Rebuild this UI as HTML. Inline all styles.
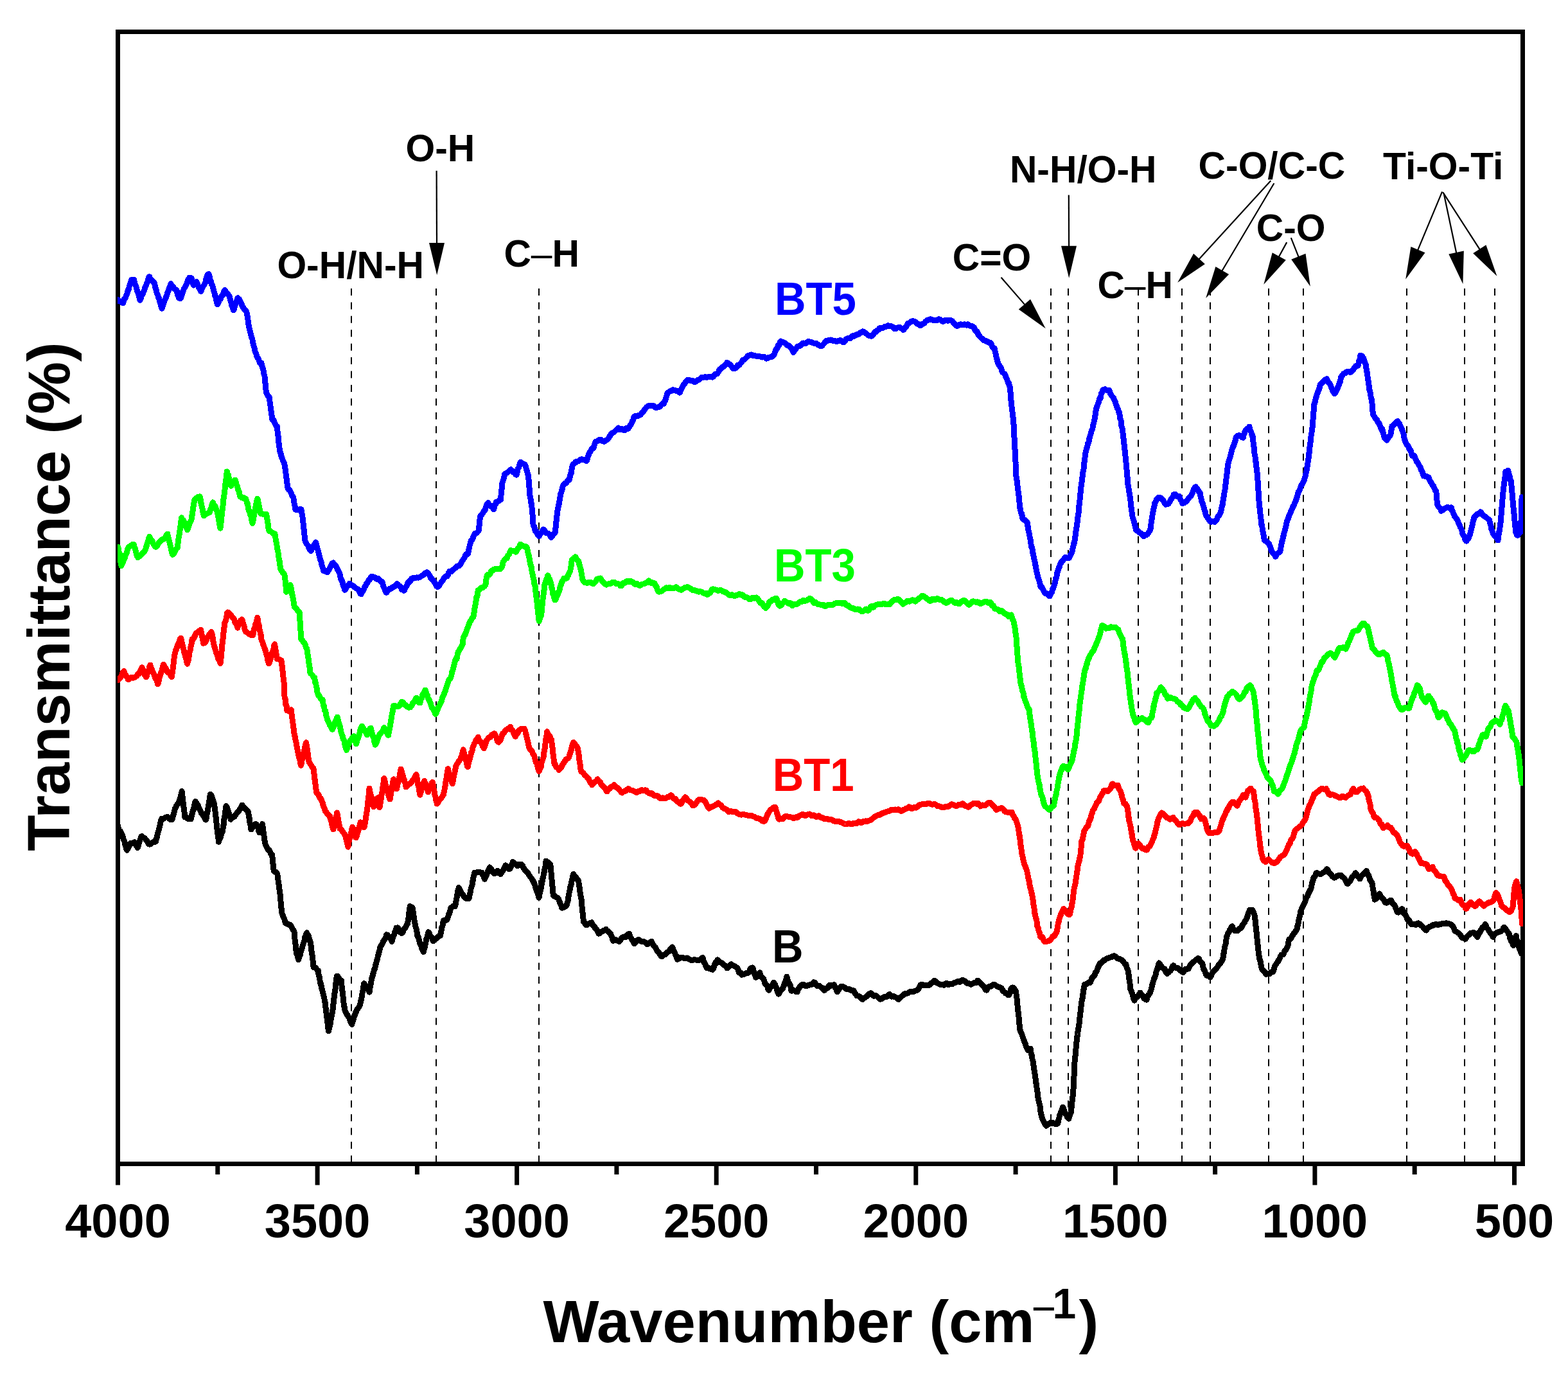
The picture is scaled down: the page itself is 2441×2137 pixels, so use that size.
<!DOCTYPE html>
<html><head><meta charset="utf-8"><style>
html,body{margin:0;padding:0;background:#fff;}
svg{display:block;}
text{font-family:"Liberation Sans",Arial,Helvetica,sans-serif;font-weight:bold;}
.tl{font-size:74px;text-anchor:middle;}
.an{font-size:58.8px;}
.lb{font-size:71.5px;}
.ax{font-size:92.2px;}
.ay{font-size:92px;}
</style></head><body>
<svg width="2441" height="2137" viewBox="0 0 2441 2137">
<rect width="2441" height="2137" fill="#fff"/>
<line x1="547" y1="449" x2="547" y2="1808" stroke="#000" stroke-width="2" stroke-dasharray="11 10.42"/>
<line x1="679" y1="449" x2="679" y2="1808" stroke="#000" stroke-width="2" stroke-dasharray="11 10.42"/>
<line x1="839" y1="449" x2="839" y2="1808" stroke="#000" stroke-width="2" stroke-dasharray="11 10.42"/>
<line x1="1636" y1="449" x2="1636" y2="1808" stroke="#000" stroke-width="2" stroke-dasharray="11 10.42"/>
<line x1="1663" y1="449" x2="1663" y2="1808" stroke="#000" stroke-width="2" stroke-dasharray="11 10.42"/>
<line x1="1772" y1="449" x2="1772" y2="1808" stroke="#000" stroke-width="2" stroke-dasharray="11 10.42"/>
<line x1="1840" y1="449" x2="1840" y2="1808" stroke="#000" stroke-width="2" stroke-dasharray="11 10.42"/>
<line x1="1884" y1="449" x2="1884" y2="1808" stroke="#000" stroke-width="2" stroke-dasharray="11 10.42"/>
<line x1="1975" y1="449" x2="1975" y2="1808" stroke="#000" stroke-width="2" stroke-dasharray="11 10.42"/>
<line x1="2029" y1="449" x2="2029" y2="1808" stroke="#000" stroke-width="2" stroke-dasharray="11 10.42"/>
<line x1="2190" y1="449" x2="2190" y2="1808" stroke="#000" stroke-width="2" stroke-dasharray="11 10.42"/>
<line x1="2280" y1="449" x2="2280" y2="1808" stroke="#000" stroke-width="2" stroke-dasharray="11 10.42"/>
<line x1="2327" y1="449" x2="2327" y2="1808" stroke="#000" stroke-width="2" stroke-dasharray="11 10.42"/>
<rect x="183.5" y="49.5" width="2187" height="1762" fill="none" stroke="#000" stroke-width="7"/>
<defs><clipPath id="pc"><rect x="183" y="53" width="2188" height="1755"/></clipPath></defs><g clip-path="url(#pc)">
<polyline points="183.0,1283.3 183.8,1286.6 184.6,1289.5 185.4,1291.8 186.2,1293.3 187.0,1293.4 187.8,1294.0 188.6,1295.9 189.3,1297.8 190.1,1299.4 190.9,1301.6 191.7,1304.1 192.2,1306.1 192.6,1307.1 193.1,1307.8 193.5,1309.0 194.0,1310.7 194.4,1313.2 194.9,1315.5 195.3,1316.5 195.8,1317.2 196.2,1319.2 196.7,1321.2 197.1,1322.1 197.6,1323.2 198.3,1322.0 199.1,1321.2 199.8,1319.9 200.5,1317.9 201.2,1316.0 201.9,1315.2 202.7,1313.8 203.4,1312.3 205.4,1312.5 207.3,1311.8 209.3,1310.7 210.1,1312.2 210.9,1313.5 211.7,1315.6 212.4,1316.6 213.2,1317.1 214.0,1319.6 214.6,1319.0 215.2,1316.9 215.8,1314.4 216.3,1312.7 216.9,1311.2 217.5,1309.1 218.1,1307.3 218.7,1305.8 219.2,1303.3 219.8,1302.0 220.4,1302.1 221.0,1301.5 222.2,1303.2 223.4,1303.9 224.5,1303.9 225.7,1305.0 226.9,1306.9 228.1,1307.8 229.2,1309.5 230.4,1312.0 231.6,1313.8 233.3,1314.1 235.1,1313.5 236.8,1311.7 238.6,1310.5 240.3,1309.6 242.1,1310.1 242.6,1309.7 243.0,1307.3 243.5,1305.0 244.0,1304.6 244.4,1303.4 244.9,1299.9 245.4,1297.5 245.9,1295.8 246.3,1294.1 246.8,1293.1 247.2,1291.4 247.6,1290.4 248.0,1288.7 248.4,1286.8 248.8,1286.0 249.2,1283.8 249.5,1281.3 249.9,1279.7 250.3,1278.7 250.7,1277.3 251.1,1275.5 251.5,1274.5 253.1,1274.6 254.6,1274.2 256.2,1273.2 257.8,1272.1 259.3,1271.8 260.9,1271.5 262.3,1272.5 263.7,1274.4 265.1,1275.6 266.5,1275.0 267.9,1275.5 268.3,1274.3 268.8,1272.8 269.2,1271.0 269.6,1269.1 270.0,1268.6 270.5,1267.4 270.9,1264.7 271.3,1263.0 271.7,1261.8 272.2,1260.1 272.6,1258.3 273.6,1256.6 274.5,1254.5 275.5,1252.6 276.5,1251.2 277.4,1250.4 278.4,1249.2 278.9,1247.3 279.3,1245.4 279.8,1244.1 280.3,1242.8 280.8,1241.3 281.2,1239.3 281.7,1237.2 282.2,1236.1 282.6,1234.4 283.1,1231.6 283.3,1232.5 283.5,1234.2 283.7,1236.9 283.9,1238.5 284.1,1239.7 284.3,1242.5 284.5,1244.7 284.7,1245.5 284.9,1246.9 285.1,1248.9 285.3,1251.1 285.6,1254.0 285.8,1255.8 286.0,1256.3 286.2,1257.5 286.4,1259.3 286.6,1261.0 286.8,1262.6 287.0,1263.9 287.2,1265.8 287.4,1268.5 287.6,1270.8 287.8,1271.7 289.4,1271.2 290.9,1272.4 292.5,1274.3 294.1,1274.3 295.6,1274.0 297.2,1274.8 297.6,1273.3 298.0,1271.2 298.4,1268.7 298.8,1267.1 299.1,1266.8 299.5,1265.1 299.9,1262.6 300.3,1261.7 300.7,1261.3 301.1,1260.7 301.5,1259.1 301.9,1257.0 302.3,1255.0 302.6,1253.5 303.0,1251.9 303.4,1250.2 303.8,1248.9 304.2,1247.5 305.0,1248.4 305.8,1249.8 306.5,1251.5 307.3,1252.1 308.1,1252.8 308.9,1255.2 309.6,1257.5 310.4,1259.1 311.2,1260.4 312.1,1262.0 312.9,1264.4 313.8,1266.1 314.6,1267.2 315.5,1268.1 316.3,1269.4 317.2,1270.8 318.0,1271.6 318.9,1273.7 319.7,1275.5 320.6,1276.1 320.9,1274.5 321.1,1273.7 321.4,1272.8 321.7,1270.8 321.9,1268.7 322.2,1266.8 322.5,1264.6 322.8,1263.5 323.0,1262.9 323.3,1262.2 323.6,1261.5 323.8,1259.5 324.1,1256.5 324.4,1255.1 324.6,1254.3 324.9,1252.3 325.2,1250.3 325.4,1248.5 325.7,1246.6 326.0,1245.5 326.3,1244.2 326.5,1241.4 326.8,1239.5 327.1,1237.9 327.3,1236.8 327.6,1236.2 328.2,1236.7 328.8,1237.3 329.4,1239.5 330.0,1240.8 330.6,1241.9 331.1,1244.1 331.7,1246.3 332.3,1248.0 332.9,1249.6 333.5,1250.9 333.7,1252.2 333.9,1254.0 334.1,1256.4 334.3,1258.1 334.5,1259.3 334.7,1260.7 334.9,1261.9 335.1,1263.9 335.2,1267.5 335.4,1269.8 335.6,1269.7 335.8,1270.0 336.0,1271.2 336.2,1272.7 336.4,1276.0 336.6,1278.8 336.8,1279.5 337.0,1280.9 337.2,1282.6 337.4,1283.5 337.6,1286.4 337.8,1289.5 338.0,1289.8 338.2,1289.5 338.4,1291.3 338.6,1294.3 338.8,1296.2 338.9,1297.0 339.1,1299.4 339.3,1302.3 339.5,1302.5 339.7,1302.4 339.9,1304.6 340.1,1306.6 340.3,1308.2 340.5,1310.4 341.1,1308.5 341.7,1306.1 342.3,1305.3 342.9,1304.8 343.4,1303.4 344.0,1301.0 344.6,1298.4 345.2,1296.2 345.8,1295.2 346.4,1294.3 346.6,1292.5 346.9,1290.6 347.1,1288.7 347.3,1287.3 347.6,1286.2 347.8,1284.6 348.0,1283.8 348.3,1283.0 348.5,1279.9 348.7,1276.3 349.0,1275.0 349.2,1274.3 349.4,1272.6 349.6,1271.1 349.9,1269.8 350.1,1268.5 350.3,1266.8 350.6,1264.5 350.8,1262.9 351.0,1261.3 351.3,1259.1 351.5,1257.4 351.7,1256.0 352.0,1254.8 352.2,1254.6 352.7,1256.9 353.3,1257.3 353.8,1257.6 354.4,1259.5 354.9,1261.6 355.5,1263.5 356.0,1265.0 356.6,1266.9 357.1,1269.1 357.7,1269.6 358.2,1270.1 358.8,1272.6 359.3,1275.3 360.7,1273.7 362.0,1271.5 363.4,1271.3 364.8,1271.4 366.1,1269.2 367.5,1267.1 368.4,1265.8 369.4,1264.4 370.3,1263.1 371.3,1262.8 372.2,1261.6 373.1,1259.4 374.1,1258.6 375.0,1257.7 376.0,1254.9 376.9,1253.0 378.1,1254.8 379.2,1256.0 380.4,1257.1 381.5,1258.1 382.7,1259.5 383.9,1261.1 385.0,1262.1 386.2,1262.8 386.5,1264.5 386.8,1266.8 387.1,1268.4 387.4,1269.7 387.7,1271.9 388.0,1273.4 388.3,1273.4 388.5,1275.4 388.8,1279.7 389.1,1281.2 389.4,1281.3 389.7,1283.0 390.0,1284.4 390.3,1286.0 390.6,1288.9 390.9,1290.9 392.1,1289.1 393.2,1287.5 394.4,1285.6 395.6,1284.1 396.8,1283.1 397.9,1282.5 399.1,1283.0 399.6,1284.7 400.1,1285.2 400.7,1286.9 401.2,1287.4 401.7,1288.0 402.2,1291.3 402.8,1294.0 403.3,1294.6 403.8,1296.0 404.4,1295.0 405.0,1292.8 405.6,1290.8 406.1,1289.2 406.7,1287.5 407.3,1285.9 407.9,1284.4 408.5,1282.5 408.7,1284.2 409.0,1286.1 409.2,1287.2 409.5,1289.2 409.7,1292.1 410.0,1294.3 410.2,1295.4 410.5,1296.4 410.7,1298.5 411.0,1301.0 411.2,1302.4 411.5,1303.1 411.7,1305.7 412.0,1308.6 412.2,1309.7 412.5,1310.5 412.7,1312.0 413.0,1313.8 413.2,1314.7 414.1,1315.8 414.9,1318.1 415.8,1319.7 416.7,1321.2 417.6,1323.3 418.4,1323.4 419.3,1323.4 420.2,1325.5 421.1,1327.8 421.9,1329.1 422.8,1329.8 423.7,1330.8 423.9,1332.2 424.0,1334.5 424.2,1337.0 424.4,1337.7 424.6,1338.3 424.7,1340.9 424.9,1343.6 425.1,1344.7 425.2,1345.4 425.4,1347.1 425.6,1349.6 425.8,1351.0 425.9,1351.9 426.1,1355.1 427.3,1357.0 428.4,1356.9 429.6,1357.4 430.7,1358.5 431.9,1360.7 432.1,1363.0 432.3,1364.8 432.6,1366.8 432.8,1368.0 433.0,1370.1 433.2,1371.9 433.4,1372.8 433.6,1374.6 433.9,1376.0 434.1,1376.8 434.3,1378.0 434.5,1379.9 434.7,1382.4 435.0,1384.3 435.2,1385.6 435.4,1387.3 435.6,1388.4 435.7,1389.0 435.9,1390.0 436.1,1392.3 436.2,1395.0 436.4,1396.5 436.5,1398.2 436.7,1400.2 436.9,1401.1 437.0,1403.1 437.2,1405.9 437.4,1407.2 437.5,1408.4 437.7,1410.6 437.9,1412.1 438.0,1413.3 438.2,1414.8 438.3,1415.4 438.5,1417.1 438.7,1419.3 438.8,1420.6 439.0,1421.7 439.6,1423.0 440.3,1424.9 440.9,1426.7 441.6,1428.0 442.2,1429.2 442.9,1431.2 443.5,1433.9 444.2,1436.1 444.8,1437.1 446.6,1437.0 448.4,1438.4 450.1,1439.8 451.9,1439.7 452.9,1440.5 453.8,1442.6 454.8,1444.9 455.8,1446.6 456.7,1448.2 457.7,1448.9 457.9,1449.5 458.1,1451.3 458.2,1452.3 458.4,1453.5 458.6,1455.5 458.8,1457.8 458.9,1461.1 459.1,1463.0 459.3,1463.3 459.4,1464.2 459.6,1465.2 459.8,1467.2 460.0,1469.3 460.1,1470.7 460.3,1472.6 460.5,1474.4 460.7,1476.6 460.8,1478.1 461.0,1479.6 461.2,1482.0 461.7,1484.0 462.2,1485.6 462.7,1486.5 463.2,1487.4 463.7,1489.8 464.2,1492.3 464.7,1493.8 465.2,1491.6 465.6,1489.1 466.1,1487.0 466.6,1487.2 467.1,1487.1 467.5,1484.7 468.0,1482.1 468.5,1480.5 469.0,1479.5 469.4,1478.2 469.9,1476.2 470.4,1474.6 470.9,1473.1 471.3,1471.6 471.8,1469.9 472.3,1468.4 472.8,1467.1 473.2,1466.0 473.7,1464.9 474.2,1462.1 474.7,1458.9 475.2,1457.6 475.7,1457.2 476.2,1455.6 476.6,1453.7 477.1,1452.6 477.6,1451.8 478.2,1453.8 478.8,1455.0 479.4,1455.6 480.0,1455.7 480.6,1457.2 481.1,1459.9 481.7,1461.7 482.3,1464.0 482.9,1466.3 483.5,1467.3 483.7,1469.6 483.9,1471.0 484.1,1471.5 484.3,1473.4 484.5,1475.2 484.7,1476.9 484.9,1479.0 485.1,1481.7 485.3,1483.5 485.5,1484.5 485.7,1485.3 486.0,1486.3 486.2,1488.6 486.4,1491.1 486.6,1492.1 486.8,1492.8 487.0,1494.9 487.2,1497.4 487.4,1498.4 487.6,1499.5 487.8,1502.0 488.0,1504.4 488.2,1505.5 489.4,1505.5 490.5,1505.9 491.7,1506.7 492.9,1508.4 494.0,1510.1 495.2,1510.4 495.5,1512.2 495.9,1515.6 496.2,1518.0 496.6,1519.1 496.9,1520.0 497.3,1520.8 497.6,1523.1 498.0,1526.0 498.3,1528.4 498.7,1530.1 499.0,1529.9 499.4,1530.7 499.7,1533.4 500.1,1533.8 500.4,1534.5 500.8,1537.8 501.1,1539.8 501.5,1540.3 501.9,1542.1 502.3,1544.3 502.7,1545.6 503.1,1547.0 503.5,1548.5 503.8,1549.4 504.2,1550.9 504.6,1552.9 505.0,1555.0 505.4,1557.5 505.8,1559.5 506.0,1560.1 506.2,1560.6 506.4,1562.3 506.6,1563.8 506.8,1565.7 507.0,1568.6 507.2,1570.7 507.4,1571.5 507.6,1572.8 507.8,1574.5 508.0,1576.1 508.2,1577.8 508.4,1578.8 508.6,1580.5 508.8,1582.7 509.0,1584.4 509.2,1586.7 509.4,1588.3 509.6,1588.9 509.8,1590.1 510.0,1592.6 510.2,1595.4 510.4,1597.0 510.6,1598.0 510.8,1599.7 511.0,1601.5 511.2,1603.4 511.4,1604.9 511.6,1605.0 511.9,1602.3 512.2,1601.3 512.5,1600.7 512.8,1599.2 513.2,1597.1 513.5,1596.1 513.8,1596.3 514.1,1594.4 514.4,1591.0 514.7,1588.8 515.0,1587.2 515.3,1586.2 515.6,1584.5 515.9,1582.4 516.3,1581.2 516.6,1579.6 516.9,1578.3 517.2,1577.2 517.5,1575.8 517.7,1574.0 517.9,1572.0 518.1,1570.7 518.3,1569.2 518.5,1566.9 518.7,1565.1 518.9,1563.5 519.1,1561.6 519.3,1560.0 519.5,1559.0 519.7,1557.5 519.9,1554.7 520.1,1552.8 520.3,1552.4 520.5,1551.3 520.7,1548.7 520.9,1546.2 521.1,1544.9 521.3,1543.2 521.5,1541.9 521.7,1541.7 521.9,1540.4 522.1,1538.7 522.3,1536.8 522.5,1534.1 522.7,1531.1 522.9,1529.6 523.1,1530.1 523.3,1529.3 523.5,1527.5 523.7,1526.0 523.9,1523.0 524.1,1520.4 524.3,1520.2 524.5,1519.1 525.5,1519.4 526.5,1520.9 527.5,1522.7 528.5,1523.7 529.5,1525.8 530.5,1526.8 531.5,1526.0 531.7,1527.4 531.9,1530.5 532.0,1533.6 532.2,1535.9 532.4,1537.1 532.6,1537.9 532.8,1539.4 532.9,1541.0 533.1,1543.6 533.3,1546.0 533.5,1547.5 533.7,1548.1 533.9,1548.7 534.0,1551.0 534.2,1553.6 534.4,1555.2 534.6,1555.9 534.8,1557.7 534.9,1560.3 535.1,1561.6 535.3,1562.2 535.5,1563.5 535.7,1565.6 535.8,1566.3 536.0,1566.6 536.2,1569.0 536.9,1572.3 537.7,1574.6 538.4,1575.7 539.2,1576.9 539.9,1578.5 540.6,1579.5 541.4,1580.5 542.1,1582.1 542.8,1583.3 543.5,1584.3 544.3,1586.4 545.0,1588.6 545.7,1590.2 546.5,1592.3 547.2,1593.7 547.9,1594.4 548.4,1592.0 549.0,1589.7 549.5,1588.5 550.1,1586.9 550.6,1584.7 551.2,1582.5 551.7,1581.0 552.3,1580.3 552.8,1578.9 553.4,1576.8 553.9,1575.5 554.5,1574.8 555.0,1572.9 556.0,1571.1 556.9,1570.4 557.9,1568.7 558.9,1566.9 559.8,1565.8 560.8,1563.2 561.1,1560.5 561.4,1558.9 561.7,1557.9 562.0,1557.9 562.3,1556.8 562.6,1554.6 562.9,1552.9 563.2,1550.9 563.5,1549.3 563.8,1548.2 564.0,1546.0 564.3,1544.1 564.6,1543.3 564.9,1542.0 565.2,1539.9 565.5,1537.4 565.8,1535.4 566.1,1533.4 566.4,1531.5 566.7,1530.7 567.5,1532.8 568.3,1533.3 569.2,1534.2 570.0,1535.6 570.8,1536.7 571.6,1538.2 572.4,1539.3 573.3,1540.1 574.1,1541.7 574.9,1544.1 575.2,1543.3 575.4,1541.8 575.7,1540.6 576.0,1538.0 576.2,1534.9 576.5,1534.6 576.8,1534.5 577.1,1531.7 577.3,1529.0 577.6,1528.4 577.9,1527.8 578.1,1526.2 578.4,1523.9 578.9,1522.4 579.3,1521.4 579.8,1519.9 580.3,1517.8 580.7,1516.1 581.2,1514.7 581.7,1513.1 582.1,1511.3 582.6,1509.0 583.1,1508.1 583.5,1507.6 584.0,1506.1 584.5,1503.6 584.9,1501.2 585.4,1500.2 585.8,1498.8 586.2,1496.6 586.6,1495.2 587.0,1494.2 587.4,1493.2 587.8,1491.4 588.2,1488.5 588.5,1487.3 588.9,1487.0 589.3,1484.8 589.7,1482.4 590.1,1481.7 590.5,1481.0 590.9,1479.0 591.3,1476.4 592.0,1473.8 592.8,1472.0 593.5,1471.3 594.3,1470.5 595.0,1469.1 595.8,1467.3 596.5,1465.4 597.3,1464.1 598.0,1463.3 598.8,1462.1 599.5,1460.6 600.3,1459.2 601.0,1457.5 601.8,1454.8 603.0,1455.0 604.1,1456.8 605.3,1458.7 606.5,1459.3 607.7,1459.8 608.8,1462.6 610.0,1465.4 610.5,1462.3 611.1,1460.7 611.6,1460.2 612.2,1457.8 612.7,1455.7 613.3,1455.4 613.8,1454.3 614.4,1451.3 614.9,1449.6 615.5,1449.9 616.0,1449.4 616.6,1446.9 617.1,1444.2 618.3,1444.3 619.4,1443.9 620.6,1445.8 621.8,1449.2 623.0,1451.0 624.1,1451.3 625.3,1452.4 626.2,1452.0 627.2,1450.5 628.1,1447.9 629.0,1445.7 630.0,1444.6 630.9,1444.1 631.8,1442.5 632.7,1440.4 633.7,1439.0 634.6,1437.9 634.8,1435.7 635.0,1433.9 635.2,1433.7 635.4,1432.4 635.7,1430.1 635.9,1428.8 636.1,1427.8 636.3,1426.1 636.5,1423.9 636.7,1422.1 636.9,1419.9 637.1,1418.5 637.4,1418.0 637.6,1416.6 637.8,1414.7 638.0,1412.5 638.2,1410.6 640.2,1412.1 642.2,1412.8 642.4,1413.7 642.7,1415.6 642.9,1417.6 643.2,1419.3 643.4,1420.9 643.7,1421.9 643.9,1423.4 644.1,1425.7 644.4,1427.8 644.6,1429.1 644.9,1430.5 645.1,1432.7 645.4,1434.6 645.6,1435.7 645.9,1436.7 646.2,1438.1 646.6,1440.1 646.9,1442.1 647.2,1443.1 647.5,1443.9 647.9,1444.9 648.2,1446.6 648.5,1448.2 648.8,1449.3 649.1,1451.0 649.5,1453.3 649.8,1456.1 650.1,1457.6 650.7,1457.2 651.2,1458.0 651.8,1460.4 652.4,1462.6 652.9,1465.4 653.5,1467.5 654.0,1468.5 654.6,1469.7 655.2,1470.6 655.7,1472.2 656.3,1474.8 656.9,1476.7 657.4,1477.9 658.0,1478.4 658.5,1479.7 659.1,1481.8 659.5,1480.0 659.9,1478.5 660.3,1477.5 660.7,1476.0 661.1,1474.4 661.5,1473.5 661.9,1471.4 662.3,1468.7 662.7,1467.4 663.0,1466.1 663.4,1464.0 663.8,1461.8 664.2,1460.5 664.6,1459.7 665.0,1458.5 665.4,1456.9 665.8,1455.2 666.2,1454.2 666.6,1453.1 667.0,1450.7 667.9,1451.8 668.7,1454.0 669.6,1456.4 670.5,1457.7 671.3,1458.5 672.2,1459.4 673.1,1461.3 673.9,1463.6 674.8,1464.9 676.2,1462.8 677.7,1461.6 679.1,1460.7 680.6,1459.2 682.0,1458.3 683.5,1457.0 684.9,1456.7 685.3,1456.5 685.7,1454.5 686.0,1452.7 686.4,1451.7 686.8,1449.5 687.2,1447.0 687.6,1444.9 687.9,1443.5 688.3,1442.6 688.7,1441.7 689.1,1440.2 689.5,1438.0 689.8,1435.6 690.2,1433.9 690.6,1432.4 692.5,1432.0 694.3,1432.2 696.2,1431.2 696.7,1428.7 697.2,1427.6 697.7,1426.6 698.2,1424.2 698.7,1422.9 699.3,1422.1 699.8,1420.9 700.3,1419.5 700.8,1417.5 701.3,1415.3 701.8,1413.2 703.5,1412.0 705.1,1410.7 706.8,1410.1 708.5,1410.4 708.8,1409.3 709.1,1407.9 709.5,1405.9 709.8,1403.6 710.1,1401.7 710.4,1399.9 710.7,1398.5 711.0,1397.4 711.4,1396.1 711.7,1393.8 712.0,1391.6 712.3,1390.4 712.6,1388.6 712.9,1386.2 713.2,1385.1 713.6,1384.7 713.9,1383.3 714.2,1381.5 714.9,1383.2 715.7,1384.3 716.4,1385.5 717.2,1387.7 717.9,1389.2 718.7,1390.3 719.4,1391.8 720.2,1392.2 720.9,1393.2 722.4,1395.6 723.9,1397.3 725.4,1398.1 726.9,1398.7 728.4,1398.6 729.9,1398.7 730.3,1396.9 730.6,1395.1 731.0,1393.1 731.4,1391.9 731.8,1391.0 732.1,1388.5 732.5,1386.4 732.9,1384.7 733.3,1382.5 733.6,1381.5 734.0,1380.6 734.4,1379.4 734.8,1378.3 735.1,1376.9 735.5,1374.1 735.9,1371.5 736.3,1370.2 736.6,1368.2 737.0,1365.9 737.4,1364.0 737.8,1362.5 738.1,1361.8 738.5,1360.1 738.9,1358.3 740.5,1358.5 742.1,1357.9 743.7,1357.4 745.3,1357.1 746.9,1357.3 748.5,1358.0 750.1,1358.2 750.9,1360.2 751.6,1362.0 752.4,1363.2 753.1,1364.6 753.9,1366.5 754.6,1368.4 755.3,1366.6 755.9,1364.3 756.6,1363.2 757.2,1362.8 757.9,1360.6 758.5,1358.6 759.2,1357.4 759.9,1355.6 760.5,1354.3 761.2,1353.2 761.8,1351.8 762.5,1349.9 763.5,1351.1 764.4,1352.4 765.4,1354.0 766.3,1356.3 767.3,1357.7 768.2,1358.4 769.2,1359.7 770.6,1359.3 772.0,1358.3 773.4,1356.2 774.8,1355.1 775.9,1357.4 777.0,1358.9 778.2,1359.6 779.3,1360.6 780.2,1359.3 781.1,1357.7 781.9,1356.3 782.8,1355.2 783.7,1353.5 784.6,1351.6 785.4,1350.2 786.3,1348.7 787.2,1346.8 788.1,1348.0 789.1,1349.8 790.0,1351.0 790.9,1351.5 791.9,1352.1 792.8,1352.9 793.4,1352.2 794.0,1352.0 794.7,1350.8 795.3,1349.6 795.9,1348.7 796.5,1346.5 797.2,1344.9 797.8,1343.7 798.4,1341.5 799.7,1342.3 801.0,1344.0 802.3,1344.7 803.7,1345.9 805.0,1347.6 806.3,1347.5 807.8,1345.3 809.3,1345.8 810.8,1345.4 811.8,1345.4 812.7,1346.0 813.7,1347.6 814.6,1350.0 815.6,1351.6 816.5,1353.2 817.5,1355.1 818.5,1356.1 819.6,1356.6 820.6,1356.9 821.6,1358.1 822.7,1360.2 823.7,1362.0 824.7,1363.7 825.8,1365.4 826.8,1366.3 827.8,1367.6 828.9,1369.6 829.9,1370.4 830.4,1371.8 831.0,1374.1 831.5,1374.8 832.0,1375.1 832.5,1377.0 833.1,1379.1 833.6,1380.9 834.1,1382.2 834.7,1383.9 835.2,1386.1 835.7,1386.6 836.3,1387.3 836.8,1390.1 837.3,1391.6 837.8,1392.8 838.4,1394.9 838.9,1397.0 839.3,1396.1 839.6,1394.3 840.0,1391.6 840.4,1389.8 840.8,1388.4 841.1,1386.9 841.5,1386.1 841.9,1384.4 842.3,1382.5 842.6,1381.0 843.0,1378.1 843.4,1375.0 843.7,1373.7 844.0,1373.2 844.3,1371.1 844.6,1368.0 844.9,1366.7 845.2,1366.2 845.5,1365.5 845.8,1365.1 846.1,1362.4 846.4,1359.3 846.8,1358.9 847.1,1357.8 847.4,1355.5 847.7,1354.1 848.0,1352.5 848.3,1350.9 848.6,1350.2 848.9,1349.2 849.2,1345.9 849.5,1342.6 849.8,1341.2 850.1,1340.1 851.5,1341.4 852.8,1342.0 854.2,1343.1 855.5,1344.8 856.9,1345.6 857.0,1347.0 857.2,1348.2 857.3,1349.2 857.5,1350.6 857.6,1352.8 857.8,1355.4 857.9,1357.1 858.0,1358.2 858.2,1359.3 858.3,1360.9 858.5,1362.2 858.6,1363.9 858.7,1366.8 858.9,1368.2 859.0,1368.8 859.2,1370.7 859.3,1372.6 859.5,1373.0 859.6,1373.6 859.7,1376.2 859.9,1379.0 860.0,1379.8 860.2,1380.4 860.3,1381.7 860.4,1383.6 860.6,1385.4 860.7,1387.5 860.9,1389.6 861.0,1390.5 861.2,1391.7 861.3,1394.0 863.0,1394.9 864.7,1395.6 866.4,1396.7 868.1,1397.3 868.8,1398.4 869.4,1399.0 870.1,1400.6 870.8,1402.7 871.5,1404.2 872.1,1406.1 872.8,1407.7 873.5,1409.0 874.1,1410.9 874.8,1413.2 876.4,1412.7 878.0,1412.1 879.5,1411.2 881.1,1410.0 882.7,1408.1 883.0,1405.6 883.3,1404.5 883.6,1403.8 883.9,1403.1 884.3,1401.3 884.6,1398.4 884.9,1395.8 885.2,1394.4 885.5,1393.5 885.8,1391.4 886.1,1389.2 886.4,1387.9 886.7,1386.8 887.1,1385.3 887.4,1383.6 887.7,1381.5 888.0,1379.1 888.3,1378.1 888.7,1378.4 889.1,1377.4 889.5,1374.8 889.9,1372.2 890.3,1370.4 890.8,1368.5 891.2,1366.0 891.6,1364.0 892.0,1363.0 892.4,1361.8 892.8,1360.4 893.8,1362.5 894.8,1363.6 895.8,1364.3 896.8,1365.8 897.7,1367.6 898.7,1368.4 899.7,1369.2 900.7,1371.0 900.9,1373.2 901.2,1375.7 901.4,1377.4 901.6,1378.6 901.9,1379.7 902.1,1381.0 902.4,1383.1 902.6,1384.4 902.8,1386.5 903.1,1389.2 903.3,1391.7 903.5,1393.4 903.8,1393.7 904.0,1394.0 904.3,1395.6 904.5,1397.8 904.7,1398.6 905.0,1399.4 905.2,1401.8 905.4,1404.8 905.5,1406.8 905.7,1408.1 905.9,1409.8 906.1,1411.6 906.2,1413.2 906.4,1414.9 906.6,1416.7 906.8,1418.2 906.9,1419.8 907.1,1421.1 907.3,1422.3 907.5,1423.9 907.6,1425.6 907.8,1427.4 908.0,1429.6 908.2,1431.8 908.3,1433.9 908.5,1434.9 910.0,1436.3 911.5,1438.8 913.0,1439.9 914.6,1438.2 916.2,1437.9 917.7,1437.6 919.3,1436.3 920.9,1435.8 921.8,1438.4 922.8,1440.2 923.7,1441.0 924.6,1441.6 925.6,1442.7 926.5,1444.6 927.4,1445.8 928.4,1445.9 929.3,1447.5 930.2,1449.8 931.2,1451.4 932.1,1453.2 933.5,1452.6 934.9,1451.6 936.3,1450.5 937.8,1449.6 939.2,1448.6 940.6,1448.0 942.0,1447.3 943.4,1446.5 944.7,1448.5 946.1,1449.5 947.4,1449.7 948.8,1451.5 950.1,1453.3 950.9,1454.1 951.6,1456.0 952.4,1457.5 953.1,1459.4 953.9,1462.6 954.6,1464.3 956.2,1463.4 957.8,1462.8 959.3,1462.9 960.9,1463.8 962.5,1465.1 963.8,1465.4 965.1,1464.5 966.4,1462.4 967.6,1460.3 968.9,1458.9 970.2,1458.2 971.5,1458.0 973.1,1458.8 974.6,1458.3 976.2,1455.9 977.7,1454.2 979.3,1453.1 980.1,1454.8 980.9,1457.3 981.7,1459.1 982.5,1460.2 983.2,1461.7 984.0,1463.1 984.8,1463.6 985.6,1464.9 986.4,1466.9 987.2,1468.8 988.5,1468.0 989.9,1466.1 991.2,1464.0 992.6,1463.4 993.9,1462.6 995.4,1463.4 996.9,1464.4 998.4,1465.4 999.9,1466.0 1001.4,1465.7 1002.9,1465.8 1004.4,1466.7 1005.9,1468.4 1007.4,1469.7 1009.1,1468.6 1010.8,1468.0 1012.5,1466.6 1014.2,1465.3 1015.1,1467.2 1015.9,1469.2 1016.8,1470.6 1017.7,1471.7 1018.5,1473.0 1019.4,1473.8 1020.3,1474.5 1021.1,1475.9 1022.0,1477.7 1023.0,1479.6 1024.0,1481.2 1025.0,1482.2 1026.0,1483.3 1027.0,1484.8 1028.0,1486.0 1029.0,1487.8 1030.0,1488.8 1031.0,1488.5 1032.2,1486.8 1033.4,1486.0 1034.6,1485.8 1035.8,1485.8 1037.0,1484.6 1038.2,1482.9 1039.5,1481.8 1040.7,1481.1 1041.9,1480.0 1043.1,1478.2 1044.3,1476.7 1045.5,1475.4 1046.7,1474.0 1047.4,1476.0 1048.0,1478.3 1048.7,1480.0 1049.3,1481.3 1050.0,1482.3 1050.7,1483.7 1051.3,1485.9 1052.0,1486.7 1052.6,1487.5 1053.3,1489.8 1053.9,1491.9 1054.6,1493.3 1056.2,1492.4 1057.8,1491.3 1059.3,1490.1 1060.9,1490.2 1062.5,1490.5 1064.3,1491.2 1066.0,1491.6 1067.8,1491.3 1069.5,1491.0 1071.3,1491.7 1073.0,1493.2 1074.8,1494.0 1076.6,1494.4 1078.4,1494.3 1080.2,1493.8 1082.0,1493.9 1083.8,1494.1 1085.5,1494.4 1087.2,1494.8 1088.8,1494.2 1090.5,1493.1 1092.2,1491.7 1093.9,1490.3 1094.6,1492.1 1095.3,1495.6 1096.0,1497.9 1096.7,1498.4 1097.5,1499.8 1098.2,1501.7 1098.9,1503.7 1099.6,1505.4 1100.3,1506.4 1102.1,1506.2 1103.9,1507.2 1105.6,1508.1 1107.4,1508.1 1109.2,1509.3 1110.0,1508.7 1110.7,1507.3 1111.5,1504.9 1112.2,1502.3 1113.0,1500.2 1113.8,1498.3 1114.5,1498.5 1115.3,1498.9 1116.0,1496.5 1116.8,1493.9 1118.3,1495.4 1119.8,1496.8 1121.2,1497.4 1122.7,1498.2 1124.2,1499.4 1125.7,1501.0 1127.0,1502.1 1128.3,1502.5 1129.5,1503.3 1130.8,1505.0 1132.1,1506.9 1133.4,1505.6 1134.6,1504.4 1135.9,1503.3 1137.1,1502.0 1138.4,1500.9 1139.9,1502.1 1141.4,1502.9 1142.8,1503.5 1144.3,1504.3 1145.8,1505.3 1147.3,1506.2 1148.2,1507.1 1149.2,1509.7 1150.2,1513.3 1151.1,1514.3 1152.0,1513.5 1153.0,1514.0 1154.0,1515.7 1154.9,1517.2 1156.4,1516.4 1157.9,1516.2 1159.3,1516.1 1160.8,1515.3 1162.3,1514.6 1163.8,1514.5 1165.1,1514.1 1166.4,1512.0 1167.7,1508.8 1168.9,1506.8 1170.2,1506.7 1171.5,1506.1 1172.0,1507.0 1172.5,1508.0 1173.0,1510.0 1173.5,1512.2 1174.0,1513.9 1174.5,1515.4 1175.0,1516.7 1175.5,1517.9 1176.0,1519.5 1176.5,1521.3 1177.8,1520.4 1179.1,1520.2 1180.3,1518.5 1181.6,1515.4 1182.9,1513.9 1183.7,1516.8 1184.5,1519.2 1185.3,1520.4 1186.1,1521.4 1186.9,1522.2 1187.8,1522.6 1188.6,1523.7 1189.4,1525.4 1190.2,1527.8 1191.0,1530.9 1191.8,1531.8 1192.5,1532.0 1193.3,1533.6 1194.0,1534.5 1194.7,1535.6 1195.4,1538.2 1196.2,1540.0 1196.9,1541.2 1197.7,1539.7 1198.6,1537.2 1199.4,1535.2 1200.3,1534.7 1201.1,1534.9 1202.0,1535.2 1202.8,1533.5 1203.7,1531.1 1204.5,1529.2 1205.1,1530.4 1205.8,1531.4 1206.4,1532.3 1207.0,1533.8 1207.7,1535.4 1208.3,1536.5 1208.9,1538.2 1209.6,1540.9 1210.2,1543.2 1210.8,1544.8 1211.5,1546.0 1212.1,1547.2 1213.1,1545.6 1214.2,1543.2 1215.2,1541.5 1216.3,1540.9 1217.4,1539.8 1218.4,1538.7 1219.0,1537.2 1219.6,1535.8 1220.1,1534.5 1220.7,1533.1 1221.3,1531.2 1221.9,1529.2 1222.5,1528.1 1223.1,1526.7 1223.6,1525.1 1224.2,1522.6 1224.8,1520.0 1225.4,1522.1 1226.0,1524.3 1226.6,1527.0 1227.1,1529.8 1227.7,1530.7 1228.3,1530.5 1228.9,1531.0 1229.5,1532.2 1230.1,1532.9 1230.6,1534.1 1231.2,1537.5 1231.8,1541.4 1232.4,1542.3 1234.2,1541.1 1236.0,1541.4 1237.7,1542.2 1239.5,1543.5 1241.3,1543.8 1242.2,1541.0 1243.1,1539.2 1244.0,1538.1 1245.0,1536.2 1245.9,1534.8 1246.8,1534.1 1247.7,1532.9 1249.4,1532.6 1251.1,1532.4 1252.8,1533.7 1254.4,1534.8 1256.1,1534.5 1257.8,1533.9 1259.3,1533.1 1260.8,1532.8 1262.2,1532.7 1263.7,1532.3 1265.2,1530.6 1266.7,1528.8 1268.1,1529.3 1269.5,1530.7 1270.8,1533.0 1272.2,1534.7 1273.6,1534.8 1275.0,1534.5 1276.3,1534.8 1277.7,1536.1 1279.1,1537.4 1280.5,1538.6 1281.8,1540.3 1283.2,1541.7 1284.5,1539.8 1285.8,1538.3 1287.1,1538.4 1288.3,1537.9 1289.6,1535.5 1290.9,1533.4 1292.8,1534.0 1294.7,1534.1 1296.6,1533.1 1298.5,1532.9 1299.2,1534.7 1299.9,1536.7 1300.6,1538.1 1301.4,1538.9 1302.1,1540.7 1302.8,1542.7 1303.5,1543.8 1304.3,1542.1 1305.2,1541.2 1306.0,1540.4 1306.9,1538.6 1307.8,1536.7 1308.6,1535.7 1310.3,1536.0 1312.0,1535.5 1313.7,1536.0 1315.4,1537.7 1317.1,1539.2 1318.8,1540.0 1320.5,1539.5 1322.2,1539.5 1323.8,1540.9 1325.5,1541.8 1327.2,1541.7 1328.9,1541.7 1329.9,1543.8 1330.9,1546.1 1332.0,1547.3 1333.0,1548.4 1334.0,1549.9 1335.5,1550.1 1337.0,1550.5 1338.5,1551.3 1339.9,1552.6 1341.4,1554.6 1342.9,1555.6 1344.5,1554.1 1346.1,1552.8 1347.7,1552.0 1349.2,1550.8 1350.8,1549.0 1352.4,1547.3 1354.0,1546.3 1355.6,1545.8 1357.1,1547.0 1358.6,1548.7 1360.1,1550.2 1361.6,1550.0 1363.1,1549.6 1364.6,1550.2 1366.1,1551.7 1367.6,1553.0 1369.1,1554.1 1370.6,1555.3 1372.1,1554.8 1373.5,1552.9 1374.9,1552.7 1376.3,1552.5 1377.7,1551.4 1379.2,1551.0 1380.6,1551.2 1382.0,1550.0 1383.4,1548.1 1384.8,1547.4 1386.4,1549.7 1387.9,1551.2 1389.5,1550.7 1391.0,1550.6 1392.6,1551.6 1394.1,1552.1 1395.7,1553.1 1397.2,1554.4 1398.8,1555.3 1400.1,1553.6 1401.3,1552.4 1402.6,1551.7 1403.9,1550.5 1405.2,1549.5 1406.4,1548.8 1407.7,1547.4 1409.3,1546.5 1410.9,1546.1 1412.6,1546.0 1414.2,1545.2 1415.8,1544.0 1417.4,1543.3 1419.0,1543.4 1420.6,1543.7 1422.3,1543.2 1423.9,1542.4 1425.5,1542.0 1426.8,1541.5 1428.0,1540.8 1429.3,1539.9 1430.5,1538.2 1431.8,1534.9 1433.1,1532.7 1434.3,1532.4 1435.6,1532.5 1437.3,1533.7 1439.0,1533.7 1440.7,1533.1 1442.4,1533.5 1444.1,1533.7 1445.8,1533.8 1447.3,1532.7 1448.8,1531.2 1450.2,1529.7 1451.7,1529.0 1453.2,1528.3 1454.7,1526.3 1456.1,1527.1 1457.5,1528.8 1459.0,1530.0 1460.4,1530.8 1461.8,1531.3 1463.2,1532.1 1464.7,1532.8 1466.1,1532.9 1467.8,1532.9 1469.5,1533.3 1471.2,1532.2 1472.9,1530.4 1474.6,1530.8 1476.3,1532.6 1478.0,1531.8 1479.7,1531.1 1481.4,1531.8 1483.0,1531.3 1484.6,1530.2 1486.2,1529.6 1487.8,1529.3 1489.4,1528.2 1491.1,1527.4 1492.7,1527.9 1494.3,1528.5 1495.9,1527.4 1497.5,1525.6 1499.1,1525.5 1500.7,1526.7 1502.3,1527.3 1503.9,1528.7 1505.5,1530.3 1507.1,1530.8 1508.7,1530.6 1510.3,1531.5 1511.9,1532.3 1513.3,1531.3 1514.8,1530.9 1516.2,1529.9 1517.7,1529.5 1519.1,1529.9 1520.6,1528.1 1522.0,1526.2 1523.3,1527.6 1524.5,1528.6 1525.8,1530.0 1527.1,1531.5 1528.4,1532.5 1529.6,1534.0 1530.9,1535.2 1532.2,1536.8 1533.5,1539.3 1534.7,1540.9 1536.0,1541.1 1537.5,1538.3 1538.9,1535.9 1540.4,1535.1 1541.8,1535.6 1543.3,1535.0 1544.7,1533.6 1546.2,1532.4 1547.6,1532.4 1549.0,1532.8 1550.5,1534.0 1551.9,1534.9 1553.3,1535.5 1554.8,1536.2 1556.2,1536.8 1557.6,1537.3 1558.9,1538.0 1560.1,1539.7 1561.4,1542.4 1562.7,1543.5 1563.9,1544.2 1565.2,1545.9 1566.5,1546.4 1567.8,1546.9 1569.0,1548.0 1570.3,1549.0 1570.9,1547.2 1571.4,1546.1 1572.0,1546.0 1572.6,1544.6 1573.1,1541.6 1573.7,1539.6 1574.3,1539.1 1574.8,1539.0 1575.4,1537.2 1576.7,1537.0 1577.9,1537.9 1579.2,1539.3 1580.4,1541.1 1581.7,1543.0 1581.9,1544.9 1582.0,1547.2 1582.2,1549.1 1582.4,1549.8 1582.6,1550.5 1582.7,1551.8 1582.9,1553.3 1583.1,1555.1 1583.3,1557.2 1583.4,1559.6 1583.6,1560.8 1583.8,1561.0 1583.9,1563.1 1584.1,1566.1 1584.3,1567.8 1584.5,1569.3 1584.6,1571.4 1584.8,1573.4 1585.0,1574.8 1585.2,1575.7 1585.3,1577.1 1585.5,1578.6 1585.7,1579.3 1585.8,1580.8 1586.0,1583.0 1586.2,1584.0 1586.3,1585.4 1586.5,1587.9 1586.7,1590.3 1586.8,1592.9 1587.0,1594.4 1587.2,1595.1 1587.3,1596.8 1587.5,1599.2 1587.7,1600.2 1587.8,1601.3 1588.0,1603.4 1588.6,1604.7 1589.2,1605.9 1589.8,1607.8 1590.4,1609.2 1591.0,1610.3 1591.6,1612.3 1592.1,1614.0 1592.7,1615.7 1593.3,1617.6 1593.9,1618.7 1594.5,1620.2 1595.1,1622.1 1595.7,1623.3 1596.4,1625.4 1597.1,1627.8 1597.8,1629.6 1598.6,1631.3 1599.3,1632.9 1600.0,1634.3 1602.0,1632.8 1604.1,1632.0 1604.4,1634.2 1604.8,1636.5 1605.1,1638.8 1605.5,1640.2 1605.8,1641.6 1606.2,1642.7 1606.5,1644.0 1606.9,1646.9 1607.2,1649.2 1607.6,1650.4 1607.8,1651.1 1608.1,1651.4 1608.3,1654.0 1608.6,1657.0 1608.8,1657.7 1609.1,1658.6 1609.3,1660.9 1609.6,1662.9 1609.8,1664.5 1610.1,1665.7 1610.3,1666.1 1610.6,1668.0 1610.8,1670.2 1611.1,1671.7 1611.3,1674.6 1611.6,1677.2 1611.8,1678.1 1612.1,1679.0 1612.3,1681.4 1612.6,1684.0 1612.8,1685.3 1613.1,1686.2 1613.3,1687.7 1613.6,1689.3 1613.8,1691.7 1614.1,1693.5 1614.3,1695.1 1614.6,1697.1 1614.8,1698.8 1615.1,1699.6 1615.3,1700.4 1615.6,1703.3 1615.8,1707.0 1616.1,1709.3 1616.3,1710.2 1616.6,1710.8 1616.8,1712.1 1617.1,1714.0 1617.3,1715.2 1617.6,1715.9 1617.8,1716.7 1618.1,1717.6 1618.4,1719.3 1618.8,1720.5 1619.1,1722.4 1619.4,1725.6 1619.8,1728.7 1620.1,1731.1 1620.4,1733.3 1620.8,1735.2 1621.1,1735.4 1621.5,1735.9 1621.8,1738.1 1622.1,1740.2 1622.5,1740.4 1622.8,1741.1 1623.8,1743.3 1624.8,1745.6 1625.8,1747.9 1626.7,1749.3 1627.7,1750.8 1628.7,1752.3 1630.2,1750.5 1631.7,1749.6 1633.2,1749.6 1634.7,1747.8 1636.2,1747.5 1637.7,1748.3 1639.2,1747.6 1641.0,1748.6 1642.7,1749.4 1644.5,1749.3 1646.2,1749.2 1646.7,1748.0 1647.1,1747.4 1647.5,1745.2 1648.0,1742.7 1648.5,1741.1 1648.9,1739.6 1649.3,1737.6 1649.8,1735.5 1650.5,1733.8 1651.1,1732.3 1651.8,1731.0 1652.4,1729.4 1653.1,1727.2 1653.7,1725.3 1654.4,1723.4 1655.2,1724.6 1656.0,1726.9 1656.8,1729.4 1657.5,1731.0 1658.3,1733.0 1659.1,1734.6 1660.0,1734.8 1661.0,1736.7 1661.9,1739.5 1662.9,1740.4 1663.8,1741.2 1664.4,1739.5 1665.0,1737.8 1665.5,1735.6 1666.1,1733.8 1666.7,1732.3 1667.3,1731.4 1667.5,1730.3 1667.6,1728.3 1667.8,1726.2 1668.0,1724.8 1668.1,1723.7 1668.3,1722.1 1668.4,1720.0 1668.6,1718.5 1668.8,1717.5 1668.9,1715.8 1669.1,1713.7 1669.3,1711.4 1669.4,1710.1 1669.6,1709.1 1669.8,1707.7 1669.9,1707.3 1670.1,1706.0 1670.2,1703.6 1670.4,1702.1 1670.6,1700.6 1670.7,1698.4 1670.9,1697.2 1671.0,1695.8 1671.1,1692.7 1671.1,1691.0 1671.2,1690.4 1671.3,1688.1 1671.4,1685.8 1671.5,1684.8 1671.5,1683.9 1671.6,1682.3 1671.7,1680.7 1671.8,1678.8 1671.9,1677.7 1671.9,1677.1 1672.0,1675.6 1672.1,1673.7 1672.2,1671.4 1672.2,1669.5 1672.3,1667.8 1672.4,1666.2 1672.5,1664.7 1672.6,1662.2 1672.6,1659.0 1672.7,1657.5 1672.8,1657.2 1672.9,1655.2 1673.0,1652.7 1673.0,1651.5 1673.1,1650.8 1673.2,1650.0 1673.4,1648.8 1673.5,1646.6 1673.7,1644.6 1673.8,1643.8 1674.0,1643.8 1674.2,1641.6 1674.3,1638.9 1674.5,1637.2 1674.6,1634.8 1674.8,1633.3 1675.0,1632.4 1675.1,1630.2 1675.3,1627.9 1675.4,1627.2 1675.6,1626.4 1675.7,1624.0 1675.9,1621.8 1676.1,1621.3 1676.2,1620.7 1676.4,1619.0 1676.5,1616.0 1676.7,1613.7 1677.0,1613.1 1677.2,1612.1 1677.5,1609.5 1677.7,1607.1 1678.0,1606.0 1678.2,1604.8 1678.5,1603.3 1678.7,1601.5 1679.0,1599.3 1679.2,1597.8 1679.5,1597.4 1679.7,1596.2 1680.0,1593.5 1680.2,1591.4 1680.4,1589.5 1680.6,1586.7 1680.8,1585.4 1680.9,1584.7 1681.1,1582.9 1681.3,1581.6 1681.5,1580.0 1681.7,1577.6 1681.9,1576.2 1682.0,1575.6 1682.2,1573.8 1682.4,1571.4 1682.6,1569.1 1682.8,1567.4 1683.0,1566.5 1683.1,1565.8 1683.3,1564.4 1683.5,1562.6 1683.7,1560.9 1684.0,1558.5 1684.3,1556.2 1684.5,1555.4 1684.8,1554.9 1685.1,1553.9 1685.4,1551.5 1685.6,1548.5 1685.9,1547.3 1686.2,1546.4 1686.5,1543.9 1686.7,1541.1 1687.0,1539.6 1687.3,1539.0 1687.6,1538.3 1687.8,1536.3 1688.1,1533.8 1688.4,1532.2 1690.2,1532.0 1692.0,1531.3 1693.7,1529.8 1695.5,1529.4 1696.5,1529.7 1697.4,1528.9 1698.4,1526.4 1699.4,1523.7 1700.3,1521.9 1701.3,1520.4 1702.3,1519.8 1703.3,1519.3 1704.2,1517.4 1705.2,1514.1 1706.2,1512.4 1707.2,1512.0 1707.9,1509.7 1708.5,1507.9 1709.2,1506.8 1709.9,1504.3 1710.6,1503.2 1711.2,1502.8 1711.9,1500.3 1713.2,1498.9 1714.6,1499.1 1715.9,1497.6 1717.2,1495.1 1718.5,1494.4 1719.9,1494.5 1721.2,1493.3 1722.9,1491.9 1724.6,1491.4 1726.3,1491.0 1727.9,1490.1 1729.6,1489.9 1731.3,1489.4 1733.0,1488.0 1734.5,1487.7 1736.1,1488.4 1737.7,1490.1 1739.2,1491.4 1740.8,1491.9 1742.3,1492.4 1743.9,1493.1 1745.4,1493.7 1747.0,1495.2 1748.6,1496.8 1750.1,1498.7 1751.7,1500.4 1752.3,1500.7 1752.9,1500.9 1753.5,1502.9 1754.1,1505.5 1754.6,1507.1 1755.2,1508.1 1755.8,1509.7 1756.4,1512.0 1756.6,1514.1 1756.8,1515.2 1757.0,1516.7 1757.2,1518.1 1757.4,1518.7 1757.6,1520.1 1757.8,1522.0 1758.0,1524.4 1758.3,1526.8 1758.5,1528.3 1758.7,1529.0 1758.9,1530.2 1759.1,1532.2 1759.3,1533.8 1759.5,1535.5 1759.7,1538.0 1759.9,1540.0 1760.4,1540.6 1761.0,1541.4 1761.5,1543.6 1762.0,1545.5 1762.6,1546.4 1763.1,1547.6 1763.7,1550.4 1764.2,1552.8 1764.7,1554.1 1765.3,1555.4 1765.8,1557.2 1766.8,1555.8 1767.9,1553.0 1768.9,1551.2 1769.9,1551.7 1771.0,1551.5 1772.0,1550.2 1773.0,1548.5 1774.1,1546.3 1775.1,1545.0 1776.1,1547.0 1777.1,1548.1 1778.2,1548.9 1779.2,1550.6 1780.2,1552.5 1781.2,1554.2 1782.3,1554.9 1783.3,1555.5 1784.1,1555.9 1784.9,1556.2 1785.8,1553.8 1786.6,1550.5 1787.4,1548.8 1788.2,1548.5 1789.0,1547.7 1789.9,1546.0 1790.7,1544.1 1791.5,1542.0 1792.0,1540.3 1792.4,1539.3 1792.9,1537.3 1793.3,1534.4 1793.8,1532.5 1794.2,1531.4 1794.7,1530.1 1795.1,1528.1 1795.6,1526.7 1796.0,1525.3 1796.5,1523.3 1796.9,1522.9 1797.4,1522.2 1797.9,1520.4 1798.5,1519.2 1799.0,1517.5 1799.6,1514.6 1800.1,1512.3 1800.6,1511.0 1801.2,1509.8 1801.7,1507.7 1802.2,1505.5 1802.8,1503.9 1803.3,1502.2 1803.9,1500.3 1804.4,1498.9 1805.6,1500.7 1806.8,1502.3 1808.0,1504.4 1809.1,1505.9 1810.3,1506.6 1811.5,1507.6 1812.3,1508.0 1813.2,1507.9 1814.0,1509.9 1814.8,1512.3 1815.6,1513.8 1816.5,1515.0 1817.3,1515.4 1818.2,1513.9 1819.2,1513.6 1820.1,1512.4 1821.1,1511.6 1822.0,1511.2 1822.9,1509.8 1823.9,1507.8 1824.8,1505.4 1825.8,1503.5 1826.7,1502.7 1828.3,1505.0 1830.0,1506.2 1831.6,1506.3 1833.3,1506.7 1834.9,1507.9 1836.3,1509.8 1837.7,1510.9 1839.1,1511.8 1840.5,1512.4 1841.9,1513.6 1843.1,1512.0 1844.2,1509.5 1845.4,1508.4 1846.6,1508.7 1847.8,1508.7 1848.9,1508.3 1850.1,1507.9 1851.1,1506.3 1852.1,1503.7 1853.0,1502.2 1854.0,1501.3 1855.0,1499.8 1856.0,1498.4 1857.6,1497.5 1859.1,1496.4 1860.7,1494.8 1862.3,1493.3 1863.8,1492.6 1865.4,1491.5 1866.4,1492.3 1867.3,1494.3 1868.3,1496.1 1869.3,1497.3 1870.2,1498.1 1871.2,1498.6 1871.8,1500.2 1872.4,1502.4 1873.0,1505.3 1873.6,1508.3 1874.2,1509.7 1874.7,1509.6 1875.3,1510.0 1875.9,1512.1 1876.5,1514.1 1877.1,1516.1 1878.5,1518.3 1879.9,1519.0 1881.3,1518.0 1882.7,1518.8 1884.1,1520.9 1885.1,1519.4 1886.0,1517.5 1887.0,1515.3 1888.0,1512.9 1889.1,1511.6 1890.2,1511.2 1891.2,1510.3 1892.3,1508.5 1893.4,1507.5 1894.5,1506.4 1895.5,1504.7 1896.6,1502.6 1897.6,1501.7 1898.7,1501.0 1899.9,1498.8 1901.1,1497.1 1902.2,1495.8 1903.4,1493.5 1903.7,1491.9 1903.9,1491.1 1904.2,1489.0 1904.4,1486.2 1904.7,1484.6 1904.9,1484.0 1905.2,1483.4 1905.4,1482.2 1905.7,1479.9 1906.1,1477.4 1906.4,1476.0 1906.8,1473.9 1907.1,1471.4 1907.4,1470.7 1907.8,1470.6 1908.1,1469.3 1908.4,1466.8 1908.8,1463.8 1909.1,1461.2 1909.4,1459.0 1909.8,1457.6 1910.1,1456.9 1910.8,1455.3 1911.4,1452.8 1912.1,1451.8 1912.8,1451.8 1913.5,1450.2 1914.1,1448.0 1914.8,1446.7 1915.9,1445.3 1917.1,1443.2 1918.2,1441.8 1919.3,1444.4 1920.4,1446.9 1921.5,1448.2 1923.1,1448.7 1924.6,1448.8 1926.2,1448.9 1927.8,1447.1 1929.3,1445.6 1930.9,1444.9 1932.0,1444.3 1933.1,1442.5 1934.2,1440.0 1935.4,1438.3 1936.5,1437.0 1937.6,1435.4 1938.2,1433.7 1938.7,1432.7 1939.3,1432.2 1939.9,1431.3 1940.5,1430.1 1941.0,1428.9 1941.6,1427.3 1942.3,1425.0 1942.9,1422.5 1943.6,1420.7 1944.3,1419.4 1944.9,1418.0 1945.6,1416.1 1947.6,1416.3 1949.6,1416.5 1950.3,1417.4 1951.0,1418.7 1951.6,1420.5 1952.3,1422.2 1953.0,1424.3 1953.2,1426.0 1953.4,1427.0 1953.6,1427.7 1953.8,1429.6 1954.0,1431.6 1954.2,1433.2 1954.4,1436.6 1954.6,1438.7 1954.8,1439.3 1955.0,1441.5 1955.2,1443.0 1955.3,1444.0 1955.5,1445.6 1955.7,1448.0 1955.8,1449.8 1956.0,1450.0 1956.2,1451.5 1956.3,1453.9 1956.5,1455.3 1956.7,1456.6 1956.8,1458.8 1957.0,1461.1 1957.2,1462.9 1957.3,1464.4 1957.5,1465.6 1957.7,1467.5 1957.8,1469.2 1958.0,1470.6 1958.2,1472.0 1958.3,1473.0 1958.5,1474.7 1958.7,1476.3 1958.8,1477.9 1959.0,1480.1 1959.3,1482.4 1959.5,1484.7 1959.8,1486.1 1960.1,1487.7 1960.3,1489.9 1960.6,1491.7 1960.9,1492.7 1961.2,1493.3 1961.4,1494.7 1961.7,1495.7 1962.2,1496.4 1962.7,1499.0 1963.2,1502.7 1963.7,1505.1 1964.2,1506.9 1964.7,1508.4 1965.2,1508.8 1965.7,1509.6 1967.0,1510.6 1968.4,1512.1 1969.8,1514.7 1971.1,1516.4 1972.9,1515.9 1974.6,1516.1 1976.4,1515.8 1978.2,1513.7 1980.0,1512.5 1981.8,1512.6 1982.5,1511.0 1983.1,1508.7 1983.8,1506.6 1984.5,1504.1 1985.1,1502.3 1985.8,1501.6 1986.7,1500.6 1987.6,1498.8 1988.5,1498.0 1989.4,1496.7 1990.3,1494.8 1991.2,1493.7 1992.5,1490.7 1993.9,1487.5 1995.2,1486.0 1996.6,1485.8 1997.9,1485.6 1998.7,1483.5 1999.4,1481.0 2000.2,1480.0 2000.9,1479.5 2001.7,1478.5 2002.4,1477.1 2003.2,1475.6 2003.8,1474.2 2004.3,1473.1 2004.9,1471.8 2005.5,1469.0 2006.1,1464.9 2006.6,1462.5 2007.2,1462.0 2008.2,1461.8 2009.1,1461.5 2010.1,1460.0 2011.0,1458.0 2012.0,1456.4 2012.9,1454.9 2013.9,1453.3 2014.8,1451.8 2015.7,1451.3 2016.6,1449.9 2017.5,1448.2 2018.4,1447.3 2019.3,1445.0 2019.7,1442.1 2020.1,1440.9 2020.5,1439.9 2020.8,1438.2 2021.2,1436.3 2021.6,1434.3 2022.0,1431.9 2022.3,1429.8 2022.7,1428.8 2023.0,1427.6 2023.3,1426.0 2023.7,1424.8 2024.0,1423.1 2024.3,1420.5 2024.6,1418.5 2025.0,1418.7 2025.3,1417.9 2026.0,1415.2 2026.8,1413.2 2027.5,1411.6 2028.3,1410.1 2029.0,1409.3 2029.8,1407.7 2030.5,1405.7 2031.3,1404.4 2031.9,1402.7 2032.5,1401.1 2033.1,1398.9 2033.7,1396.8 2034.3,1396.0 2034.9,1395.4 2035.5,1394.8 2036.1,1393.4 2036.7,1391.0 2037.4,1389.6 2038.0,1388.9 2038.7,1386.8 2039.4,1385.2 2040.1,1384.9 2040.7,1383.4 2041.4,1380.8 2041.8,1378.4 2042.2,1376.2 2042.6,1374.5 2043.1,1372.3 2043.5,1371.0 2043.9,1371.1 2044.3,1369.4 2044.7,1366.7 2045.6,1365.6 2046.5,1365.0 2047.4,1363.2 2048.3,1360.6 2049.2,1358.7 2050.1,1358.3 2051.8,1359.6 2053.4,1360.0 2055.1,1360.3 2056.8,1360.2 2058.8,1358.8 2060.8,1357.5 2062.0,1356.5 2063.2,1356.5 2064.3,1355.1 2065.5,1352.7 2066.7,1353.9 2067.8,1355.5 2069.0,1357.7 2070.2,1359.6 2071.5,1360.2 2072.9,1362.1 2074.2,1364.1 2075.6,1364.9 2076.9,1366.2 2078.5,1365.5 2080.1,1364.6 2081.7,1363.4 2083.3,1362.7 2084.9,1362.1 2086.2,1362.1 2087.6,1362.1 2088.9,1363.5 2090.3,1365.3 2091.6,1366.1 2092.7,1367.0 2093.8,1368.6 2094.9,1370.7 2096.1,1373.2 2097.2,1375.1 2098.3,1375.6 2099.3,1373.1 2100.2,1372.2 2101.2,1371.8 2102.1,1370.8 2103.1,1368.9 2104.0,1366.7 2105.0,1365.1 2106.3,1364.2 2107.7,1362.9 2109.0,1360.7 2110.3,1358.8 2111.6,1360.2 2113.0,1362.6 2114.3,1364.5 2115.7,1365.7 2117.0,1368.0 2118.0,1366.3 2119.1,1363.6 2120.1,1362.3 2121.1,1361.6 2122.3,1360.4 2123.5,1359.2 2124.7,1358.9 2125.9,1357.4 2127.1,1355.3 2127.8,1357.3 2128.4,1358.8 2129.1,1360.2 2129.8,1361.6 2130.5,1362.4 2131.1,1363.6 2131.8,1365.5 2132.5,1368.1 2133.1,1370.2 2133.8,1371.0 2134.5,1372.2 2135.2,1372.8 2135.8,1373.8 2136.5,1376.6 2136.8,1379.0 2137.0,1381.1 2137.3,1383.2 2137.5,1384.7 2137.8,1385.5 2138.0,1386.6 2138.3,1389.7 2138.5,1392.3 2138.8,1392.6 2139.0,1393.1 2139.3,1395.2 2139.5,1397.0 2139.8,1397.7 2140.0,1398.6 2140.3,1400.2 2141.3,1399.4 2142.4,1398.7 2143.4,1398.0 2144.5,1397.1 2145.5,1394.8 2146.6,1392.5 2147.6,1391.0 2148.8,1393.2 2149.9,1395.8 2151.1,1397.3 2152.2,1398.3 2153.4,1399.4 2154.4,1400.6 2155.4,1402.8 2156.4,1404.9 2157.4,1405.1 2158.4,1405.3 2159.7,1404.1 2161.0,1403.7 2162.4,1403.9 2163.7,1403.2 2165.0,1401.2 2166.2,1402.2 2167.3,1404.6 2168.5,1406.4 2169.6,1407.6 2170.8,1408.9 2171.5,1409.6 2172.2,1411.2 2172.9,1413.7 2173.7,1415.8 2174.4,1417.2 2175.1,1419.5 2176.9,1420.1 2178.8,1418.4 2180.6,1416.1 2182.4,1414.7 2183.2,1415.5 2184.1,1417.0 2184.9,1419.6 2185.7,1421.9 2186.5,1422.9 2187.4,1423.6 2188.2,1424.3 2189.2,1425.8 2190.1,1428.7 2191.1,1431.4 2192.1,1431.7 2193.0,1431.6 2194.0,1433.1 2195.2,1435.1 2196.3,1437.6 2197.5,1438.8 2198.6,1438.2 2199.8,1438.6 2201.2,1438.2 2202.7,1438.8 2204.1,1439.3 2205.6,1438.7 2207.0,1437.0 2208.5,1436.9 2209.9,1438.1 2211.4,1439.8 2212.8,1440.7 2214.3,1441.9 2215.5,1443.1 2216.6,1444.5 2217.8,1446.0 2218.9,1447.1 2220.1,1447.9 2221.4,1446.2 2222.7,1444.7 2223.9,1443.4 2225.2,1442.6 2226.5,1442.1 2227.8,1441.5 2229.0,1440.5 2230.3,1439.9 2232.0,1440.3 2233.8,1439.1 2235.5,1438.3 2237.3,1439.2 2239.0,1439.3 2240.7,1438.7 2242.5,1438.8 2244.2,1438.1 2246.0,1437.1 2247.7,1437.6 2249.4,1437.8 2251.0,1436.8 2252.7,1437.1 2254.3,1437.5 2256.0,1437.8 2257.6,1438.5 2259.3,1439.2 2260.3,1440.3 2261.2,1441.2 2262.2,1442.5 2263.2,1444.2 2264.1,1446.8 2265.1,1449.2 2266.3,1449.9 2267.5,1450.1 2268.7,1451.1 2269.9,1452.1 2271.1,1452.5 2272.3,1453.7 2273.8,1455.9 2275.2,1458.4 2276.7,1459.7 2278.1,1459.8 2279.6,1460.6 2281.0,1461.8 2282.2,1459.8 2283.5,1458.2 2284.7,1456.9 2286.0,1455.4 2287.2,1454.9 2288.5,1453.8 2289.7,1452.3 2291.6,1451.9 2293.6,1451.4 2295.5,1452.2 2296.4,1454.2 2297.3,1454.6 2298.1,1455.6 2299.0,1457.0 2299.9,1458.4 2300.6,1456.7 2301.3,1455.9 2302.1,1453.9 2302.8,1451.6 2303.5,1451.7 2304.2,1450.4 2305.0,1448.2 2305.7,1447.4 2306.8,1445.8 2307.9,1443.4 2308.9,1443.0 2310.0,1443.2 2311.1,1441.3 2312.2,1438.6 2313.0,1439.8 2313.9,1442.5 2314.7,1444.5 2315.5,1445.0 2316.3,1445.8 2317.2,1447.2 2318.0,1448.8 2319.1,1450.7 2320.2,1451.9 2321.2,1453.2 2322.3,1455.0 2323.4,1457.1 2324.5,1458.4 2325.7,1456.0 2326.9,1454.2 2328.0,1453.1 2329.2,1452.4 2330.4,1451.5 2331.8,1451.1 2333.3,1450.6 2334.8,1449.9 2336.2,1450.0 2337.3,1449.2 2338.3,1448.2 2339.4,1447.0 2340.5,1444.0 2342.0,1443.3 2343.4,1445.2 2344.9,1447.6 2346.3,1449.4 2347.8,1451.5 2348.3,1453.1 2348.8,1453.6 2349.2,1453.6 2349.7,1454.0 2350.2,1456.6 2350.7,1459.7 2351.1,1461.8 2351.6,1462.5 2352.1,1463.4 2352.8,1465.1 2353.6,1466.1 2354.3,1467.4 2355.1,1469.7 2355.8,1471.4 2356.3,1468.9 2356.9,1466.9 2357.4,1465.3 2357.9,1463.1 2358.5,1462.2 2359.0,1461.5 2359.6,1458.8 2360.1,1456.3 2360.6,1458.7 2361.0,1461.3 2361.5,1463.5 2362.0,1464.5 2362.4,1465.3 2362.9,1466.6 2363.3,1467.8 2363.8,1470.1 2364.3,1473.0 2364.7,1474.7 2365.2,1476.4 2365.8,1478.1 2366.5,1479.1 2367.1,1480.8 2367.7,1482.2 2368.4,1482.9 2369.0,1484.8" fill="none" stroke="#000000" stroke-width="9" stroke-linejoin="round" stroke-linecap="round" shape-rendering="crispEdges"/>
<polyline points="183.9,1058.8 184.9,1056.9 185.9,1056.1 186.9,1054.9 187.9,1054.0 188.8,1052.7 189.8,1050.2 190.8,1047.9 191.8,1045.9 192.8,1044.6 193.7,1047.1 194.7,1049.1 195.6,1050.7 196.5,1052.4 197.4,1052.8 198.4,1054.3 199.3,1057.2 200.9,1057.2 202.4,1055.8 204.0,1054.3 205.6,1054.5 207.1,1055.2 208.7,1054.6 210.3,1053.8 211.8,1052.8 213.4,1051.4 214.2,1049.5 214.9,1048.5 215.7,1048.7 216.5,1048.8 217.2,1047.1 218.0,1044.8 218.8,1043.4 219.6,1042.0 220.3,1040.1 221.1,1038.9 221.7,1040.5 222.3,1041.9 222.8,1043.8 223.4,1045.4 224.0,1047.0 224.6,1048.7 225.2,1050.1 225.8,1051.0 226.3,1051.0 226.9,1051.7 227.5,1053.7 228.0,1052.7 228.6,1051.3 229.1,1048.7 229.6,1046.3 230.2,1045.6 230.7,1045.0 231.2,1043.9 231.8,1042.5 232.3,1040.4 232.8,1037.9 233.4,1035.8 233.9,1035.1 234.5,1038.0 235.1,1039.7 235.7,1040.5 236.3,1041.8 237.0,1043.5 237.6,1045.1 238.2,1046.6 238.8,1047.5 239.4,1048.4 240.0,1049.6 240.6,1051.8 241.2,1054.4 241.8,1055.6 242.4,1055.7 243.1,1056.3 243.7,1058.0 244.3,1060.1 244.9,1062.0 245.5,1064.7 246.0,1064.5 246.4,1063.2 246.9,1061.2 247.4,1059.1 247.8,1056.8 248.3,1053.5 248.8,1051.5 249.2,1051.4 249.7,1050.8 250.2,1048.9 250.7,1047.2 251.1,1045.8 251.6,1044.7 252.1,1043.6 252.5,1041.3 253.0,1039.1 253.5,1037.4 253.9,1035.8 254.4,1034.1 255.3,1035.5 256.2,1037.5 257.2,1039.1 258.1,1040.2 259.0,1041.5 259.9,1044.1 260.9,1046.4 261.8,1046.8 262.7,1046.5 263.6,1046.9 264.5,1048.3 265.5,1050.6 266.4,1052.4 267.3,1053.5 267.5,1052.3 267.7,1051.6 267.9,1049.5 268.1,1047.3 268.4,1046.2 268.6,1044.9 268.8,1043.3 269.0,1042.0 269.2,1040.4 269.4,1038.1 269.6,1035.9 269.9,1034.9 270.1,1033.0 270.3,1031.0 270.5,1029.7 270.7,1028.7 270.9,1027.1 271.1,1024.1 271.3,1022.3 271.5,1022.1 271.8,1020.9 272.0,1018.5 272.2,1017.4 272.4,1016.7 273.0,1014.3 273.6,1012.1 274.2,1011.1 274.8,1009.8 275.4,1007.7 276.0,1005.8 276.6,1003.9 277.2,1002.3 277.8,1002.7 278.4,1001.9 279.0,998.9 279.6,996.6 280.2,995.0 280.8,994.0 281.4,993.1 281.8,994.5 282.2,995.0 282.6,996.3 283.0,999.6 283.4,1002.0 283.8,1002.7 284.2,1004.4 284.6,1006.7 285.0,1007.3 285.4,1008.8 285.8,1011.0 286.2,1012.3 286.5,1014.0 286.9,1015.6 287.3,1017.5 287.7,1018.4 288.1,1018.6 288.5,1020.7 288.9,1022.9 289.3,1024.3 289.7,1025.6 290.1,1027.2 290.5,1029.5 290.9,1030.7 291.3,1031.5 291.7,1033.3 292.0,1032.0 292.3,1030.5 292.7,1029.8 293.0,1028.7 293.3,1027.3 293.6,1026.0 293.9,1023.6 294.3,1021.3 294.6,1019.4 294.9,1016.7 295.2,1014.8 295.5,1014.0 295.9,1013.3 296.2,1012.0 296.5,1009.8 296.8,1007.1 297.2,1005.1 297.5,1005.0 297.8,1004.6 298.1,1001.9 298.4,999.6 298.8,997.4 299.1,994.9 299.4,994.9 300.3,995.7 301.2,994.3 302.1,992.1 303.1,990.5 304.0,988.3 304.9,986.2 305.8,985.1 307.1,985.0 308.4,984.2 309.6,982.4 310.9,981.4 312.2,980.3 312.6,980.3 312.9,981.6 313.3,984.3 313.7,985.9 314.0,987.4 314.4,989.6 314.8,991.8 315.1,993.4 315.5,994.5 315.8,996.6 316.2,999.6 316.6,1001.5 316.9,1001.0 317.3,1000.6 318.1,1000.3 319.0,1000.4 319.8,998.9 320.6,997.3 321.4,995.9 322.3,993.5 323.1,991.8 323.9,991.0 324.8,989.0 325.6,987.7 326.4,987.4 327.2,986.4 328.1,985.4 328.9,983.5 329.2,984.4 329.5,985.8 329.9,986.4 330.2,987.4 330.5,989.1 330.8,990.7 331.1,992.3 331.4,994.7 331.8,997.1 332.1,998.5 332.4,1000.1 332.7,1002.2 333.0,1003.6 333.4,1005.5 333.7,1007.0 334.0,1007.3 334.5,1008.5 335.1,1010.8 335.6,1012.5 336.1,1013.7 336.6,1016.3 337.2,1017.7 337.7,1017.7 338.2,1019.3 338.8,1021.8 339.3,1023.8 339.8,1025.7 340.4,1026.9 340.9,1027.2 341.4,1027.7 341.9,1029.2 342.5,1030.8 343.0,1032.5 343.2,1031.9 343.3,1031.1 343.5,1029.2 343.7,1026.7 343.8,1025.6 344.0,1025.2 344.2,1023.4 344.3,1020.4 344.5,1017.5 344.7,1015.8 344.9,1015.4 345.0,1014.1 345.2,1012.3 345.4,1010.4 345.5,1009.0 345.7,1007.6 345.9,1004.9 346.0,1002.7 346.2,1001.9 346.4,1001.3 346.5,1000.2 346.7,998.2 346.9,996.3 347.0,994.6 347.2,992.7 347.4,991.2 347.5,989.9 347.7,987.5 347.9,985.3 348.1,984.4 348.2,983.0 348.4,981.4 348.6,980.1 348.7,978.7 348.9,977.4 349.1,975.8 349.2,973.5 349.4,970.7 349.8,968.8 350.2,968.2 350.7,967.8 351.1,967.0 351.5,965.5 351.9,963.6 352.4,961.9 352.8,959.9 353.2,956.5 353.6,954.1 354.1,953.8 354.5,952.9 355.8,953.6 357.1,954.7 358.4,956.1 359.6,957.3 360.9,959.4 362.2,961.2 363.5,962.1 364.1,963.4 364.8,964.9 365.4,967.2 366.1,969.0 366.7,970.1 367.3,971.1 368.0,971.2 368.6,972.4 369.3,975.2 369.9,977.1 370.5,974.9 371.2,974.0 371.8,972.6 372.5,969.6 373.1,967.9 373.8,966.9 374.4,965.8 375.1,965.5 375.8,965.1 376.4,964.0 376.9,964.6 377.3,965.3 377.8,967.5 378.2,969.2 378.7,970.3 379.1,971.8 379.6,973.4 380.1,974.7 380.5,976.6 381.0,979.4 381.4,980.9 381.9,981.0 382.3,982.0 382.8,983.7 384.3,984.0 385.7,985.2 387.2,986.6 388.6,986.9 390.1,988.1 391.5,988.8 393.0,988.4 393.4,987.6 393.9,988.4 394.3,986.7 394.7,983.5 395.1,981.2 395.6,978.8 396.0,977.5 396.4,977.7 396.9,976.3 397.3,973.4 397.7,971.7 398.1,971.0 398.6,969.6 399.0,968.3 399.4,966.7 399.8,965.3 400.3,963.8 400.7,961.1 401.0,962.5 401.3,965.0 401.6,966.3 401.9,968.1 402.2,970.3 402.6,970.7 402.9,971.4 403.2,973.9 403.5,976.9 403.8,979.0 404.1,980.6 404.4,980.9 404.7,981.4 405.0,983.2 405.3,985.1 405.7,987.0 406.0,987.9 406.3,989.5 406.6,992.4 406.9,994.7 407.2,996.5 407.8,997.5 408.4,998.5 408.9,1000.4 409.5,1002.9 410.1,1004.8 410.7,1005.5 411.3,1007.1 411.9,1008.8 412.4,1010.3 413.0,1012.3 413.6,1013.6 414.0,1015.1 414.4,1017.1 414.8,1018.6 415.2,1019.6 415.6,1020.8 416.0,1022.9 416.3,1025.5 416.7,1026.9 417.1,1027.7 417.5,1029.4 417.9,1031.4 418.3,1032.4 418.7,1033.0 419.1,1032.0 419.6,1031.2 420.1,1028.9 420.5,1027.5 420.9,1026.5 421.4,1024.9 421.8,1024.1 422.3,1022.7 422.8,1020.4 423.2,1017.9 423.6,1015.5 424.1,1015.1 424.6,1015.8 425.0,1015.0 425.4,1012.8 425.9,1010.1 426.3,1007.5 426.8,1004.7 427.2,1003.0 427.7,1002.8 428.0,1005.1 428.2,1006.9 428.5,1008.4 428.8,1010.0 429.1,1011.6 429.3,1013.2 429.6,1015.3 429.9,1016.6 430.1,1018.0 430.4,1019.5 430.7,1019.9 431.0,1021.8 431.2,1024.5 431.5,1025.6 433.1,1025.7 434.8,1026.2 436.4,1027.0 438.0,1028.1 438.2,1030.7 438.4,1033.4 438.6,1035.2 438.8,1035.4 439.0,1035.6 439.2,1038.2 439.4,1040.3 439.6,1041.0 439.8,1042.8 440.0,1044.6 440.2,1046.4 440.4,1048.7 440.6,1050.2 440.8,1051.9 441.0,1054.1 441.2,1055.1 441.4,1055.8 441.6,1057.1 441.8,1058.8 441.9,1060.3 442.0,1061.6 442.0,1064.1 442.1,1066.9 442.2,1068.2 442.3,1069.5 442.4,1071.3 442.5,1072.2 442.5,1073.2 442.6,1074.8 442.7,1076.7 442.8,1078.7 442.9,1080.3 442.9,1081.8 443.0,1083.7 443.1,1086.1 443.4,1087.1 443.7,1086.7 444.0,1087.2 444.3,1090.0 444.6,1094.4 444.9,1097.0 445.1,1097.0 445.4,1096.8 445.7,1098.0 446.0,1098.9 446.3,1099.9 446.6,1102.9 446.9,1105.9 448.5,1106.1 450.1,1106.2 451.8,1105.7 453.4,1104.8 453.6,1107.1 453.8,1109.8 454.0,1111.7 454.2,1113.2 454.4,1114.5 454.6,1115.6 454.8,1117.0 455.0,1119.1 455.2,1120.9 455.4,1122.4 455.6,1123.8 455.8,1124.6 456.0,1125.8 456.2,1127.6 456.4,1129.7 456.6,1131.8 456.8,1133.0 457.0,1133.3 457.2,1135.3 457.5,1138.3 457.8,1140.3 458.1,1142.2 458.4,1143.8 458.7,1145.0 459.0,1145.6 459.3,1146.7 459.6,1148.5 459.9,1150.7 460.2,1153.4 460.5,1154.1 460.8,1153.9 461.1,1156.2 461.4,1159.1 461.7,1160.2 462.0,1161.0 462.3,1162.3 462.6,1163.9 462.9,1166.0 463.3,1168.4 463.6,1170.5 464.0,1171.1 464.3,1172.1 464.7,1174.6 465.0,1177.0 465.4,1178.3 465.8,1179.7 466.1,1181.2 466.5,1181.7 466.8,1182.5 467.2,1184.8 467.5,1187.2 467.9,1188.6 468.2,1190.0 468.6,1191.5 468.9,1189.7 469.3,1188.1 469.6,1186.4 470.0,1184.1 470.3,1182.1 470.7,1181.3 471.0,1181.2 471.4,1179.9 471.7,1177.5 472.1,1175.0 472.4,1172.7 472.8,1171.7 473.1,1171.2 473.5,1169.9 473.8,1167.7 474.2,1165.0 474.5,1163.2 474.9,1162.0 475.2,1160.7 475.6,1158.9 475.9,1157.6 476.3,1156.9 476.6,1155.7 476.8,1157.2 477.1,1158.4 477.3,1159.5 477.5,1161.6 477.8,1164.1 478.0,1165.0 478.2,1165.3 478.4,1167.0 478.7,1168.9 478.9,1170.1 479.1,1172.0 479.4,1174.3 479.6,1176.0 479.8,1177.9 480.1,1179.8 480.3,1181.1 480.5,1182.4 480.7,1184.1 481.0,1185.7 481.2,1186.6 482.2,1187.3 483.1,1189.0 484.1,1190.6 485.1,1192.0 486.1,1193.9 487.0,1195.2 488.0,1195.9 488.2,1197.3 488.4,1199.2 488.6,1200.8 488.8,1202.4 489.0,1204.3 489.2,1206.8 489.4,1208.9 489.6,1210.0 489.8,1211.7 490.0,1213.1 490.2,1213.0 490.4,1213.8 490.6,1216.6 490.8,1219.7 491.0,1220.9 491.2,1221.5 491.4,1223.1 491.6,1226.0 491.8,1227.9 492.0,1228.3 492.2,1229.6 492.4,1231.6 492.6,1233.3 493.6,1234.7 494.6,1235.2 495.6,1236.2 496.5,1238.5 497.5,1240.8 498.5,1242.4 499.5,1242.8 500.0,1243.6 500.5,1245.6 501.1,1247.7 501.6,1248.0 502.1,1248.9 502.6,1252.1 503.2,1254.2 503.7,1254.5 504.2,1255.9 504.7,1257.8 505.3,1259.0 505.8,1260.6 506.3,1262.4 507.5,1263.5 508.6,1265.0 509.8,1267.0 510.9,1268.1 512.1,1268.7 513.2,1269.7 513.6,1271.4 514.1,1273.7 514.5,1274.8 515.0,1275.0 515.4,1275.9 515.8,1277.9 516.3,1281.4 516.7,1283.5 517.1,1283.5 517.6,1285.5 518.0,1288.6 518.5,1290.0 518.9,1290.9 519.3,1289.1 519.6,1287.1 520.0,1284.9 520.3,1283.8 520.7,1282.3 521.0,1280.7 521.4,1279.6 521.8,1278.1 522.1,1276.6 522.5,1275.1 522.8,1272.9 523.2,1270.9 523.5,1270.2 523.9,1269.3 524.2,1267.4 524.6,1264.9 524.9,1265.7 525.2,1267.8 525.5,1270.1 525.8,1271.6 526.0,1273.0 526.3,1274.1 526.6,1276.1 526.9,1278.5 527.2,1279.4 527.5,1280.6 527.8,1282.2 528.1,1283.4 528.3,1284.9 528.6,1286.4 528.9,1288.3 529.2,1290.0 530.3,1290.5 531.5,1291.4 532.6,1293.2 533.8,1294.7 534.9,1296.2 536.1,1298.2 537.2,1299.2 537.6,1300.4 538.0,1302.6 538.5,1304.5 538.9,1306.1 539.3,1307.9 539.7,1309.1 540.1,1310.6 540.5,1312.5 541.0,1314.0 541.4,1316.1 541.8,1318.1 542.2,1316.5 542.5,1314.1 542.9,1311.6 543.2,1310.0 543.6,1308.3 543.9,1306.7 544.3,1305.7 544.7,1305.0 545.0,1304.4 545.4,1302.8 545.7,1300.6 546.1,1298.2 546.5,1296.1 546.8,1295.4 547.2,1294.2 547.5,1291.8 547.9,1290.3 548.2,1289.1 548.6,1287.3 549.2,1288.4 549.8,1290.0 550.3,1291.6 550.9,1293.8 551.5,1296.8 552.1,1299.2 552.7,1300.7 553.2,1302.4 553.8,1303.6 554.4,1303.7 554.9,1302.1 555.4,1300.9 555.9,1299.1 556.3,1297.4 556.8,1295.7 557.3,1294.5 557.8,1293.2 558.3,1290.9 558.8,1288.6 559.3,1287.0 559.7,1285.6 560.2,1284.7 560.7,1282.6 561.2,1279.9 562.3,1281.0 563.5,1282.1 564.6,1283.4 565.8,1285.2 566.9,1287.9 567.2,1287.2 567.4,1285.0 567.7,1282.8 568.0,1281.9 568.3,1281.4 568.5,1279.6 568.8,1277.1 569.1,1275.8 569.3,1274.7 569.6,1272.8 569.9,1270.7 570.1,1268.8 570.4,1267.3 570.7,1265.7 571.0,1263.4 571.2,1261.5 571.5,1259.5 571.7,1257.5 571.9,1256.6 572.0,1256.1 572.2,1255.0 572.4,1253.3 572.5,1250.2 572.7,1247.8 572.9,1247.3 573.1,1246.0 573.2,1244.2 573.4,1242.4 573.6,1240.8 573.8,1240.0 574.0,1238.8 574.1,1236.6 574.3,1234.9 574.5,1232.8 574.6,1230.4 574.8,1228.8 575.0,1227.2 575.4,1229.8 575.8,1232.3 576.2,1233.7 576.6,1236.1 577.0,1238.6 577.4,1239.2 577.8,1238.6 578.2,1240.1 578.6,1242.9 579.0,1244.3 579.4,1245.3 579.8,1246.7 580.2,1248.2 580.6,1250.1 581.0,1252.4 581.4,1254.3 581.8,1255.7 582.4,1253.9 583.1,1252.8 583.7,1251.7 584.3,1250.4 585.0,1249.2 585.6,1247.1 586.2,1244.8 586.9,1243.1 587.5,1241.9 587.9,1244.4 588.2,1246.5 588.5,1247.7 588.9,1249.3 589.2,1250.9 589.6,1251.7 590.0,1253.3 590.3,1255.8 590.6,1256.4 591.0,1256.7 591.2,1255.7 591.5,1254.1 591.7,1252.0 592.0,1250.8 592.2,1249.6 592.5,1248.0 592.7,1245.7 592.9,1244.0 593.2,1244.1 593.4,1242.9 593.7,1239.7 593.9,1236.9 594.2,1236.0 594.4,1236.2 594.6,1235.4 594.9,1233.4 595.1,1230.9 595.4,1228.9 595.6,1227.3 595.9,1225.2 596.1,1223.1 596.3,1222.2 596.6,1221.4 596.8,1219.6 597.1,1217.5 597.3,1215.4 597.6,1213.8 597.8,1211.5 598.3,1212.1 598.7,1214.2 599.2,1216.6 599.6,1218.1 600.1,1220.4 600.6,1223.5 601.0,1224.4 601.5,1224.8 601.9,1226.5 602.4,1229.0 602.9,1231.0 603.3,1231.4 603.8,1232.8 604.2,1235.6 604.7,1237.8 605.2,1239.3 605.6,1240.4 606.1,1241.7 606.5,1242.8 607.0,1243.9 607.3,1243.2 607.6,1241.8 607.9,1239.5 608.1,1238.3 608.4,1237.6 608.7,1235.7 609.0,1233.0 609.3,1230.2 609.6,1228.6 609.9,1228.8 610.1,1227.4 610.4,1224.6 610.7,1222.8 611.0,1222.0 611.3,1221.3 611.6,1219.1 611.8,1216.4 612.1,1214.7 612.4,1213.4 612.7,1212.9 613.2,1215.4 613.6,1216.9 614.1,1218.5 614.5,1220.4 615.0,1221.3 615.5,1222.9 615.9,1224.5 616.4,1224.1 616.8,1225.0 617.3,1227.8 617.7,1227.4 618.0,1226.0 618.4,1224.1 618.7,1222.7 619.1,1220.5 619.4,1218.4 619.8,1217.8 620.2,1216.6 620.5,1214.7 620.9,1212.6 621.2,1210.8 621.6,1210.1 622.0,1208.9 622.3,1206.1 622.7,1203.6 623.0,1202.6 623.4,1201.7 623.7,1199.5 624.1,1197.0 624.6,1198.3 625.1,1199.9 625.6,1202.1 626.1,1204.3 626.6,1205.5 627.1,1206.6 627.6,1208.8 628.1,1211.1 628.6,1211.9 629.1,1213.3 629.6,1215.7 630.1,1217.1 630.6,1218.1 631.1,1220.1 631.6,1222.7 632.1,1225.0 633.4,1224.2 634.7,1222.5 636.0,1220.5 637.4,1219.9 638.7,1219.6 640.0,1218.6 641.3,1216.6 642.1,1214.5 643.0,1213.8 643.9,1212.7 644.7,1211.8 645.5,1210.6 646.4,1208.7 647.2,1207.1 648.1,1205.5 648.4,1206.6 648.7,1208.6 649.0,1210.9 649.3,1212.2 649.5,1213.5 649.8,1215.6 650.1,1218.0 650.4,1220.1 650.7,1220.9 651.0,1221.2 651.3,1222.3 651.6,1223.6 651.9,1225.4 652.2,1227.3 652.5,1228.9 652.7,1230.7 653.0,1233.0 653.3,1234.4 653.6,1235.1 653.9,1237.1 654.4,1235.3 654.9,1233.8 655.4,1232.6 655.8,1229.6 656.3,1227.6 656.8,1226.9 657.3,1225.4 657.8,1224.3 658.3,1223.5 658.8,1221.2 659.2,1219.0 659.7,1218.4 660.2,1217.4 660.7,1215.5 661.2,1216.9 661.7,1218.2 662.3,1218.9 662.8,1220.0 663.3,1222.3 663.8,1224.9 664.3,1226.4 664.8,1228.3 665.4,1230.2 665.9,1231.3 666.4,1232.7 667.1,1231.1 667.8,1229.9 668.5,1227.9 669.2,1225.3 669.8,1224.1 670.5,1223.9 671.2,1222.3 671.9,1219.6 672.6,1218.2 673.3,1217.5 673.6,1219.4 674.0,1220.8 674.3,1222.3 674.6,1224.8 674.9,1226.9 675.3,1228.2 675.6,1229.9 675.9,1231.4 676.3,1232.8 676.6,1234.8 676.9,1236.9 677.2,1238.5 677.6,1239.0 677.9,1240.0 678.2,1242.8 678.6,1245.1 678.9,1245.7 679.2,1245.8 679.5,1247.1 679.9,1249.3 680.2,1251.1 681.2,1250.1 682.3,1248.7 683.3,1246.3 684.3,1244.4 685.4,1243.8 686.4,1243.0 687.4,1241.5 688.4,1240.1 689.5,1238.4 690.5,1236.9 690.8,1235.4 691.0,1233.5 691.3,1232.4 691.6,1231.5 691.9,1230.0 692.1,1228.2 692.4,1226.3 692.7,1224.7 692.9,1223.7 693.2,1222.5 693.5,1220.1 693.8,1217.5 694.0,1216.1 694.3,1215.8 694.6,1215.2 694.9,1213.0 695.1,1210.7 695.4,1208.7 695.7,1206.3 695.9,1204.9 696.2,1204.9 696.5,1203.6 696.8,1200.6 697.0,1197.9 697.3,1196.7 697.8,1199.3 698.3,1200.3 698.8,1201.4 699.3,1203.9 699.8,1205.3 700.3,1206.7 700.8,1208.9 701.2,1210.4 701.7,1212.0 702.2,1213.3 702.7,1215.3 703.2,1217.5 703.7,1218.6 704.2,1219.8 704.5,1218.3 704.9,1216.7 705.2,1215.3 705.5,1213.7 705.9,1211.7 706.2,1210.0 706.5,1208.3 706.9,1206.0 707.2,1204.5 707.6,1204.0 707.9,1202.8 708.2,1200.7 708.6,1199.2 708.9,1197.6 709.2,1195.6 709.6,1193.9 709.9,1192.2 710.9,1190.1 711.9,1188.6 712.9,1187.7 713.8,1185.8 714.8,1183.9 715.8,1182.9 716.8,1181.6 717.2,1180.5 717.7,1179.1 718.1,1177.3 718.6,1176.8 719.0,1176.3 719.5,1174.4 719.9,1171.8 720.4,1169.9 720.8,1168.4 721.3,1166.9 721.7,1168.9 722.1,1170.9 722.5,1172.0 722.9,1173.6 723.3,1175.5 723.7,1176.2 724.1,1177.5 724.5,1179.5 725.0,1181.2 725.4,1182.6 725.8,1184.4 726.2,1186.5 726.6,1188.4 727.0,1190.7 727.4,1192.4 727.8,1193.2 728.2,1193.6 728.6,1190.9 729.0,1189.3 729.4,1188.0 729.8,1186.6 730.2,1185.1 730.6,1183.9 731.0,1182.3 731.5,1180.3 731.9,1178.5 732.3,1177.5 732.7,1176.1 733.1,1173.8 733.5,1171.6 733.9,1170.6 734.4,1170.7 734.9,1169.0 735.4,1166.2 735.9,1164.1 736.4,1162.0 736.9,1161.3 737.4,1160.2 738.2,1157.9 739.1,1156.3 740.0,1154.8 740.8,1152.5 741.6,1151.2 742.5,1150.7 743.4,1149.2 744.2,1147.2 745.0,1149.5 745.7,1151.7 746.5,1153.3 747.3,1154.9 748.0,1155.4 748.8,1154.9 749.6,1155.6 750.3,1158.3 751.1,1160.9 751.9,1162.3 752.6,1163.4 753.4,1164.8 753.9,1163.2 754.4,1161.9 754.9,1160.5 755.4,1158.4 755.9,1157.2 756.4,1155.6 756.9,1153.0 757.4,1152.7 757.9,1152.4 759.2,1150.1 760.5,1148.2 761.7,1147.9 763.0,1147.8 764.3,1145.9 765.6,1143.6 766.8,1143.6 768.1,1143.4 769.4,1141.6 770.1,1142.4 770.8,1143.9 771.4,1145.2 772.1,1146.2 772.8,1148.1 773.5,1151.0 774.2,1153.3 774.8,1153.6 775.5,1153.5 776.2,1155.3 776.9,1154.8 777.6,1153.9 778.3,1153.1 779.0,1151.9 779.7,1149.9 780.3,1148.3 781.0,1146.5 781.7,1143.7 782.4,1141.9 783.1,1141.4 784.4,1141.0 785.6,1138.9 786.9,1136.7 788.2,1135.8 789.4,1135.3 790.7,1134.3 792.0,1133.4 793.2,1132.5 794.5,1131.3 795.2,1133.5 796.0,1135.7 796.7,1136.4 797.4,1136.1 798.1,1136.9 798.9,1139.4 799.6,1141.5 800.3,1142.5 801.0,1144.2 801.8,1145.6 802.5,1146.4 803.3,1144.8 804.2,1143.0 805.0,1142.2 805.8,1141.9 806.6,1139.5 807.5,1137.2 808.3,1136.3 809.9,1135.4 811.5,1134.4 813.1,1134.7 814.7,1135.0 816.3,1134.1 816.7,1135.4 817.1,1136.3 817.5,1136.9 817.9,1138.5 818.3,1140.4 818.7,1142.0 819.1,1143.3 819.5,1145.2 819.9,1147.5 820.3,1148.3 820.7,1149.9 821.1,1152.3 821.5,1153.6 821.9,1155.2 822.3,1156.5 822.7,1158.2 823.1,1160.9 823.5,1162.5 823.9,1163.5 824.3,1165.0 825.2,1166.5 826.1,1167.4 827.0,1168.2 827.9,1169.0 828.7,1170.8 829.6,1173.2 830.5,1174.4 831.4,1176.1 832.3,1178.3 832.8,1180.6 833.3,1182.8 833.8,1185.0 834.2,1186.3 834.7,1186.2 835.2,1186.9 835.7,1188.4 836.2,1189.8 836.7,1192.0 837.2,1194.1 837.6,1195.9 838.1,1196.8 838.6,1198.1 839.1,1200.6 839.6,1199.3 840.1,1198.0 840.6,1196.7 841.1,1194.8 841.6,1194.4 842.1,1194.4 842.5,1191.5 843.0,1187.8 843.5,1186.1 844.0,1184.9 844.5,1182.9 845.0,1181.3 845.5,1180.0 846.0,1179.0 846.2,1177.5 846.5,1175.0 846.7,1172.7 847.0,1170.8 847.2,1169.9 847.4,1169.6 847.7,1168.5 847.9,1166.5 848.1,1165.1 848.4,1164.1 848.6,1161.2 848.9,1158.3 849.1,1156.4 849.3,1154.9 849.6,1153.9 849.8,1151.8 850.0,1149.6 850.3,1148.4 850.5,1146.5 850.8,1145.3 851.0,1144.5 851.2,1142.6 851.5,1140.3 851.7,1138.8 852.5,1140.7 853.2,1142.3 854.0,1143.8 854.8,1144.6 855.5,1145.2 856.3,1147.0 857.1,1149.3 857.8,1150.4 858.6,1151.4 858.8,1153.8 859.0,1156.3 859.2,1157.7 859.4,1158.5 859.6,1160.3 859.8,1162.2 860.0,1163.6 860.2,1165.6 860.4,1167.8 860.6,1169.0 860.8,1169.4 860.9,1171.5 861.1,1174.7 861.3,1177.2 861.5,1177.4 861.7,1176.7 861.9,1179.1 862.1,1182.3 862.3,1183.7 862.5,1184.5 862.7,1185.6 862.9,1187.8 863.1,1189.1 864.1,1189.2 865.1,1191.7 866.1,1194.3 867.0,1194.6 868.0,1194.8 869.0,1196.2 870.0,1198.5 870.9,1197.5 871.8,1196.0 872.8,1195.7 873.7,1195.0 874.6,1192.3 875.5,1190.4 876.4,1189.2 877.4,1187.6 878.3,1186.5 879.2,1185.0 880.3,1183.1 881.5,1181.7 882.6,1181.1 883.7,1180.9 884.9,1179.8 886.0,1177.7 886.5,1175.2 887.0,1173.8 887.5,1172.7 888.0,1170.8 888.5,1169.5 889.0,1168.7 889.5,1166.7 889.9,1164.0 890.4,1161.6 890.9,1159.7 891.4,1158.4 891.9,1157.9 892.4,1156.9 892.9,1155.3 893.9,1156.6 894.8,1157.6 895.8,1159.3 896.7,1160.6 897.7,1161.3 898.6,1163.2 899.6,1165.4 899.8,1167.0 900.0,1168.2 900.3,1169.5 900.5,1171.7 900.7,1173.4 900.9,1173.6 901.1,1175.2 901.3,1178.5 901.6,1180.8 901.8,1182.2 902.0,1183.2 902.2,1183.9 902.4,1184.9 902.6,1186.2 902.9,1188.0 903.1,1190.4 903.3,1191.9 903.5,1193.0 903.7,1195.0 903.9,1196.7 904.2,1198.2 904.4,1199.6 904.6,1200.7 906.1,1201.7 907.5,1202.7 909.0,1204.5 910.4,1206.6 911.9,1207.7 912.8,1208.2 913.7,1209.1 914.6,1210.6 915.5,1211.0 916.4,1211.9 917.2,1214.5 918.1,1216.7 919.0,1218.2 919.9,1219.1 920.8,1219.9 921.7,1221.7 922.9,1220.5 924.2,1218.9 925.4,1217.6 926.6,1216.6 927.8,1216.1 929.1,1214.7 930.3,1212.8 931.4,1214.6 932.4,1216.3 933.5,1216.6 934.5,1217.5 935.6,1220.0 936.6,1221.6 937.7,1222.5 938.8,1223.8 939.8,1225.4 940.9,1226.3 941.9,1226.5 943.0,1228.5 944.0,1231.2 945.1,1231.9 946.5,1229.8 947.9,1228.7 949.2,1227.5 950.6,1225.5 952.0,1224.4 953.4,1224.4 954.7,1223.4 956.1,1221.6 957.3,1223.0 958.6,1225.0 959.8,1226.2 961.0,1226.2 962.2,1226.6 963.5,1228.5 964.7,1230.1 965.9,1231.4 967.2,1233.1 968.4,1233.9 969.8,1232.6 971.2,1231.9 972.6,1231.5 974.0,1230.8 975.4,1229.6 976.8,1228.5 978.2,1227.4 979.7,1228.3 981.3,1229.8 982.8,1230.0 984.4,1230.2 985.9,1231.1 987.4,1231.6 989.0,1232.2 990.5,1233.5 992.0,1232.8 993.5,1231.6 994.9,1231.4 996.4,1231.4 997.9,1229.9 999.5,1229.7 1001.2,1230.6 1002.8,1230.6 1004.4,1229.6 1006.1,1230.2 1007.7,1232.4 1009.3,1234.0 1011.0,1234.7 1012.6,1235.2 1014.2,1234.8 1015.8,1235.7 1017.3,1237.8 1018.9,1238.4 1020.5,1238.4 1022.1,1238.6 1023.7,1238.7 1025.2,1239.8 1026.8,1241.8 1028.4,1242.9 1030.0,1242.2 1031.5,1241.8 1033.1,1242.5 1034.7,1243.0 1036.3,1242.3 1038.0,1241.3 1039.6,1240.4 1041.2,1240.3 1042.9,1239.2 1044.5,1237.6 1045.7,1238.8 1047.0,1240.8 1048.2,1242.7 1049.4,1243.2 1050.7,1243.0 1051.9,1244.0 1053.1,1246.1 1054.4,1247.4 1055.6,1248.3 1056.8,1248.7 1058.1,1249.0 1059.3,1251.3 1060.3,1251.1 1061.4,1248.8 1062.4,1246.4 1063.5,1245.1 1064.5,1244.1 1065.6,1242.4 1066.6,1240.8 1067.8,1242.1 1069.1,1243.4 1070.3,1245.1 1071.5,1246.3 1072.8,1247.1 1074.0,1248.2 1075.2,1249.1 1076.4,1250.3 1077.7,1252.3 1078.9,1253.9 1080.1,1253.0 1081.4,1252.6 1082.6,1251.7 1083.8,1249.9 1085.0,1247.9 1086.2,1246.1 1087.5,1245.1 1088.7,1244.0 1090.5,1244.1 1092.4,1244.8 1094.2,1245.3 1096.1,1245.6 1097.0,1246.6 1097.9,1247.8 1098.9,1250.1 1099.8,1252.0 1100.7,1253.6 1101.7,1255.3 1102.6,1256.6 1103.5,1258.1 1105.0,1257.3 1106.4,1256.6 1107.9,1255.8 1109.4,1255.0 1110.8,1254.5 1112.3,1254.0 1113.8,1253.1 1115.3,1251.9 1116.7,1250.7 1118.2,1249.9 1119.5,1251.3 1120.8,1252.4 1122.2,1253.1 1123.5,1254.9 1124.8,1256.6 1126.1,1257.7 1127.5,1258.5 1128.8,1258.7 1130.1,1259.3 1131.4,1260.7 1132.8,1262.1 1134.1,1263.4 1135.4,1263.3 1137.1,1262.3 1138.8,1263.0 1140.6,1263.4 1142.3,1263.4 1144.0,1263.6 1145.7,1263.9 1147.4,1265.5 1149.2,1266.9 1150.9,1267.6 1152.6,1268.0 1154.2,1268.1 1155.9,1267.8 1157.5,1267.4 1159.1,1267.8 1160.8,1268.4 1162.4,1268.8 1164.0,1269.2 1165.7,1269.1 1167.3,1269.4 1168.9,1269.8 1170.6,1269.9 1172.2,1270.5 1173.6,1271.0 1175.1,1271.5 1176.5,1273.0 1177.9,1273.4 1179.4,1273.3 1180.8,1274.0 1182.2,1274.7 1183.7,1274.9 1185.1,1275.8 1186.5,1277.6 1188.0,1278.0 1189.4,1278.5 1190.2,1277.9 1190.9,1277.1 1191.7,1276.0 1192.4,1274.0 1193.2,1271.7 1194.0,1270.0 1194.7,1267.8 1195.5,1266.4 1196.3,1265.9 1197.0,1264.3 1197.8,1262.9 1198.5,1262.1 1199.3,1260.6 1200.8,1259.5 1202.2,1258.3 1203.7,1257.1 1205.1,1256.4 1206.6,1256.3 1207.1,1257.6 1207.6,1258.7 1208.0,1260.7 1208.5,1262.4 1209.0,1263.4 1209.5,1265.1 1209.9,1267.5 1210.4,1268.4 1210.9,1269.2 1211.4,1271.9 1211.8,1273.7 1212.3,1273.9 1212.8,1275.1 1214.4,1275.0 1215.9,1274.6 1217.5,1274.9 1219.1,1274.6 1220.7,1272.5 1222.2,1271.0 1223.8,1270.4 1225.6,1270.9 1227.3,1271.3 1229.1,1271.5 1230.8,1271.8 1232.6,1272.3 1234.3,1273.1 1236.1,1273.5 1237.6,1272.3 1239.2,1271.9 1240.7,1272.4 1242.2,1271.7 1243.8,1269.9 1245.3,1269.4 1246.9,1268.9 1248.4,1267.6 1250.1,1267.5 1251.9,1268.9 1253.6,1269.8 1255.4,1268.9 1257.1,1267.9 1258.9,1267.1 1260.6,1267.0 1262.4,1268.6 1264.1,1269.9 1265.9,1269.1 1267.6,1268.9 1269.4,1270.8 1271.1,1271.6 1272.9,1270.6 1274.5,1269.8 1276.2,1270.9 1277.8,1272.5 1279.5,1272.3 1281.1,1273.1 1282.8,1274.6 1284.4,1274.9 1286.1,1274.8 1287.7,1274.6 1289.3,1275.1 1291.0,1275.5 1292.6,1275.5 1294.2,1275.5 1295.9,1276.3 1297.5,1277.5 1299.1,1278.3 1300.8,1278.7 1302.4,1278.7 1304.0,1278.5 1305.7,1278.5 1307.3,1279.2 1308.9,1279.7 1310.6,1280.1 1312.2,1281.0 1313.9,1282.0 1315.5,1282.5 1317.2,1282.5 1318.8,1282.3 1320.4,1281.9 1322.1,1281.5 1323.7,1282.2 1325.4,1282.8 1327.0,1282.3 1328.6,1281.3 1330.3,1281.2 1331.9,1281.7 1333.5,1281.7 1335.2,1280.1 1336.8,1278.8 1338.4,1279.5 1340.1,1280.8 1341.7,1280.2 1343.3,1278.8 1345.0,1278.6 1346.6,1278.1 1348.1,1277.9 1349.7,1278.6 1351.2,1278.2 1352.8,1277.2 1354.3,1276.8 1355.8,1276.0 1357.4,1274.7 1358.9,1273.6 1360.3,1272.3 1361.6,1271.5 1363.0,1270.7 1364.4,1269.6 1365.7,1268.9 1367.1,1268.9 1368.5,1268.9 1369.8,1268.1 1371.2,1266.9 1373.0,1266.3 1374.7,1265.4 1376.5,1264.7 1378.2,1264.5 1380.0,1263.7 1381.7,1262.9 1383.4,1262.8 1385.0,1262.0 1386.7,1260.8 1388.4,1260.7 1390.1,1260.7 1391.8,1260.3 1393.4,1260.0 1395.1,1260.3 1396.8,1260.2 1398.5,1259.7 1400.2,1260.7 1401.8,1262.1 1403.5,1262.3 1405.1,1261.3 1406.7,1260.4 1408.3,1259.7 1409.8,1258.8 1411.4,1258.2 1413.0,1257.4 1414.6,1255.9 1416.2,1256.1 1417.8,1258.1 1419.4,1258.9 1421.0,1257.8 1422.6,1256.7 1424.2,1256.5 1425.8,1257.2 1427.3,1256.6 1428.8,1255.1 1430.2,1253.6 1431.7,1252.7 1433.2,1252.5 1434.7,1251.9 1436.4,1251.4 1438.0,1251.6 1439.7,1252.0 1441.4,1251.6 1443.1,1250.8 1444.8,1250.4 1446.4,1250.6 1448.1,1250.9 1449.8,1251.8 1451.4,1252.4 1453.1,1251.8 1454.8,1251.5 1456.5,1252.3 1458.2,1253.7 1459.8,1254.8 1461.5,1254.8 1463.3,1255.1 1465.1,1256.1 1466.8,1256.5 1468.6,1256.3 1470.4,1256.5 1472.0,1255.3 1473.6,1255.4 1475.2,1255.8 1476.8,1255.3 1478.4,1253.9 1480.0,1252.7 1481.6,1251.8 1483.4,1252.2 1485.2,1253.2 1486.9,1254.2 1488.7,1254.4 1490.5,1253.7 1492.1,1252.4 1493.6,1252.6 1495.2,1252.8 1496.7,1251.9 1498.3,1250.8 1499.9,1251.8 1501.5,1253.3 1503.0,1254.7 1504.6,1254.7 1506.2,1255.7 1507.7,1256.2 1509.2,1254.7 1510.7,1253.1 1512.1,1252.7 1513.6,1251.6 1515.1,1250.6 1516.7,1250.6 1518.3,1250.2 1519.9,1251.1 1521.5,1251.4 1523.1,1250.6 1524.7,1252.2 1526.3,1254.9 1527.8,1254.1 1529.3,1253.0 1530.7,1253.2 1532.2,1253.7 1533.7,1253.7 1535.2,1252.6 1536.6,1250.9 1538.1,1250.0 1539.6,1249.3 1541.0,1249.3 1542.4,1249.7 1543.8,1251.8 1545.2,1253.4 1546.6,1254.2 1548.0,1255.6 1549.4,1258.1 1550.8,1260.4 1552.6,1259.6 1554.4,1259.0 1556.1,1258.5 1557.9,1257.8 1559.7,1257.7 1561.0,1258.3 1562.4,1260.2 1563.7,1262.6 1565.1,1263.3 1566.4,1263.9 1568.2,1264.1 1570.0,1264.3 1571.8,1264.5 1573.6,1264.4 1575.4,1264.5 1576.2,1267.0 1577.1,1269.3 1577.9,1270.0 1578.7,1271.3 1579.5,1273.5 1580.3,1274.3 1581.2,1275.2 1582.0,1277.6 1582.6,1279.5 1583.1,1280.6 1583.7,1282.4 1584.2,1284.2 1584.8,1286.3 1585.1,1288.4 1585.3,1289.7 1585.6,1291.4 1585.9,1293.3 1586.1,1294.4 1586.4,1296.1 1586.7,1298.4 1586.9,1299.6 1587.2,1300.6 1587.4,1302.2 1587.6,1304.2 1587.9,1305.8 1588.1,1307.3 1588.3,1309.1 1588.5,1311.3 1588.8,1313.8 1589.0,1315.2 1589.2,1316.0 1589.4,1317.8 1589.6,1319.1 1589.9,1320.5 1590.1,1322.8 1590.3,1324.2 1590.6,1326.4 1591.0,1329.1 1591.3,1330.5 1591.7,1331.8 1592.0,1333.7 1592.4,1335.1 1592.7,1337.0 1593.1,1339.3 1593.4,1340.8 1594.0,1342.2 1594.5,1344.2 1595.1,1346.1 1595.6,1347.3 1596.2,1348.6 1596.7,1350.3 1597.2,1351.5 1597.8,1352.8 1598.4,1354.4 1598.9,1356.3 1599.2,1358.5 1599.6,1359.6 1599.9,1361.2 1600.2,1363.6 1600.6,1365.3 1600.9,1366.8 1601.2,1368.9 1601.6,1370.5 1601.9,1371.1 1602.3,1372.0 1602.6,1373.9 1602.9,1376.6 1603.3,1379.5 1603.6,1380.8 1604.0,1381.4 1604.3,1382.9 1604.7,1383.8 1605.0,1385.4 1605.4,1388.0 1605.7,1389.3 1606.1,1389.8 1606.4,1391.3 1606.8,1393.7 1607.1,1395.6 1607.5,1396.6 1607.7,1398.1 1608.0,1400.2 1608.2,1401.9 1608.5,1403.9 1608.7,1406.2 1608.9,1407.9 1609.2,1409.0 1609.4,1409.5 1609.6,1410.1 1609.9,1412.1 1610.1,1415.1 1610.4,1417.7 1610.6,1419.9 1610.9,1421.7 1611.3,1423.0 1611.6,1424.8 1611.9,1426.4 1612.3,1427.8 1612.6,1429.1 1612.9,1430.1 1613.3,1430.9 1613.6,1431.6 1614.0,1433.9 1614.3,1438.0 1614.6,1440.8 1615.0,1441.6 1615.3,1442.6 1615.8,1443.8 1616.2,1444.5 1616.7,1446.5 1617.2,1449.3 1617.7,1450.7 1618.1,1451.2 1618.6,1452.1 1619.1,1454.7 1619.5,1457.5 1620.0,1458.5 1621.3,1457.5 1622.5,1458.0 1623.8,1461.2 1625.0,1464.0 1626.3,1465.8 1628.0,1465.7 1629.8,1465.2 1631.5,1464.7 1633.3,1464.6 1634.7,1463.2 1636.0,1462.1 1637.4,1460.0 1638.8,1457.5 1639.8,1456.6 1640.9,1457.3 1641.9,1456.7 1642.9,1454.1 1644.0,1452.2 1645.0,1450.9 1645.3,1449.0 1645.6,1447.6 1645.8,1446.4 1646.1,1445.4 1646.4,1444.4 1646.7,1442.4 1647.0,1439.2 1647.3,1436.6 1647.5,1436.6 1647.8,1436.8 1648.1,1434.7 1648.7,1431.4 1649.2,1429.4 1649.8,1428.1 1650.3,1426.3 1650.9,1425.2 1651.4,1424.0 1652.0,1422.1 1653.0,1420.2 1654.0,1418.3 1654.9,1416.3 1655.9,1414.3 1657.2,1415.7 1658.5,1417.3 1659.8,1418.7 1660.8,1421.1 1661.8,1422.5 1662.8,1422.4 1663.8,1423.6 1664.5,1423.8 1665.1,1423.6 1665.8,1421.2 1666.4,1418.6 1667.0,1416.0 1667.7,1412.6 1667.9,1411.5 1668.2,1411.7 1668.4,1410.4 1668.6,1408.1 1668.8,1406.7 1669.1,1405.7 1669.3,1404.7 1669.5,1403.4 1669.8,1401.9 1670.0,1400.4 1670.2,1398.0 1670.5,1396.0 1670.7,1395.0 1670.9,1393.3 1671.1,1391.0 1671.4,1389.3 1671.6,1387.7 1671.9,1384.6 1672.3,1382.5 1672.6,1381.8 1673.0,1379.9 1673.3,1377.4 1673.7,1376.2 1674.0,1375.6 1674.4,1373.9 1674.7,1371.7 1674.9,1369.9 1675.1,1367.6 1675.4,1365.5 1675.6,1364.3 1675.8,1363.2 1676.0,1362.0 1676.2,1360.9 1676.5,1359.1 1676.7,1357.4 1676.9,1356.3 1677.1,1355.0 1677.4,1353.0 1677.6,1350.8 1677.8,1348.3 1678.2,1346.4 1678.6,1345.0 1679.0,1343.2 1679.4,1341.3 1679.8,1340.3 1680.1,1339.9 1680.5,1338.0 1680.9,1335.4 1681.3,1334.5 1681.7,1333.6 1681.9,1331.5 1682.0,1329.9 1682.2,1328.6 1682.4,1326.6 1682.6,1324.8 1682.7,1323.4 1682.9,1320.9 1683.1,1318.8 1683.2,1318.0 1683.4,1317.3 1683.6,1315.1 1683.8,1311.9 1683.9,1309.4 1684.1,1308.4 1684.5,1307.9 1684.9,1306.9 1685.3,1306.0 1685.7,1304.6 1686.1,1302.3 1686.4,1300.7 1686.8,1298.7 1687.2,1296.2 1687.6,1294.4 1688.0,1292.9 1688.4,1292.2 1688.8,1291.7 1690.0,1290.4 1691.1,1288.3 1692.2,1286.4 1693.4,1285.6 1693.9,1284.9 1694.5,1282.9 1695.0,1280.5 1695.5,1278.3 1696.1,1277.1 1696.6,1276.8 1697.1,1275.7 1697.6,1274.3 1698.2,1273.0 1698.7,1270.3 1699.2,1267.7 1699.7,1266.8 1700.3,1265.9 1700.8,1264.0 1701.3,1261.6 1702.2,1260.3 1703.1,1259.4 1704.0,1257.5 1704.8,1255.2 1705.7,1253.5 1706.6,1252.0 1707.5,1249.5 1708.3,1248.2 1709.1,1247.9 1709.8,1247.2 1710.6,1246.4 1711.4,1244.5 1712.2,1241.9 1713.0,1240.1 1713.8,1238.9 1714.5,1238.2 1715.3,1236.9 1716.1,1234.9 1716.9,1234.0 1717.6,1233.1 1718.4,1230.5 1720.0,1230.1 1721.6,1230.4 1723.1,1230.7 1724.7,1231.6 1725.8,1230.4 1726.9,1229.0 1728.0,1228.2 1729.2,1226.6 1730.3,1223.3 1731.4,1220.1 1732.5,1220.0 1734.5,1222.1 1736.4,1222.4 1738.3,1222.8 1740.3,1222.4 1741.0,1224.1 1741.6,1227.6 1742.3,1229.0 1743.0,1229.5 1743.7,1230.5 1744.3,1231.4 1745.0,1233.5 1745.5,1235.6 1746.0,1236.8 1746.6,1239.5 1747.1,1242.1 1747.6,1243.0 1748.1,1244.1 1748.7,1246.2 1749.2,1248.8 1749.7,1250.4 1750.9,1250.4 1752.1,1250.9 1753.2,1253.0 1754.4,1254.8 1754.7,1255.7 1754.9,1256.9 1755.2,1258.2 1755.4,1259.8 1755.7,1261.8 1756.0,1263.4 1756.2,1265.6 1756.5,1269.2 1756.7,1271.2 1757.0,1271.5 1757.2,1272.8 1757.5,1275.2 1757.8,1277.4 1758.2,1279.5 1758.5,1280.3 1758.8,1280.8 1759.1,1282.6 1759.5,1283.8 1759.8,1285.0 1760.1,1286.8 1760.4,1288.6 1760.8,1291.1 1761.1,1293.1 1761.4,1294.7 1761.7,1296.8 1761.9,1297.5 1762.2,1298.1 1762.5,1300.3 1762.7,1303.0 1763.0,1304.6 1763.3,1305.3 1763.5,1306.7 1763.8,1308.6 1764.5,1309.8 1765.1,1311.9 1765.8,1314.9 1766.4,1316.9 1767.0,1318.4 1767.7,1320.1 1768.8,1318.9 1770.0,1317.1 1771.2,1314.7 1772.3,1312.8 1773.4,1314.0 1774.5,1315.3 1775.6,1316.9 1776.7,1318.8 1777.8,1320.4 1779.4,1321.0 1780.9,1321.0 1782.5,1320.9 1784.1,1323.0 1785.3,1323.0 1786.6,1320.5 1787.8,1318.2 1789.1,1317.5 1790.3,1316.6 1791.1,1314.5 1791.9,1312.8 1792.7,1311.5 1793.4,1310.2 1794.2,1308.0 1795.0,1306.0 1795.5,1305.3 1795.9,1304.4 1796.4,1302.5 1796.9,1300.2 1797.3,1298.9 1797.8,1298.0 1798.3,1295.9 1798.8,1293.2 1799.2,1292.1 1799.7,1290.8 1800.0,1288.6 1800.4,1286.8 1800.7,1285.3 1801.1,1284.0 1801.4,1281.7 1801.8,1279.4 1802.1,1278.4 1802.5,1277.6 1802.8,1276.0 1803.7,1273.5 1804.6,1271.6 1805.5,1270.2 1806.5,1268.4 1807.4,1266.6 1808.3,1265.1 1809.7,1265.8 1811.1,1267.2 1812.5,1268.9 1813.9,1270.2 1815.3,1271.7 1816.9,1272.7 1818.4,1273.0 1820.0,1274.2 1821.6,1275.4 1823.2,1274.1 1824.7,1273.0 1826.3,1272.4 1827.5,1274.0 1828.6,1275.3 1829.8,1276.5 1830.9,1277.9 1832.1,1279.6 1833.3,1281.2 1834.4,1282.3 1835.6,1283.7 1837.5,1283.2 1839.5,1282.0 1841.5,1281.8 1843.4,1282.2 1845.5,1282.1 1847.6,1281.7 1849.7,1281.8 1850.6,1280.8 1851.5,1279.5 1852.4,1278.9 1853.2,1277.8 1854.1,1275.0 1855.0,1272.9 1855.9,1271.6 1856.7,1270.3 1857.5,1270.0 1858.2,1268.0 1859.0,1265.2 1859.8,1264.9 1860.6,1264.2 1861.8,1264.5 1862.9,1264.3 1864.1,1264.7 1865.3,1266.8 1866.5,1268.7 1867.7,1269.6 1868.8,1272.1 1870.0,1274.6 1873.1,1273.3 1873.7,1274.3 1874.3,1274.6 1874.9,1274.9 1875.6,1276.4 1876.2,1278.5 1876.8,1280.8 1877.4,1282.6 1878.0,1285.4 1878.6,1288.9 1879.2,1291.2 1879.8,1292.4 1880.4,1293.1 1881.0,1295.1 1882.6,1296.6 1884.2,1296.5 1885.8,1296.2 1887.3,1296.5 1888.9,1296.2 1890.5,1295.8 1892.3,1295.6 1894.1,1295.9 1895.9,1295.2 1897.7,1293.7 1898.1,1292.4 1898.6,1291.3 1899.0,1289.1 1899.5,1288.0 1899.9,1286.8 1900.3,1285.0 1900.8,1284.1 1901.2,1283.0 1901.7,1281.6 1902.1,1279.3 1902.8,1277.1 1903.5,1275.5 1904.2,1274.1 1905.0,1272.4 1905.7,1270.7 1906.4,1269.1 1907.1,1267.5 1907.9,1266.0 1908.6,1264.1 1909.3,1262.8 1910.1,1261.8 1910.8,1259.7 1911.6,1258.4 1912.5,1257.6 1913.3,1255.8 1914.1,1254.0 1914.9,1252.6 1915.8,1251.6 1916.6,1249.9 1918.8,1248.2 1920.9,1248.3 1922.2,1250.4 1923.5,1251.0 1924.7,1252.2 1926.0,1254.2 1926.8,1252.9 1927.7,1250.6 1928.5,1247.8 1929.4,1246.6 1930.2,1246.0 1931.1,1244.3 1932.5,1242.4 1934.0,1239.9 1935.4,1237.3 1937.2,1238.7 1939.1,1241.1 1939.8,1239.4 1940.5,1236.4 1941.3,1234.4 1942.0,1232.8 1942.7,1230.6 1943.8,1229.8 1944.8,1229.4 1945.9,1228.3 1947.0,1227.0 1948.1,1228.5 1949.2,1230.2 1950.3,1231.4 1951.4,1231.7 1951.6,1233.4 1951.9,1235.7 1952.1,1237.4 1952.4,1239.5 1952.6,1241.7 1952.8,1243.9 1953.1,1245.7 1953.3,1245.6 1953.6,1245.7 1953.8,1247.4 1954.1,1249.9 1954.3,1252.7 1954.5,1255.0 1954.7,1256.7 1955.0,1258.4 1955.2,1260.0 1955.4,1261.2 1955.6,1262.6 1955.9,1263.6 1956.1,1264.4 1956.3,1266.6 1956.5,1270.0 1956.8,1271.5 1957.0,1272.3 1957.2,1274.1 1957.4,1275.8 1957.5,1277.8 1957.7,1280.1 1957.8,1281.8 1958.0,1282.7 1958.2,1284.2 1958.3,1286.2 1958.5,1287.0 1958.7,1287.7 1958.8,1290.2 1959.0,1292.9 1959.1,1295.0 1959.3,1297.4 1959.5,1299.3 1959.6,1299.7 1959.8,1300.3 1959.9,1301.2 1960.1,1302.1 1960.3,1305.0 1960.5,1307.1 1960.8,1307.5 1961.0,1308.7 1961.2,1311.3 1961.4,1314.6 1961.7,1316.7 1961.9,1318.0 1962.1,1319.0 1962.3,1319.1 1962.6,1319.8 1962.8,1322.1 1963.0,1324.8 1963.4,1326.7 1963.8,1328.6 1964.2,1330.5 1964.7,1331.7 1965.1,1333.1 1965.5,1335.0 1965.9,1337.0 1967.0,1338.8 1968.1,1340.0 1969.2,1340.8 1970.3,1341.5 1971.7,1339.7 1973.2,1338.4 1974.6,1337.5 1976.1,1338.7 1977.5,1340.1 1979.0,1341.5 1980.7,1342.7 1982.3,1343.3 1984.0,1343.5 1985.3,1342.3 1986.5,1342.3 1987.8,1341.6 1989.1,1339.7 1990.2,1338.1 1991.3,1336.8 1992.4,1335.0 1993.5,1333.8 1994.9,1332.8 1996.4,1331.8 1997.8,1331.2 1998.9,1330.2 2000.0,1329.1 2001.1,1326.9 2002.2,1324.4 2002.9,1323.0 2003.6,1321.6 2004.3,1319.3 2005.1,1317.5 2005.8,1316.3 2006.5,1314.5 2007.2,1313.4 2008.0,1313.1 2008.7,1311.2 2009.4,1308.3 2010.1,1306.5 2010.9,1306.3 2011.6,1305.8 2012.3,1304.7 2013.1,1303.3 2013.8,1300.7 2014.5,1297.6 2015.3,1295.3 2016.0,1293.2 2017.2,1291.3 2018.5,1290.3 2019.8,1289.5 2021.0,1288.5 2022.5,1287.3 2023.9,1285.9 2025.4,1285.1 2026.7,1283.6 2028.0,1281.3 2029.2,1279.2 2030.5,1277.8 2031.0,1276.7 2031.5,1275.7 2032.0,1274.9 2032.6,1273.6 2033.1,1272.0 2033.6,1270.0 2034.1,1268.0 2034.6,1266.1 2035.1,1263.8 2035.5,1261.7 2036.0,1260.6 2036.5,1259.4 2037.0,1257.9 2037.4,1256.7 2037.9,1254.8 2038.4,1253.3 2039.1,1252.8 2039.9,1251.5 2040.6,1250.0 2041.3,1248.3 2042.0,1246.0 2042.8,1243.9 2043.5,1242.4 2044.2,1241.4 2044.9,1239.5 2045.7,1236.6 2046.4,1235.8 2047.1,1235.7 2048.6,1234.3 2050.0,1233.1 2051.5,1232.4 2052.9,1230.8 2054.4,1229.3 2055.9,1228.7 2057.3,1227.2 2059.1,1227.5 2060.9,1228.6 2062.7,1228.3 2064.5,1227.6 2065.4,1229.3 2066.3,1231.4 2067.1,1232.9 2068.0,1234.2 2068.9,1236.8 2070.7,1237.4 2072.6,1236.8 2074.4,1236.7 2076.2,1237.2 2077.9,1238.3 2079.7,1238.9 2081.4,1239.5 2083.2,1240.5 2084.9,1241.7 2086.3,1241.7 2087.8,1240.5 2089.2,1239.4 2090.7,1239.1 2092.1,1240.3 2093.6,1240.9 2095.0,1241.4 2096.4,1239.9 2097.9,1238.7 2099.4,1237.6 2100.8,1237.1 2101.6,1237.0 2102.5,1236.4 2103.3,1234.6 2104.1,1232.4 2104.9,1230.7 2105.8,1228.8 2106.6,1227.5 2108.1,1230.4 2109.5,1232.5 2110.9,1232.6 2112.4,1232.6 2113.9,1231.6 2115.3,1230.3 2116.8,1228.4 2118.2,1227.7 2119.7,1227.6 2121.1,1227.3 2122.6,1226.9 2123.8,1229.2 2124.9,1230.5 2126.1,1231.0 2127.2,1232.4 2128.4,1234.3 2128.8,1236.2 2129.2,1237.2 2129.6,1237.3 2130.0,1238.5 2130.4,1241.3 2130.8,1243.9 2131.2,1245.5 2131.6,1247.1 2132.0,1248.8 2132.3,1249.5 2132.6,1250.1 2132.8,1251.0 2133.1,1252.6 2133.4,1255.2 2133.6,1257.5 2133.9,1259.1 2134.2,1260.8 2135.0,1262.4 2135.9,1263.6 2136.7,1264.2 2137.5,1265.7 2138.3,1268.7 2139.2,1271.6 2140.0,1272.7 2141.8,1272.2 2143.6,1273.1 2145.4,1274.9 2146.1,1276.4 2146.8,1276.9 2147.6,1278.2 2148.3,1280.7 2149.0,1282.4 2150.1,1282.5 2151.2,1283.5 2152.3,1286.5 2153.4,1289.0 2155.0,1287.5 2156.7,1286.7 2158.3,1285.8 2159.9,1284.8 2161.2,1286.3 2162.4,1287.5 2163.7,1287.7 2165.0,1288.2 2166.1,1289.8 2167.2,1291.5 2168.2,1293.6 2169.3,1295.5 2170.8,1296.1 2172.2,1297.0 2173.7,1298.7 2175.1,1300.3 2175.7,1301.7 2176.4,1302.9 2177.0,1303.9 2177.6,1305.6 2178.2,1307.8 2178.9,1308.9 2179.5,1310.7 2180.9,1312.9 2182.4,1314.4 2183.8,1316.5 2185.6,1317.3 2187.4,1316.7 2189.3,1316.0 2191.1,1316.7 2191.8,1319.5 2192.5,1320.4 2193.2,1320.1 2194.0,1322.1 2194.7,1325.1 2195.4,1327.0 2197.2,1327.9 2199.1,1329.1 2200.9,1327.7 2202.7,1325.5 2203.5,1326.3 2204.4,1327.4 2205.2,1328.8 2206.0,1330.6 2206.8,1332.9 2207.7,1334.7 2208.5,1335.5 2209.4,1337.2 2210.2,1339.3 2211.1,1340.7 2211.9,1342.6 2212.8,1343.8 2214.6,1343.4 2216.4,1344.1 2218.3,1345.1 2220.1,1344.9 2221.0,1345.2 2221.9,1346.8 2222.7,1349.5 2223.6,1351.4 2224.5,1352.6 2226.4,1351.7 2228.4,1350.0 2230.3,1349.3 2231.3,1352.2 2232.4,1354.3 2233.4,1355.1 2234.4,1356.2 2235.4,1357.5 2236.5,1359.4 2237.5,1362.1 2239.0,1363.0 2240.4,1363.1 2241.9,1363.9 2243.8,1364.0 2245.8,1364.1 2247.7,1364.5 2248.4,1366.1 2249.1,1368.5 2249.9,1370.7 2250.6,1371.6 2251.3,1371.8 2252.1,1373.3 2252.8,1375.1 2253.5,1376.1 2254.5,1377.4 2255.6,1378.2 2256.6,1379.0 2257.6,1380.9 2258.6,1382.4 2259.7,1384.3 2260.7,1386.5 2261.2,1388.0 2261.8,1389.7 2262.3,1391.2 2262.9,1391.6 2263.4,1392.5 2264.0,1394.4 2264.5,1396.3 2265.1,1398.0 2266.9,1399.1 2268.7,1400.0 2270.5,1401.2 2272.3,1401.0 2273.2,1400.1 2274.1,1401.6 2274.9,1404.4 2275.8,1406.6 2276.7,1408.2 2277.9,1408.9 2279.0,1409.0 2280.2,1410.1 2281.3,1413.3 2282.5,1414.5 2283.5,1412.3 2284.6,1411.6 2285.6,1409.4 2286.6,1407.2 2287.6,1406.3 2288.7,1405.3 2289.7,1404.1 2290.8,1405.3 2291.9,1407.2 2293.0,1408.4 2294.1,1408.7 2295.2,1409.3 2296.3,1410.4 2297.4,1409.7 2298.5,1408.2 2299.6,1406.4 2300.6,1405.6 2301.7,1404.4 2302.8,1402.9 2304.0,1403.8 2305.2,1405.0 2306.4,1406.6 2307.6,1407.5 2308.8,1408.9 2310.0,1410.2 2311.5,1408.6 2312.9,1407.6 2314.4,1407.0 2315.8,1406.3 2317.3,1404.9 2318.8,1404.0 2320.2,1404.4 2321.7,1404.0 2323.1,1402.8 2324.6,1402.0 2325.2,1400.6 2325.8,1399.2 2326.4,1396.9 2327.1,1394.5 2327.7,1392.6 2328.3,1391.2 2328.9,1389.6 2329.8,1390.6 2330.7,1391.4 2331.5,1392.7 2332.4,1395.0 2333.3,1397.3 2333.8,1399.2 2334.4,1401.0 2334.9,1401.7 2335.4,1402.6 2336.0,1404.3 2336.5,1405.7 2337.1,1407.7 2337.6,1409.9 2339.1,1411.4 2340.5,1412.4 2341.9,1412.7 2343.4,1414.0 2344.7,1415.9 2346.0,1416.9 2347.4,1417.5 2348.7,1418.3 2350.0,1419.7 2351.0,1419.2 2352.0,1418.6 2353.0,1416.8 2354.0,1413.9 2355.0,1411.5 2355.1,1410.2 2355.3,1410.1 2355.4,1410.2 2355.6,1408.9 2355.7,1406.4 2355.9,1404.0 2356.0,1401.5 2356.2,1398.8 2356.3,1397.2 2356.4,1395.6 2356.6,1393.4 2356.7,1391.7 2356.9,1390.2 2357.0,1389.6 2357.2,1389.1 2357.3,1387.8 2357.5,1386.4 2357.6,1384.4 2357.8,1382.0 2357.9,1380.5 2358.5,1378.8 2359.1,1376.5 2359.6,1374.7 2360.2,1373.2 2360.8,1371.8 2361.2,1373.2 2361.5,1374.6 2361.9,1375.8 2362.3,1377.3 2362.7,1379.7 2363.0,1381.1 2363.4,1382.4 2363.8,1384.2 2364.1,1385.1 2364.5,1385.9 2364.7,1388.1 2364.9,1390.2 2365.1,1391.5 2365.3,1393.0 2365.5,1394.7 2365.7,1396.2 2365.9,1398.0 2366.1,1400.3 2366.3,1401.7 2366.5,1402.9 2366.7,1405.3 2366.9,1407.1 2367.1,1407.4 2367.3,1408.6 2367.5,1411.3 2367.7,1413.0 2367.9,1414.2 2368.1,1416.6 2368.2,1418.5 2368.3,1419.0 2368.4,1419.8 2368.5,1422.1 2368.6,1424.9 2368.7,1426.3 2368.9,1427.8 2369.0,1429.3 2369.1,1429.8 2369.2,1431.3 2369.3,1434.0 2369.4,1435.7 2369.5,1437.6" fill="none" stroke="#ff0000" stroke-width="9" stroke-linejoin="round" stroke-linecap="round" shape-rendering="crispEdges"/>
<polyline points="183.9,851.4 184.2,853.1 184.5,855.3 184.8,857.1 185.0,858.9 185.3,860.9 185.6,861.1 185.9,860.2 186.2,861.3 186.4,864.1 186.7,867.2 187.0,869.5 187.3,870.4 187.6,872.0 187.9,875.1 188.2,877.2 188.4,878.3 188.7,879.5 189.0,880.7 189.6,879.0 190.2,877.8 190.7,876.9 191.3,875.7 191.9,873.9 192.5,871.5 193.1,869.7 193.7,869.8 194.2,868.4 194.8,865.0 195.4,863.7 196.0,862.6 196.7,861.2 197.3,860.3 197.9,857.9 198.6,855.4 199.2,853.8 199.9,852.4 200.5,851.3 202.0,850.4 203.6,849.4 205.1,848.3 206.7,847.0 208.2,847.3 208.7,849.7 209.2,851.1 209.7,852.8 210.2,854.0 210.7,854.8 211.2,857.0 211.7,859.5 212.2,861.3 212.7,863.3 213.2,865.1 213.7,866.1 214.2,866.9 214.7,867.7 216.0,866.6 217.2,866.0 218.5,864.8 219.8,863.3 221.1,862.2 222.3,860.6 223.6,859.5 224.9,858.8 225.4,857.1 225.9,856.3 226.4,855.6 227.0,853.9 227.5,851.7 228.0,849.9 228.5,848.4 229.0,846.8 229.5,845.2 230.0,843.5 230.5,842.1 231.1,840.2 231.6,838.4 232.1,837.1 232.6,835.3 233.4,836.6 234.2,838.3 235.1,840.3 235.9,841.1 236.7,841.5 237.5,843.2 238.3,845.6 239.1,847.5 240.0,848.3 240.8,849.0 241.6,850.9 242.8,851.3 243.9,850.7 245.1,848.5 246.3,846.2 247.4,844.5 248.6,843.4 249.7,842.2 250.9,840.5 252.1,839.8 253.2,839.7 254.4,839.2 255.5,838.7 256.6,838.0 257.6,836.2 258.7,833.8 259.8,831.8 260.9,831.1 261.3,833.9 261.6,835.8 262.0,836.7 262.4,838.3 262.7,840.5 263.1,841.1 263.5,841.2 263.8,843.1 264.2,845.2 264.6,846.3 264.9,847.5 265.3,849.4 265.7,851.3 266.0,853.0 266.4,854.7 266.8,856.7 267.1,858.6 267.5,860.1 267.9,861.1 268.2,861.5 268.6,863.2 269.5,862.8 270.3,861.9 271.2,861.0 272.0,859.4 272.9,857.5 273.7,855.7 274.6,853.8 275.4,852.9 276.3,852.5 276.5,850.7 276.7,847.9 277.0,846.0 277.2,844.7 277.4,842.9 277.6,841.4 277.8,839.6 278.1,837.4 278.3,836.0 278.5,835.0 278.7,834.1 278.9,833.1 279.2,832.2 279.4,830.2 279.6,828.1 279.8,827.2 280.1,824.8 280.3,822.0 280.5,820.9 280.7,820.2 280.9,819.2 281.2,817.1 281.4,814.3 281.6,813.0 281.8,812.4 282.0,810.1 282.3,807.6 282.5,806.3 282.7,805.7 283.4,807.9 284.1,808.8 284.8,809.1 285.5,809.8 286.2,811.3 286.9,813.0 287.5,815.5 288.2,818.0 288.9,819.3 289.6,820.2 290.3,821.0 291.0,822.6 291.7,824.7 292.3,822.9 292.9,821.0 293.4,820.1 294.0,818.2 294.6,815.3 295.2,813.5 295.8,812.9 296.4,812.4 296.9,811.4 297.5,810.0 298.1,807.9 298.3,805.0 298.6,803.0 298.8,802.6 299.1,802.2 299.3,799.9 299.6,797.4 299.8,796.7 300.0,795.4 300.3,793.6 300.5,791.9 300.8,790.3 301.0,788.7 301.3,786.7 301.5,785.4 301.7,784.3 302.0,782.7 302.2,781.0 302.5,779.5 302.7,778.4 303.0,777.8 303.2,777.2 304.7,776.7 306.3,774.8 307.8,773.7 309.4,773.6 310.9,772.8 311.2,774.0 311.6,774.6 311.9,775.7 312.2,778.1 312.6,781.0 312.9,782.6 313.3,782.9 313.6,784.8 313.9,786.9 314.3,788.4 314.6,789.9 314.9,791.0 315.3,793.0 315.6,795.5 316.0,797.4 316.3,798.4 316.6,799.2 317.0,801.1 317.3,802.9 318.8,801.0 320.3,799.9 321.8,799.6 323.3,799.0 324.8,798.3 326.3,797.5 326.9,795.5 327.4,793.2 328.0,791.4 328.6,790.5 329.1,788.9 329.7,787.0 330.3,785.2 330.8,783.4 331.4,781.9 332.1,784.0 332.8,786.0 333.6,786.5 334.3,786.9 335.0,788.2 335.7,789.7 336.5,792.2 337.2,794.5 337.9,795.9 338.2,797.5 338.5,798.7 338.8,799.5 339.1,800.3 339.4,802.1 339.7,804.2 340.0,805.8 340.3,808.7 340.6,810.5 340.9,811.3 341.2,813.2 341.5,814.8 341.8,815.8 342.1,817.8 342.4,820.1 342.7,821.8 343.0,822.3 343.2,819.7 343.4,818.9 343.5,818.0 343.7,815.1 343.9,812.5 344.1,812.7 344.3,813.0 344.5,810.2 344.6,806.6 344.8,804.6 345.0,803.5 345.2,802.1 345.4,800.7 345.6,799.9 345.7,798.5 345.9,796.1 346.1,793.6 346.3,791.8 346.5,790.0 346.6,788.6 346.8,788.5 347.0,787.3 347.2,784.8 347.4,783.6 347.6,782.4 347.7,780.5 347.9,777.8 348.1,775.3 348.3,774.6 348.5,774.2 348.7,773.5 348.9,771.9 349.1,768.7 349.3,766.7 349.4,765.5 349.6,764.0 349.8,763.1 350.0,762.3 350.2,760.1 350.4,757.0 350.6,756.0 350.8,755.0 351.0,752.4 351.2,751.3 351.4,751.0 351.6,748.9 351.8,746.5 352.0,745.1 352.1,742.8 352.3,740.1 352.5,739.4 352.7,738.6 352.9,736.9 353.1,735.4 353.3,733.9 353.8,736.3 354.2,738.6 354.7,739.3 355.1,738.5 355.6,739.8 356.0,742.9 356.5,744.3 357.0,745.8 357.4,748.0 357.9,749.3 358.3,750.5 358.8,753.2 359.2,755.8 359.7,756.2 360.8,753.6 361.8,753.0 362.9,752.2 364.0,750.9 365.0,749.3 366.1,747.0 366.6,748.4 367.1,750.2 367.6,752.3 368.2,754.5 368.7,755.6 369.2,756.3 369.7,758.0 370.2,760.8 370.7,762.6 371.2,763.2 371.7,764.0 372.3,765.1 372.8,767.8 373.3,771.2 373.8,772.8 375.3,773.4 376.8,775.0 378.3,775.1 379.8,774.7 381.3,775.5 382.8,776.4 383.2,777.9 383.7,779.4 384.1,781.4 384.5,782.9 384.9,782.7 385.4,783.5 385.8,786.2 386.2,789.0 386.6,792.1 387.1,793.9 387.5,794.3 387.9,795.3 388.3,796.5 388.8,797.6 389.2,798.8 389.6,800.9 390.0,802.7 390.4,803.0 390.9,804.0 391.3,806.4 391.7,808.8 392.1,810.7 392.6,812.4 393.0,814.5 393.3,813.3 393.6,812.1 394.0,810.6 394.3,808.6 394.6,806.9 394.9,805.7 395.2,803.7 395.6,800.8 395.9,799.0 396.2,798.1 396.5,796.2 396.9,794.2 397.2,793.8 397.5,792.5 397.8,789.9 398.1,787.8 398.5,785.9 398.8,784.6 399.1,783.5 399.4,781.8 399.7,780.2 400.1,778.8 400.4,777.8 400.7,776.2 401.0,776.5 401.4,778.0 401.7,780.9 402.1,782.3 402.4,783.4 402.8,785.4 403.1,787.2 403.5,788.7 403.8,790.2 404.2,792.4 404.5,794.0 404.9,794.9 405.2,797.2 405.6,798.6 405.9,799.4 407.7,799.8 409.5,800.2 411.2,800.5 413.0,800.7 414.8,800.3 415.0,801.8 415.3,803.9 415.5,805.3 415.8,807.1 416.0,809.0 416.3,809.4 416.5,810.4 416.8,812.9 417.0,814.8 417.2,815.5 417.5,817.2 417.7,820.1 418.0,822.5 418.2,823.3 418.5,824.0 418.7,825.8 420.2,826.9 421.7,827.3 423.2,828.5 424.7,830.2 426.2,830.6 427.7,830.8 428.0,832.2 428.3,833.1 428.6,834.6 428.9,837.3 429.2,839.4 429.5,840.5 429.8,842.2 430.1,844.3 430.4,845.1 430.7,846.2 431.0,848.7 431.3,851.1 431.6,853.3 431.9,855.2 432.2,856.6 432.5,857.2 432.8,857.8 433.0,860.1 433.3,862.6 433.5,864.3 433.8,866.4 434.0,868.0 434.3,869.5 434.5,871.5 434.8,872.2 435.0,872.7 435.2,874.2 435.5,876.2 435.7,878.5 436.0,880.6 436.2,882.1 436.5,883.9 436.7,885.7 437.6,886.8 438.5,888.5 439.4,890.2 440.4,891.2 441.3,891.7 442.2,893.5 443.1,895.7 443.3,896.4 443.4,898.0 443.6,900.2 443.8,900.9 443.9,901.9 444.1,903.7 444.2,905.8 444.4,908.0 444.6,909.1 444.7,910.2 444.9,911.8 445.1,913.7 445.2,916.7 445.4,918.5 445.5,919.1 445.7,921.3 446.6,920.5 447.5,918.3 448.4,915.3 449.4,913.6 450.3,913.0 451.2,911.6 452.1,910.5 452.4,913.1 452.7,914.3 453.0,914.5 453.3,916.6 453.6,919.2 453.9,920.5 454.2,921.6 454.5,924.0 454.8,925.5 455.1,925.7 455.5,927.3 455.8,929.5 456.1,931.0 456.4,932.2 456.7,933.9 457.0,935.9 457.3,937.6 457.6,939.5 457.9,941.6 458.2,943.1 458.5,944.8 459.5,946.2 460.4,946.5 461.4,947.0 462.4,949.0 463.3,950.5 464.3,951.3 465.2,952.5 466.2,953.4 466.3,955.6 466.4,958.5 466.5,960.3 466.6,961.6 466.7,963.4 466.8,965.0 466.9,965.8 467.0,966.5 467.1,968.0 467.2,970.7 467.3,972.6 467.4,973.1 467.6,974.5 467.7,977.6 467.8,979.2 467.9,979.9 468.0,981.8 468.1,983.6 468.2,985.1 468.3,987.2 468.4,989.6 468.5,992.0 468.6,993.2 468.7,993.7 468.8,995.1 469.8,996.2 470.8,997.0 471.8,998.6 472.8,1000.2 473.7,1000.7 474.7,1001.9 475.7,1005.5 476.7,1008.3 477.7,1009.3 477.9,1010.6 478.1,1012.4 478.3,1013.8 478.6,1015.0 478.8,1016.4 479.0,1018.3 479.2,1020.1 479.4,1022.3 479.6,1023.5 479.9,1023.7 480.1,1025.2 480.3,1027.3 480.5,1028.7 480.7,1030.1 480.9,1031.8 481.2,1034.0 481.4,1035.7 481.6,1036.2 481.8,1036.5 482.0,1038.4 482.2,1041.7 482.5,1044.1 482.7,1045.6 482.9,1047.6 484.0,1048.7 485.0,1049.5 486.1,1050.7 487.2,1052.2 488.2,1054.4 489.3,1054.9 489.7,1054.9 490.0,1057.5 490.4,1060.7 490.7,1062.3 491.1,1062.7 491.4,1062.6 491.8,1064.0 492.1,1066.7 492.5,1068.4 492.9,1069.7 493.2,1071.6 493.6,1074.6 493.9,1077.1 494.3,1078.2 494.6,1078.8 495.0,1079.4 495.3,1081.0 495.7,1082.6 496.8,1082.8 497.8,1084.1 498.9,1086.6 500.0,1088.3 501.0,1088.7 502.1,1088.8 502.5,1091.0 502.9,1094.4 503.3,1097.1 503.7,1097.8 504.1,1098.4 504.5,1099.9 504.9,1102.1 505.3,1105.1 505.7,1106.3 506.2,1105.8 506.6,1106.1 507.0,1108.7 507.4,1112.1 507.8,1114.1 508.2,1115.7 508.6,1116.4 509.0,1117.2 509.4,1119.2 509.8,1120.9 510.6,1122.4 511.3,1123.9 512.1,1125.2 512.9,1127.3 513.6,1129.1 514.4,1130.1 515.2,1131.7 516.0,1133.3 516.7,1134.4 517.5,1135.4 518.1,1133.4 518.7,1132.1 519.3,1131.6 519.9,1130.2 520.5,1127.5 521.1,1126.0 521.6,1124.6 522.2,1122.3 522.8,1121.7 523.4,1120.8 524.0,1118.4 524.6,1117.1 525.2,1116.1 525.6,1118.4 526.0,1120.3 526.4,1121.0 526.8,1122.1 527.2,1125.1 527.6,1127.9 528.0,1128.4 528.4,1128.2 528.8,1129.6 529.2,1130.7 529.6,1131.7 530.0,1134.2 530.4,1136.6 530.8,1138.7 531.2,1140.3 531.6,1141.3 532.1,1143.1 532.5,1144.3 533.0,1144.4 533.5,1146.5 533.9,1149.3 534.4,1150.6 534.9,1151.0 535.3,1151.7 535.8,1152.7 536.2,1154.5 536.7,1157.6 537.2,1160.2 537.6,1162.1 538.1,1164.2 538.6,1165.5 539.0,1166.1 539.5,1167.5 540.1,1165.9 540.8,1163.9 541.4,1161.3 542.0,1159.4 542.7,1158.8 543.3,1157.7 543.9,1155.9 544.6,1153.9 545.2,1152.2 546.2,1151.5 547.1,1150.3 548.0,1149.0 549.0,1147.7 550.0,1146.7 550.9,1145.9 551.3,1147.3 551.8,1148.1 552.2,1149.7 552.6,1152.6 553.1,1154.3 553.5,1155.1 554.0,1156.6 554.4,1157.9 554.9,1156.5 555.4,1155.6 555.9,1152.9 556.4,1150.5 556.9,1150.2 557.4,1149.5 557.9,1148.2 558.4,1146.4 558.9,1144.3 559.4,1142.7 559.9,1140.8 560.4,1138.2 560.9,1136.1 561.5,1134.7 562.0,1133.0 562.5,1131.7 563.0,1131.3 563.5,1130.2 564.4,1131.7 565.3,1132.9 566.2,1134.2 567.1,1135.7 567.9,1136.7 568.8,1137.8 569.7,1140.2 570.6,1142.5 571.5,1143.9 572.2,1142.6 572.9,1142.2 573.6,1140.9 574.4,1138.0 575.1,1135.8 575.8,1134.4 576.5,1133.5 577.2,1133.3 577.6,1135.5 578.0,1137.1 578.4,1137.8 578.8,1138.9 579.2,1141.5 579.6,1143.6 580.0,1144.8 580.4,1145.7 580.9,1146.1 581.3,1147.3 581.7,1148.8 582.1,1150.1 582.5,1152.5 582.9,1155.1 583.3,1156.1 583.7,1156.9 584.1,1159.2 584.8,1158.0 585.5,1156.6 586.2,1156.0 586.9,1154.4 587.5,1151.9 588.2,1150.1 588.9,1148.1 589.6,1145.6 590.3,1144.5 591.0,1143.3 592.0,1141.8 592.9,1140.9 593.9,1139.7 594.9,1138.5 595.9,1137.3 596.8,1135.2 597.8,1132.6 598.8,1133.4 599.8,1135.8 600.8,1138.2 601.7,1139.5 602.7,1141.7 603.7,1143.8 604.7,1144.4 605.0,1142.0 605.3,1139.8 605.6,1138.7 605.9,1137.8 606.1,1135.4 606.4,1133.6 606.7,1132.7 607.0,1131.1 607.3,1130.0 607.6,1128.7 607.9,1126.6 608.1,1124.9 608.4,1122.7 608.7,1120.8 609.0,1119.8 609.3,1118.8 609.6,1117.6 609.8,1115.1 610.1,1112.4 610.3,1110.7 610.6,1109.8 610.9,1109.2 611.1,1107.8 611.4,1105.8 611.7,1103.9 611.9,1102.8 612.2,1102.0 612.4,1100.4 612.7,1098.4 614.3,1098.7 615.9,1098.8 617.5,1099.3 619.1,1099.5 620.7,1099.3 621.5,1098.5 622.2,1097.6 623.0,1095.9 623.8,1094.7 624.5,1093.7 625.3,1092.2 626.4,1092.5 627.6,1093.1 628.7,1095.0 629.8,1096.7 631.0,1097.3 632.1,1097.7 633.8,1099.5 635.5,1101.1 637.3,1101.1 639.0,1100.8 639.9,1099.3 640.8,1098.8 641.7,1097.0 642.6,1094.3 643.5,1093.4 644.5,1092.8 645.4,1091.0 646.3,1089.3 647.2,1087.2 648.1,1086.2 649.5,1089.4 651.0,1092.3 652.5,1093.8 653.9,1093.8 654.6,1091.2 655.2,1089.0 655.9,1087.4 656.6,1086.6 657.2,1084.2 657.9,1080.8 658.6,1080.1 659.2,1080.2 659.9,1078.7 660.6,1077.1 661.2,1075.7 661.9,1074.0 662.5,1075.3 663.0,1077.0 663.6,1079.5 664.1,1082.0 664.7,1081.9 665.3,1081.9 665.8,1084.6 666.4,1087.0 667.0,1087.8 667.7,1088.6 668.3,1089.9 669.0,1092.0 669.6,1093.2 670.3,1094.8 670.9,1097.4 671.6,1099.5 672.2,1101.4 673.0,1102.6 673.8,1103.0 674.6,1103.8 675.5,1105.5 676.3,1107.7 677.1,1109.9 677.9,1111.5 678.7,1110.4 679.5,1109.1 680.3,1106.6 681.2,1104.2 682.0,1101.7 682.8,1099.9 683.6,1099.2 684.2,1097.9 684.7,1096.4 685.3,1095.1 685.9,1093.6 686.5,1092.7 687.0,1091.9 687.6,1090.2 688.2,1088.0 688.7,1085.6 689.3,1084.0 690.2,1082.6 691.2,1080.7 691.8,1078.9 692.3,1077.0 692.9,1075.9 693.4,1075.1 694.0,1073.0 694.5,1070.9 695.1,1069.3 695.6,1067.8 696.2,1066.2 696.7,1064.2 697.5,1062.3 698.3,1059.8 699.1,1057.7 699.9,1057.1 700.7,1056.2 701.5,1054.7 702.3,1052.9 702.7,1051.4 703.1,1049.6 703.5,1046.8 703.9,1044.6 704.3,1044.3 704.7,1044.1 705.1,1042.4 705.5,1040.7 705.9,1039.2 706.3,1037.7 706.7,1036.1 707.1,1033.9 707.5,1032.0 707.9,1030.6 708.5,1028.9 709.1,1026.7 709.8,1025.3 710.4,1026.1 711.0,1025.9 711.6,1022.3 712.3,1018.3 712.9,1015.8 713.5,1014.4 714.2,1014.0 715.0,1012.5 715.7,1010.7 716.5,1009.7 717.2,1008.4 718.0,1006.5 718.7,1005.3 719.5,1004.2 720.2,1003.0 720.4,1001.9 720.5,1000.8 720.7,999.2 720.8,997.3 721.0,995.5 721.1,993.8 721.3,992.3 722.2,990.5 723.1,989.1 724.0,987.7 724.9,985.7 725.8,983.6 726.4,981.2 727.0,979.3 727.6,977.8 728.2,976.4 728.9,974.7 729.5,973.0 730.1,971.6 730.7,969.5 731.3,967.9 732.2,967.4 733.2,965.7 734.1,963.6 735.0,962.2 736.0,960.7 736.9,960.3 737.2,959.0 737.4,956.7 737.7,955.3 737.9,954.0 738.2,952.3 738.4,950.9 738.7,948.9 738.9,947.0 739.2,945.6 739.5,943.5 739.9,941.7 740.2,940.1 740.5,938.0 740.9,935.9 741.2,934.0 741.5,931.7 741.8,929.5 742.2,928.3 742.5,927.8 742.9,927.9 743.2,926.5 743.6,923.3 744.0,920.5 744.3,918.9 744.7,918.6 746.4,918.3 748.0,916.1 749.7,914.7 751.4,914.7 752.3,913.8 753.2,913.4 754.1,912.6 755.0,911.1 755.9,909.9 756.2,908.9 756.5,907.4 756.7,904.2 757.0,901.1 757.3,900.4 757.5,899.4 757.8,897.5 758.1,895.5 759.4,894.2 760.8,894.3 762.1,894.4 763.5,891.7 764.8,888.7 766.1,888.0 767.5,887.6 768.8,886.2 770.2,885.7 771.5,885.9 773.4,885.9 775.2,885.5 777.1,886.0 778.6,885.7 780.1,884.5 781.6,882.1 782.0,880.3 782.4,878.6 782.7,876.5 783.1,874.7 784.3,873.1 785.6,871.2 786.8,869.6 788.1,869.2 789.3,868.7 790.0,866.3 790.7,864.6 791.3,864.1 792.0,863.5 792.7,862.3 793.4,860.4 794.0,858.6 794.7,857.5 795.4,856.7 796.9,857.7 798.4,857.4 799.8,857.0 801.3,857.6 802.8,859.1 803.9,858.3 804.9,856.2 806.0,854.3 807.0,853.4 808.1,852.0 809.1,849.2 810.2,847.0 812.0,848.3 813.9,849.6 815.7,850.2 817.5,850.1 820.0,851.5 820.4,853.5 820.8,854.8 821.2,856.0 821.6,858.4 822.0,860.2 822.3,861.5 822.7,863.1 823.1,863.7 823.5,864.9 823.9,867.6 824.2,869.7 824.5,871.1 824.9,873.5 825.2,876.2 825.5,877.8 825.8,878.5 826.2,879.3 826.5,880.7 826.8,881.6 827.1,882.4 827.5,883.6 827.8,886.1 828.1,889.9 828.5,892.0 828.8,892.3 829.1,893.5 829.5,895.4 829.8,896.5 830.1,898.9 830.5,901.0 830.8,901.4 831.2,903.4 831.5,906.5 831.8,908.5 832.2,909.5 832.5,910.8 832.7,911.6 832.9,911.4 833.2,912.9 833.4,915.6 833.6,917.9 833.8,920.2 834.0,921.4 834.3,923.3 834.5,926.1 834.7,927.5 834.9,929.0 835.2,931.5 835.4,932.3 835.6,932.7 835.8,934.0 835.9,936.1 836.1,938.5 836.3,940.2 836.5,942.3 836.6,944.7 836.8,946.1 837.0,947.8 837.1,949.9 837.3,951.1 837.5,952.4 837.7,954.3 837.8,955.7 838.0,956.3 838.2,958.0 838.4,960.1 838.7,962.0 838.9,964.1 839.1,966.8 839.7,965.8 840.3,962.9 840.9,959.9 841.5,959.3 842.1,959.1 842.7,956.8 842.9,954.3 843.0,953.2 843.2,952.1 843.4,949.9 843.5,947.2 843.7,945.5 843.9,944.4 844.0,942.7 844.2,941.3 844.3,940.8 844.5,940.0 844.7,937.7 844.8,934.7 845.0,932.9 845.2,931.6 845.4,930.1 845.7,928.9 845.9,927.3 846.1,925.1 846.3,923.8 846.5,923.2 846.8,920.9 847.0,918.3 847.2,916.8 847.4,914.6 847.7,912.2 847.9,910.4 848.1,909.0 848.6,908.6 849.1,907.5 849.7,904.6 850.2,902.5 850.7,901.4 851.2,900.6 851.8,900.4 852.3,898.5 852.8,895.7 853.6,897.7 854.4,899.9 855.1,900.7 855.9,902.1 856.7,904.8 857.5,907.6 857.8,909.5 858.2,910.8 858.5,912.7 858.9,914.6 859.2,915.5 859.6,916.3 859.9,918.3 860.3,921.2 860.6,923.8 861.1,924.9 861.5,925.4 862.0,926.7 862.4,929.1 862.9,931.2 863.3,932.3 863.8,934.0 864.7,933.7 865.6,931.9 866.6,928.7 867.5,926.7 868.4,925.3 868.9,923.2 869.3,921.8 869.8,921.3 870.3,920.3 870.8,919.1 871.2,917.4 871.7,914.8 872.2,913.0 872.6,911.8 873.1,910.6 873.8,908.8 874.4,906.6 875.1,905.2 875.8,904.2 876.5,902.9 877.1,901.4 877.8,900.1 880.1,900.6 882.5,899.9 883.3,897.5 884.1,896.3 884.9,894.8 885.6,892.9 886.4,891.5 887.2,889.9 887.5,888.8 887.8,888.6 888.0,887.2 888.3,884.9 888.6,883.1 888.9,881.8 889.2,880.7 889.5,878.5 889.7,875.9 890.0,873.7 890.3,871.5 891.4,870.4 892.5,870.2 893.6,869.0 894.7,867.6 895.8,866.8 896.7,868.6 897.7,870.1 898.6,871.7 899.6,872.5 900.5,872.9 900.9,874.3 901.4,875.9 901.8,878.4 902.2,880.0 902.7,880.8 903.1,882.6 903.5,884.3 904.0,886.0 904.4,886.9 904.7,888.1 904.9,890.3 905.2,892.1 905.4,894.0 905.7,895.1 905.9,896.0 906.2,898.5 906.4,900.0 906.7,900.9 907.7,903.0 908.8,905.2 909.8,906.5 911.9,906.9 914.0,907.3 916.1,906.7 917.9,906.4 919.6,906.4 921.4,907.3 923.1,908.8 924.4,908.0 925.6,906.6 926.9,905.7 928.1,903.9 929.4,901.4 931.2,900.8 933.0,900.4 934.8,900.0 936.1,902.5 937.4,904.5 938.7,905.5 940.0,906.6 941.3,908.3 942.6,909.4 943.9,910.1 945.3,909.4 946.7,908.9 948.1,908.4 949.5,908.5 950.9,908.2 952.3,907.4 953.7,906.3 955.2,906.3 956.8,906.4 958.3,907.7 959.9,908.7 961.4,908.6 962.9,908.7 964.5,909.8 966.0,911.9 967.4,911.7 968.8,909.7 970.2,907.5 971.6,907.0 973.0,907.2 974.4,906.4 975.8,904.4 977.4,904.3 979.1,905.7 980.7,905.8 982.3,904.6 984.0,905.3 985.6,906.9 987.2,908.4 988.9,909.4 990.5,908.9 992.1,908.7 993.8,910.1 995.4,911.4 996.9,911.1 998.4,910.2 999.8,909.0 1001.3,909.0 1002.8,908.8 1004.3,907.7 1005.8,907.1 1007.2,906.7 1008.7,904.9 1010.2,903.9 1011.9,906.3 1013.6,907.2 1015.4,906.8 1017.1,907.2 1018.8,907.6 1019.6,909.6 1020.4,912.0 1021.2,912.3 1022.0,912.7 1022.9,915.7 1023.7,918.7 1024.5,920.2 1025.3,920.7 1026.1,921.2 1027.7,920.5 1029.3,920.4 1030.9,919.5 1032.5,917.9 1034.1,916.8 1035.7,916.0 1037.3,914.9 1038.9,915.0 1040.5,915.7 1042.1,914.6 1043.7,914.7 1045.4,915.7 1047.0,915.3 1048.6,915.1 1050.3,915.1 1051.9,913.9 1053.3,913.8 1054.8,915.4 1056.2,917.0 1057.6,917.1 1059.1,917.5 1060.5,918.3 1062.0,917.1 1063.5,916.2 1065.1,915.3 1066.6,914.4 1068.2,914.0 1069.9,913.5 1071.5,914.3 1073.2,915.3 1074.8,916.1 1076.5,917.1 1078.1,918.4 1079.8,918.6 1081.4,918.7 1083.0,919.4 1084.7,919.9 1086.3,920.6 1087.9,921.1 1089.6,920.9 1091.2,920.8 1092.8,921.4 1094.5,922.8 1096.1,923.7 1097.7,923.2 1099.4,923.6 1101.0,925.7 1102.2,924.8 1103.5,923.0 1104.7,922.9 1105.9,922.5 1107.1,919.4 1108.4,917.1 1109.6,916.9 1111.2,917.6 1112.8,917.5 1114.4,917.9 1116.0,918.7 1117.6,919.2 1119.2,919.1 1120.8,918.7 1122.4,918.6 1124.0,919.7 1125.6,920.6 1127.1,921.1 1128.7,921.1 1130.2,922.0 1131.8,923.5 1133.3,924.5 1134.8,925.8 1136.4,926.8 1137.9,926.6 1139.5,925.8 1141.2,926.7 1142.8,927.6 1144.4,927.2 1146.1,926.6 1147.7,926.4 1149.3,925.3 1151.0,924.4 1152.6,925.3 1154.0,926.1 1155.4,925.5 1156.8,926.6 1158.2,928.3 1159.6,929.4 1161.0,929.3 1162.4,929.6 1164.0,930.3 1165.7,931.8 1167.3,933.0 1168.9,932.5 1170.6,930.7 1172.2,930.2 1173.8,931.1 1175.5,931.0 1177.1,930.0 1178.2,930.7 1179.4,931.6 1180.5,933.5 1181.7,935.5 1182.8,937.4 1183.9,938.7 1185.1,938.1 1186.2,938.4 1187.3,940.4 1188.5,942.5 1189.6,944.4 1190.8,945.2 1191.9,946.3 1193.0,945.4 1194.0,944.2 1195.1,942.9 1196.1,940.7 1197.2,938.0 1198.2,936.5 1199.3,936.1 1200.7,935.5 1202.1,933.8 1203.5,932.9 1205.0,933.1 1206.4,932.3 1207.8,931.1 1208.6,931.6 1209.3,932.4 1210.1,934.9 1210.9,938.0 1211.7,940.4 1212.5,941.8 1213.2,942.3 1214.0,943.0 1215.1,942.0 1216.1,941.8 1217.2,940.7 1218.2,939.1 1219.3,938.2 1220.3,937.2 1221.4,935.3 1222.9,936.2 1224.5,937.3 1226.0,938.2 1227.5,939.3 1229.0,938.7 1230.5,938.6 1232.1,941.2 1233.6,942.7 1235.1,940.9 1236.6,940.1 1238.1,940.2 1239.7,940.3 1241.2,940.2 1242.7,939.0 1244.2,937.2 1245.7,936.6 1247.2,936.9 1248.8,935.6 1250.3,934.3 1251.8,935.1 1253.3,935.5 1255.1,934.8 1256.9,933.9 1258.8,932.4 1260.6,931.2 1262.0,932.0 1263.3,932.7 1264.7,934.3 1266.1,936.9 1267.4,938.4 1268.8,937.9 1270.2,937.7 1271.5,938.9 1272.9,940.5 1274.7,940.6 1276.4,940.9 1278.2,941.7 1279.9,941.1 1281.7,941.3 1283.4,943.3 1285.2,943.5 1286.8,942.1 1288.4,941.9 1290.0,942.0 1291.6,941.6 1293.1,941.6 1294.7,941.6 1296.3,941.2 1297.9,940.4 1299.5,939.4 1301.1,938.9 1302.7,938.5 1304.3,938.1 1305.8,938.2 1307.4,938.1 1309.0,938.0 1310.6,939.1 1312.2,940.0 1313.6,939.2 1314.9,938.1 1316.3,940.0 1317.7,942.1 1319.0,942.1 1320.4,942.4 1321.8,944.2 1323.1,944.9 1324.5,945.8 1326.1,946.4 1327.7,946.1 1329.2,947.3 1330.8,948.6 1332.4,948.5 1334.0,948.2 1335.5,948.0 1337.1,948.2 1338.7,949.4 1340.3,950.9 1341.9,951.8 1343.4,951.5 1345.0,950.5 1346.6,949.4 1348.1,947.9 1349.5,949.3 1351.0,950.7 1352.5,949.5 1353.9,947.2 1355.4,944.5 1356.9,943.4 1358.4,945.2 1359.8,945.3 1361.3,943.0 1363.0,941.9 1364.7,941.1 1366.4,940.7 1368.1,940.5 1369.8,940.4 1371.5,940.8 1373.2,940.6 1374.9,939.5 1376.6,939.4 1378.3,940.7 1380.0,940.7 1381.9,940.1 1383.7,940.4 1385.6,940.2 1386.9,937.7 1388.3,936.3 1389.6,935.5 1391.0,934.3 1392.3,933.3 1394.2,933.6 1396.0,933.1 1397.9,932.3 1399.2,933.3 1400.5,934.9 1401.8,936.0 1403.1,937.3 1404.4,938.9 1405.7,940.2 1407.2,939.3 1408.7,938.2 1410.2,937.4 1411.6,936.4 1413.1,935.1 1414.6,935.3 1416.3,936.1 1418.0,934.9 1419.7,933.9 1421.3,934.0 1423.0,934.7 1424.7,936.1 1426.2,935.2 1427.8,933.7 1429.3,932.8 1430.8,931.2 1432.4,930.0 1433.9,928.8 1435.5,927.5 1437.0,927.2 1438.6,928.9 1440.2,929.8 1441.8,930.7 1443.3,932.0 1444.9,933.0 1446.5,934.3 1448.1,935.7 1449.7,934.6 1451.3,932.5 1452.9,932.0 1454.5,933.4 1456.1,933.7 1457.7,932.2 1459.3,931.5 1461.0,932.7 1462.7,933.5 1464.3,933.5 1466.0,933.6 1467.7,935.0 1469.3,936.5 1471.0,937.4 1472.7,938.6 1474.5,938.1 1476.3,936.8 1478.0,935.4 1479.8,934.4 1481.6,934.4 1483.1,935.7 1484.6,936.8 1486.0,938.2 1487.5,938.5 1489.0,937.6 1490.5,938.2 1492.0,939.3 1493.5,939.5 1495.0,937.6 1496.5,936.3 1498.0,935.6 1499.5,934.8 1501.0,934.7 1502.5,935.1 1504.0,936.9 1505.4,938.6 1506.9,940.1 1508.4,941.3 1510.1,939.9 1511.8,937.9 1513.4,936.5 1515.1,935.9 1516.7,936.2 1518.3,936.9 1519.9,937.4 1521.5,936.8 1523.1,937.2 1524.7,938.8 1526.3,939.8 1528.1,939.0 1529.9,938.2 1531.6,937.3 1533.4,936.6 1535.2,936.2 1536.9,937.4 1538.6,938.3 1540.2,938.1 1541.9,937.3 1542.9,939.0 1543.8,941.7 1544.8,943.3 1545.7,943.3 1546.7,942.9 1547.6,945.0 1548.6,947.6 1550.2,947.7 1551.8,948.2 1553.4,948.7 1554.9,949.9 1556.5,951.9 1558.1,951.4 1559.7,950.8 1561.0,952.3 1562.3,953.5 1563.6,954.6 1564.9,955.6 1566.2,955.7 1567.5,956.4 1569.2,958.4 1570.8,959.8 1572.5,958.5 1574.2,956.9 1574.8,958.8 1575.5,961.6 1576.1,963.9 1576.8,964.9 1577.4,965.7 1578.1,967.8 1578.7,970.6 1578.9,972.5 1579.2,973.3 1579.4,973.8 1579.6,974.6 1579.9,976.1 1580.1,978.5 1580.3,980.5 1580.6,982.3 1580.8,984.4 1581.1,985.9 1581.3,986.7 1581.5,987.5 1581.8,988.6 1582.0,991.7 1582.1,994.3 1582.2,994.2 1582.3,995.0 1582.5,997.2 1582.6,998.5 1582.7,1000.0 1582.8,1002.3 1582.9,1004.5 1583.0,1006.6 1583.2,1008.7 1583.3,1010.7 1583.4,1011.9 1583.5,1012.7 1583.6,1014.8 1583.7,1017.0 1583.8,1017.9 1584.0,1019.4 1584.1,1021.8 1584.2,1023.8 1584.3,1025.1 1584.5,1026.8 1584.7,1028.3 1584.9,1030.5 1585.1,1033.0 1585.3,1033.8 1585.5,1034.7 1585.7,1036.2 1585.9,1036.6 1586.1,1037.6 1586.3,1040.9 1586.5,1043.5 1586.6,1044.2 1586.8,1045.5 1587.0,1046.9 1587.2,1048.0 1587.4,1050.4 1587.6,1053.5 1587.8,1055.0 1588.0,1055.6 1588.2,1057.5 1588.4,1059.8 1588.6,1061.5 1588.8,1062.9 1589.2,1064.3 1589.6,1066.2 1590.0,1067.5 1590.4,1068.2 1590.7,1069.4 1591.1,1072.0 1591.5,1074.5 1591.9,1075.4 1592.3,1076.3 1592.7,1077.6 1593.1,1079.1 1593.5,1081.9 1593.8,1084.4 1594.2,1085.2 1594.6,1085.6 1595.0,1087.4 1595.4,1089.1 1596.1,1090.7 1596.7,1092.5 1597.4,1093.6 1598.1,1095.5 1598.8,1097.8 1599.4,1099.4 1600.1,1101.4 1600.8,1102.6 1601.4,1102.9 1602.1,1104.1 1602.3,1105.6 1602.6,1107.5 1602.8,1110.3 1603.0,1112.8 1603.3,1114.4 1603.5,1115.8 1603.8,1117.4 1604.0,1119.5 1604.2,1121.2 1604.5,1121.5 1604.7,1122.8 1604.9,1125.2 1605.2,1126.3 1605.4,1127.0 1605.7,1129.4 1605.9,1132.1 1606.1,1133.8 1606.4,1136.1 1606.6,1138.1 1606.8,1138.4 1607.0,1138.6 1607.2,1140.2 1607.5,1142.1 1607.7,1144.0 1607.9,1147.2 1608.1,1149.6 1608.3,1150.3 1608.5,1151.3 1608.7,1153.2 1609.0,1154.6 1609.2,1156.2 1609.4,1157.7 1609.6,1159.3 1609.8,1161.6 1610.0,1163.4 1610.2,1164.5 1610.5,1165.8 1610.7,1167.7 1610.9,1168.7 1611.1,1169.6 1611.3,1171.1 1611.5,1172.9 1611.6,1174.8 1611.8,1176.9 1612.0,1179.0 1612.2,1180.6 1612.3,1182.6 1612.5,1184.1 1612.7,1185.2 1612.9,1186.9 1613.0,1187.8 1613.2,1187.9 1613.4,1189.5 1613.6,1191.9 1613.7,1194.5 1613.9,1196.6 1614.1,1197.8 1614.3,1198.8 1614.4,1199.8 1614.6,1201.4 1614.8,1203.9 1615.0,1206.3 1615.1,1207.7 1615.3,1208.8 1615.5,1210.1 1615.8,1212.0 1616.1,1213.2 1616.5,1214.7 1616.8,1216.0 1617.1,1217.5 1617.4,1219.6 1617.8,1220.0 1618.1,1221.4 1618.4,1224.7 1618.7,1227.3 1619.0,1228.5 1619.4,1228.9 1619.7,1230.4 1620.0,1233.1 1620.5,1235.1 1621.0,1237.1 1621.4,1238.8 1621.9,1239.3 1622.4,1239.4 1622.9,1240.6 1623.3,1243.1 1623.8,1245.3 1624.3,1246.9 1624.8,1249.5 1625.3,1251.3 1625.7,1251.9 1626.2,1252.9 1626.7,1254.7 1628.0,1255.7 1629.4,1256.9 1630.7,1258.3 1632.1,1258.9 1633.4,1260.2 1634.7,1260.0 1636.1,1257.8 1637.4,1255.6 1638.8,1254.9 1640.1,1254.3 1640.4,1253.7 1640.8,1252.6 1641.1,1250.2 1641.4,1249.1 1641.7,1248.0 1642.1,1245.0 1642.4,1242.8 1642.7,1241.4 1643.1,1240.1 1643.4,1239.0 1643.7,1238.0 1644.1,1237.0 1644.4,1235.6 1644.7,1233.7 1645.0,1230.9 1645.4,1228.8 1645.7,1228.3 1646.0,1227.2 1646.3,1225.3 1646.6,1223.0 1646.9,1220.7 1647.2,1218.4 1647.5,1216.9 1647.8,1215.8 1648.0,1214.0 1648.3,1213.1 1648.6,1211.7 1648.9,1209.3 1649.2,1208.3 1649.5,1207.1 1649.8,1205.1 1650.1,1204.4 1650.7,1203.1 1651.3,1200.5 1652.0,1199.2 1652.6,1198.4 1653.2,1196.7 1653.8,1194.4 1654.5,1193.2 1655.1,1193.3 1655.7,1192.4 1657.0,1192.9 1658.4,1193.4 1659.7,1194.2 1661.1,1195.8 1662.4,1197.8 1663.1,1196.5 1663.9,1194.9 1664.6,1193.2 1665.4,1191.2 1666.1,1189.3 1666.9,1187.9 1667.6,1186.4 1668.4,1184.7 1669.1,1183.1 1669.4,1180.4 1669.7,1178.9 1670.0,1179.0 1670.3,1177.2 1670.6,1174.9 1670.9,1173.9 1671.2,1172.0 1671.5,1169.0 1671.8,1167.9 1672.1,1168.1 1672.4,1167.2 1672.8,1165.5 1673.1,1164.1 1673.4,1162.2 1673.7,1158.8 1674.0,1156.8 1674.3,1156.3 1674.6,1155.3 1674.9,1153.5 1675.2,1150.9 1675.5,1149.4 1675.8,1147.6 1676.0,1145.3 1676.1,1144.7 1676.3,1143.1 1676.4,1140.7 1676.6,1140.2 1676.8,1139.0 1676.9,1135.7 1677.1,1133.1 1677.2,1132.9 1677.4,1132.4 1677.6,1130.8 1677.7,1129.5 1677.9,1127.1 1678.0,1124.8 1678.2,1123.6 1678.4,1122.2 1678.5,1120.3 1678.7,1119.4 1678.9,1117.6 1679.0,1114.7 1679.2,1114.1 1679.3,1113.5 1679.5,1111.8 1679.7,1110.4 1679.8,1108.3 1680.0,1106.5 1680.1,1105.9 1680.3,1104.1 1680.5,1101.3 1680.7,1098.6 1680.9,1096.1 1681.1,1095.1 1681.3,1094.7 1681.5,1092.6 1681.7,1090.0 1681.9,1088.6 1682.2,1087.3 1682.4,1085.3 1682.6,1083.7 1682.8,1082.5 1683.0,1081.2 1683.2,1079.3 1683.4,1077.1 1683.6,1076.2 1683.8,1075.9 1684.1,1073.6 1684.3,1070.6 1684.6,1069.1 1684.8,1068.2 1685.1,1066.2 1685.3,1064.1 1685.6,1063.3 1685.8,1062.4 1686.1,1060.3 1686.3,1058.4 1686.6,1057.0 1686.8,1054.9 1687.1,1053.8 1687.3,1053.0 1687.6,1051.1 1687.8,1048.8 1688.1,1046.6 1688.5,1045.0 1689.0,1042.8 1689.4,1041.4 1689.9,1041.4 1690.3,1039.9 1690.8,1037.4 1691.2,1034.7 1691.7,1034.0 1692.1,1034.4 1692.6,1032.5 1693.0,1029.4 1693.5,1027.9 1693.9,1027.5 1694.4,1025.8 1694.8,1024.3 1695.8,1023.1 1696.8,1020.6 1697.7,1018.9 1698.7,1017.5 1699.7,1015.5 1700.6,1014.1 1701.6,1013.3 1702.6,1011.5 1703.3,1009.8 1703.9,1008.8 1704.6,1007.0 1705.3,1005.4 1705.9,1004.1 1706.6,1002.4 1707.3,1000.3 1708.0,998.9 1708.6,998.0 1709.3,995.8 1709.8,994.3 1710.3,993.5 1710.7,991.7 1711.2,990.1 1711.7,989.4 1712.2,988.1 1712.7,986.2 1713.1,984.6 1713.6,981.7 1714.1,979.4 1714.6,978.8 1715.0,976.8 1715.5,973.9 1716.0,973.3 1717.5,974.6 1719.0,975.1 1720.4,977.3 1721.8,978.2 1723.3,977.3 1724.7,977.7 1726.3,977.9 1727.9,977.0 1729.5,975.7 1731.0,976.2 1732.6,976.8 1734.2,976.3 1735.5,976.4 1736.8,976.4 1738.2,977.6 1739.5,979.0 1740.8,979.9 1741.5,982.1 1742.3,984.7 1743.0,986.0 1743.7,987.2 1744.5,988.9 1745.2,990.3 1745.9,991.7 1746.7,993.1 1747.4,994.3 1747.7,995.6 1747.9,997.1 1748.2,998.7 1748.4,1000.5 1748.7,1003.0 1748.9,1005.6 1749.2,1008.0 1749.4,1009.6 1749.7,1010.3 1749.9,1012.3 1750.2,1014.8 1750.4,1016.4 1750.7,1017.5 1750.9,1017.2 1751.2,1018.3 1751.4,1021.7 1751.7,1023.0 1751.9,1022.9 1752.2,1025.4 1752.4,1028.8 1752.6,1030.4 1752.9,1030.7 1753.1,1031.0 1753.3,1033.3 1753.6,1036.3 1753.8,1038.0 1754.0,1039.8 1754.3,1041.7 1754.5,1042.3 1754.8,1042.9 1755.0,1045.3 1755.2,1047.9 1755.4,1049.6 1755.5,1051.8 1755.7,1053.5 1755.9,1054.5 1756.1,1056.2 1756.3,1057.6 1756.4,1057.6 1756.6,1058.8 1756.8,1062.1 1757.0,1064.4 1757.2,1065.5 1757.4,1066.9 1757.5,1068.5 1757.7,1070.3 1757.9,1072.1 1758.1,1073.6 1758.3,1075.6 1758.4,1078.2 1758.6,1079.9 1758.8,1081.2 1759.0,1082.3 1759.3,1084.0 1759.5,1086.8 1759.8,1088.3 1760.0,1088.8 1760.2,1090.2 1760.5,1092.0 1760.7,1093.3 1760.9,1095.5 1761.2,1097.5 1761.4,1098.7 1761.6,1100.5 1761.9,1102.2 1762.1,1103.7 1762.4,1105.5 1762.6,1106.8 1763.1,1108.6 1763.6,1111.1 1764.2,1114.0 1764.7,1115.4 1765.2,1115.4 1765.7,1116.0 1766.2,1118.4 1766.7,1121.3 1767.3,1122.7 1767.8,1123.0 1768.3,1124.4 1769.5,1123.8 1770.7,1122.7 1771.9,1121.2 1773.1,1119.9 1774.7,1119.3 1776.2,1119.0 1777.8,1117.6 1779.2,1118.4 1780.5,1119.5 1781.9,1119.8 1783.2,1121.7 1784.6,1123.2 1785.9,1123.6 1787.3,1124.8 1788.1,1123.6 1788.9,1121.8 1789.7,1119.6 1790.6,1118.0 1791.4,1117.7 1792.2,1117.7 1793.0,1116.6 1793.3,1115.0 1793.6,1113.6 1794.0,1110.3 1794.3,1107.1 1794.6,1106.4 1794.9,1106.0 1795.2,1103.9 1795.5,1100.8 1795.8,1099.5 1796.2,1099.6 1796.5,1098.1 1796.8,1095.8 1797.2,1093.9 1797.7,1092.6 1798.1,1091.5 1798.6,1089.0 1799.0,1086.1 1799.4,1085.4 1799.9,1085.1 1800.3,1081.9 1800.7,1078.7 1801.2,1078.6 1801.6,1078.7 1802.1,1077.8 1802.5,1077.0 1804.1,1075.6 1805.6,1072.5 1807.2,1069.7 1808.4,1071.2 1809.6,1072.9 1810.8,1074.2 1812.0,1075.8 1813.0,1078.4 1813.9,1080.8 1814.8,1081.3 1815.8,1082.1 1816.8,1084.7 1817.7,1087.1 1819.6,1086.6 1821.5,1085.6 1823.4,1085.9 1825.3,1087.1 1827.2,1087.2 1828.7,1087.7 1830.2,1088.5 1831.8,1090.3 1833.3,1092.1 1834.8,1093.1 1835.9,1093.3 1836.9,1094.4 1838.0,1096.8 1839.1,1097.8 1840.2,1097.5 1841.2,1098.9 1842.3,1101.1 1844.2,1102.1 1846.1,1102.4 1848.0,1103.6 1849.0,1103.5 1849.9,1102.7 1850.8,1101.2 1851.8,1099.4 1852.8,1097.2 1853.7,1095.4 1854.7,1094.3 1855.6,1092.9 1856.6,1090.3 1857.5,1088.7 1858.5,1088.5 1859.4,1087.3 1860.4,1086.4 1861.3,1088.6 1862.3,1089.1 1863.2,1089.6 1864.2,1090.8 1865.1,1091.9 1866.1,1094.6 1867.0,1096.3 1868.0,1097.0 1868.9,1098.4 1869.9,1099.6 1870.8,1100.6 1871.8,1101.3 1872.7,1102.0 1873.7,1103.6 1874.3,1105.2 1874.8,1106.7 1875.4,1109.3 1876.0,1112.0 1876.6,1113.6 1877.1,1114.7 1877.7,1116.3 1878.3,1117.5 1878.8,1118.3 1879.4,1120.3 1880.3,1122.2 1881.3,1123.0 1882.2,1124.0 1883.1,1125.6 1884.1,1127.3 1885.0,1129.2 1886.9,1129.8 1888.8,1130.1 1890.7,1130.0 1891.8,1128.8 1892.9,1127.9 1894.1,1127.0 1895.2,1125.3 1896.3,1123.2 1897.4,1121.9 1898.2,1120.6 1899.0,1118.3 1899.8,1116.4 1900.7,1115.6 1901.5,1114.5 1902.3,1112.6 1903.1,1110.1 1903.5,1109.2 1903.9,1108.9 1904.4,1106.9 1904.8,1104.4 1905.2,1101.7 1905.6,1099.7 1906.1,1098.7 1906.5,1097.0 1906.9,1095.1 1907.4,1093.8 1908.0,1092.4 1908.5,1090.4 1909.1,1088.8 1909.6,1087.3 1910.2,1085.0 1910.7,1083.7 1912.0,1083.1 1913.2,1081.2 1914.5,1079.5 1915.8,1079.2 1917.0,1078.1 1918.3,1076.1 1919.6,1077.1 1920.9,1077.9 1922.3,1078.8 1923.6,1080.0 1924.9,1081.3 1925.8,1083.4 1926.8,1085.5 1927.7,1086.9 1928.7,1087.5 1929.6,1088.4 1930.7,1087.2 1931.9,1085.9 1933.0,1084.8 1934.2,1083.8 1935.3,1082.8 1936.1,1081.0 1936.9,1078.7 1937.7,1076.9 1938.6,1076.6 1939.4,1076.4 1940.2,1073.9 1941.0,1070.9 1942.2,1069.7 1943.4,1068.6 1944.6,1067.9 1945.8,1066.6 1946.7,1067.1 1947.7,1068.7 1948.6,1071.2 1949.6,1073.3 1950.5,1074.7 1950.8,1075.5 1951.0,1076.3 1951.3,1077.2 1951.5,1078.0 1951.8,1079.4 1952.0,1081.6 1952.3,1085.2 1952.5,1087.9 1952.8,1088.3 1953.0,1088.6 1953.3,1090.5 1953.5,1093.1 1953.8,1095.0 1954.0,1096.2 1954.3,1097.8 1954.4,1099.8 1954.6,1101.4 1954.7,1102.0 1954.9,1103.5 1955.0,1104.9 1955.2,1105.8 1955.3,1107.7 1955.5,1110.6 1955.6,1113.5 1955.8,1114.5 1955.9,1115.2 1956.0,1117.8 1956.2,1120.0 1956.3,1122.0 1956.5,1124.0 1956.6,1124.7 1956.8,1125.2 1956.9,1126.2 1957.1,1127.1 1957.2,1128.6 1957.4,1130.7 1957.5,1132.9 1957.7,1135.3 1957.9,1137.4 1958.0,1138.2 1958.2,1138.9 1958.4,1140.6 1958.5,1143.0 1958.7,1144.4 1958.8,1145.2 1959.0,1146.2 1959.2,1148.4 1959.3,1151.2 1959.5,1153.4 1959.7,1154.7 1959.8,1156.2 1960.0,1158.4 1960.2,1160.5 1960.4,1162.6 1960.6,1163.9 1960.8,1165.1 1961.0,1167.1 1961.2,1168.6 1961.4,1169.1 1961.5,1171.1 1961.7,1174.4 1961.9,1177.4 1962.1,1179.1 1962.3,1178.7 1962.5,1179.2 1962.7,1181.2 1962.9,1182.7 1963.4,1184.3 1963.9,1185.8 1964.5,1188.0 1965.0,1190.6 1965.5,1192.1 1966.0,1193.3 1966.6,1194.3 1967.1,1195.6 1967.6,1198.0 1968.4,1200.0 1969.2,1201.5 1970.0,1203.0 1970.9,1204.3 1971.7,1206.5 1972.5,1209.0 1973.3,1210.1 1974.4,1211.1 1975.6,1212.7 1976.7,1213.5 1977.9,1214.8 1979.0,1217.6 1979.6,1219.7 1980.2,1220.5 1980.8,1221.3 1981.3,1223.0 1981.9,1225.1 1982.5,1227.4 1983.1,1230.2 1983.7,1232.0 1984.8,1231.6 1986.0,1232.0 1987.1,1233.5 1988.3,1234.8 1989.4,1236.1 1990.5,1234.5 1991.6,1232.0 1992.8,1230.2 1993.9,1229.7 1995.0,1228.7 1996.1,1227.4 1996.6,1226.0 1997.1,1224.7 1997.7,1222.8 1998.2,1221.2 1998.7,1220.2 1999.2,1219.1 1999.7,1217.9 2000.2,1216.7 2000.8,1215.3 2001.3,1213.7 2001.8,1212.2 2002.3,1210.1 2002.8,1208.3 2003.4,1207.2 2003.9,1205.5 2004.4,1204.1 2004.9,1202.7 2005.4,1201.4 2005.9,1200.0 2006.5,1196.9 2007.0,1195.4 2007.5,1195.5 2008.1,1193.5 2008.6,1191.4 2009.2,1189.4 2009.8,1188.1 2010.3,1187.7 2010.9,1185.8 2011.5,1183.5 2012.1,1181.8 2012.6,1180.3 2013.2,1178.9 2013.6,1177.1 2014.1,1175.3 2014.5,1174.0 2014.9,1173.1 2015.4,1171.7 2015.8,1169.4 2016.2,1167.3 2016.6,1166.1 2017.1,1164.7 2017.5,1162.7 2017.9,1160.3 2018.4,1158.1 2018.8,1157.1 2019.3,1156.4 2019.8,1154.8 2020.2,1153.5 2020.7,1152.6 2021.2,1150.9 2021.7,1148.6 2022.1,1147.4 2022.6,1146.2 2023.1,1143.2 2023.5,1141.0 2024.0,1140.0 2024.5,1138.3 2025.5,1136.4 2026.4,1134.8 2027.3,1134.1 2028.3,1133.5 2029.2,1133.0 2030.2,1131.6 2030.6,1128.9 2031.0,1126.5 2031.4,1124.6 2031.8,1122.3 2032.2,1120.3 2032.6,1119.2 2033.0,1118.1 2033.4,1117.0 2033.8,1116.1 2034.2,1113.5 2034.6,1110.5 2035.0,1109.1 2035.3,1108.2 2035.5,1106.5 2035.8,1105.3 2036.0,1104.9 2036.3,1103.3 2036.6,1101.4 2036.8,1099.9 2037.1,1097.9 2037.3,1096.1 2037.6,1095.2 2037.9,1094.5 2038.1,1092.6 2038.4,1090.0 2038.7,1088.2 2038.9,1086.7 2039.2,1085.0 2039.4,1083.1 2039.7,1081.6 2040.0,1080.5 2040.3,1079.5 2040.6,1078.4 2040.9,1076.6 2041.2,1074.9 2041.5,1073.5 2041.7,1071.0 2042.0,1068.1 2042.3,1066.6 2042.6,1065.5 2042.9,1064.6 2043.2,1063.4 2043.5,1061.8 2044.1,1060.6 2044.8,1059.1 2045.4,1056.3 2046.0,1054.4 2046.7,1053.9 2047.3,1052.9 2047.9,1051.3 2048.6,1049.2 2049.2,1046.4 2050.0,1044.2 2050.8,1043.3 2051.6,1043.0 2052.5,1043.0 2053.3,1041.6 2054.1,1039.2 2054.9,1037.0 2055.8,1035.2 2056.6,1032.9 2057.4,1030.3 2058.3,1029.6 2059.2,1030.0 2060.0,1028.1 2061.1,1025.1 2062.2,1023.3 2063.3,1022.7 2064.4,1022.2 2065.5,1020.8 2066.6,1019.0 2068.2,1018.1 2069.7,1017.2 2071.3,1016.5 2072.6,1018.0 2074.0,1018.3 2075.3,1019.4 2076.7,1021.8 2078.0,1023.5 2078.8,1021.6 2079.5,1019.7 2080.2,1018.0 2081.0,1016.6 2081.8,1015.5 2082.5,1013.7 2083.2,1011.5 2084.0,1010.2 2084.8,1009.3 2085.5,1008.3 2087.4,1008.9 2089.3,1008.3 2091.2,1007.2 2092.5,1008.3 2093.7,1009.1 2095.0,1010.1 2095.6,1008.9 2096.1,1007.7 2096.7,1006.5 2097.3,1005.3 2097.8,1004.0 2098.4,1001.9 2099.0,999.5 2099.6,998.8 2100.1,998.7 2100.7,997.4 2101.5,995.3 2102.3,993.5 2103.1,991.5 2104.0,988.7 2104.8,986.9 2105.6,985.8 2106.4,983.5 2108.3,982.3 2110.2,981.8 2112.1,981.7 2113.2,981.5 2114.4,980.9 2115.5,978.9 2116.7,976.5 2117.8,975.2 2118.9,973.6 2120.1,971.4 2121.2,970.3 2122.4,970.2 2123.5,970.3 2124.6,972.5 2125.8,973.6 2126.9,974.1 2128.1,974.4 2129.2,975.7 2129.6,978.1 2130.0,979.2 2130.3,981.7 2130.7,984.8 2131.1,984.7 2131.5,985.1 2131.9,988.2 2132.2,989.8 2132.6,990.8 2133.0,992.9 2133.4,994.5 2133.8,996.2 2134.3,998.3 2134.7,1000.5 2135.1,1002.4 2135.5,1004.2 2136.0,1006.4 2136.4,1008.1 2136.8,1009.4 2137.9,1009.9 2139.0,1010.3 2140.1,1012.1 2141.1,1014.3 2142.2,1015.1 2143.3,1015.8 2144.4,1017.5 2146.3,1018.4 2148.2,1018.4 2149.6,1017.4 2151.1,1016.7 2152.5,1015.9 2153.9,1015.4 2155.0,1017.1 2156.2,1017.9 2157.3,1018.6 2158.5,1019.5 2159.6,1020.9 2160.0,1023.6 2160.4,1026.2 2160.7,1028.6 2161.1,1030.1 2161.5,1030.8 2161.9,1032.0 2162.3,1034.0 2162.6,1035.9 2163.0,1037.1 2163.4,1039.1 2163.7,1041.2 2164.0,1042.4 2164.3,1044.3 2164.6,1046.0 2164.9,1047.4 2165.2,1048.5 2165.4,1049.0 2165.7,1050.9 2166.0,1053.2 2166.3,1055.3 2166.6,1057.8 2166.9,1060.2 2167.2,1061.5 2167.5,1062.0 2167.8,1063.8 2168.1,1065.6 2168.4,1066.8 2168.7,1068.9 2169.0,1070.4 2169.2,1071.2 2169.5,1073.4 2169.8,1075.7 2170.1,1077.1 2170.4,1079.0 2170.7,1081.1 2171.0,1082.6 2171.5,1082.6 2172.0,1082.4 2172.5,1084.5 2173.0,1087.1 2173.5,1088.9 2174.1,1090.7 2174.6,1091.7 2175.1,1092.4 2175.6,1093.6 2176.1,1094.8 2176.6,1096.6 2177.6,1098.9 2178.5,1100.4 2179.5,1101.6 2180.4,1102.7 2181.4,1104.3 2183.1,1104.5 2184.7,1103.7 2186.3,1101.8 2188.0,1101.0 2189.9,1101.8 2191.8,1102.4 2193.7,1102.3 2194.3,1100.5 2195.0,1098.2 2195.6,1095.9 2196.2,1093.9 2196.9,1091.8 2197.5,1090.2 2198.1,1088.8 2198.7,1087.0 2199.3,1085.3 2199.9,1084.5 2200.5,1083.6 2201.1,1081.6 2201.7,1079.2 2202.3,1077.0 2202.9,1075.8 2203.6,1074.8 2204.2,1073.0 2204.8,1071.2 2205.5,1069.3 2206.1,1066.6 2207.0,1066.9 2208.0,1067.8 2208.9,1069.2 2209.9,1071.0 2210.8,1072.8 2211.2,1074.9 2211.6,1077.8 2212.0,1079.8 2212.5,1080.6 2212.9,1082.4 2213.3,1084.2 2213.7,1085.3 2214.8,1086.5 2216.0,1088.3 2217.1,1090.0 2218.3,1092.0 2219.4,1093.1 2220.2,1090.5 2221.0,1089.8 2221.8,1088.3 2222.5,1085.4 2223.3,1083.9 2224.1,1083.0 2225.2,1084.8 2226.4,1086.3 2227.5,1087.8 2228.7,1089.8 2229.8,1091.2 2230.3,1093.0 2230.9,1094.8 2231.4,1095.0 2232.0,1095.3 2232.5,1097.0 2233.1,1099.7 2233.6,1102.6 2234.2,1104.7 2234.9,1106.1 2235.5,1106.4 2236.1,1107.0 2236.8,1109.1 2237.4,1110.5 2238.0,1112.2 2238.7,1115.2 2239.3,1117.0 2240.4,1115.3 2241.6,1114.4 2242.7,1112.8 2243.9,1110.4 2245.0,1108.9 2247.3,1109.7 2249.7,1110.5 2250.4,1111.7 2251.0,1113.0 2251.7,1115.1 2252.4,1116.7 2253.1,1118.5 2253.7,1120.2 2254.4,1121.0 2255.1,1121.8 2255.7,1123.3 2256.4,1125.3 2257.3,1126.6 2258.3,1127.1 2259.2,1128.4 2260.2,1130.5 2261.2,1131.9 2262.1,1133.5 2263.1,1135.8 2264.0,1136.9 2264.4,1137.1 2264.8,1137.9 2265.2,1140.4 2265.6,1143.2 2266.1,1145.1 2266.5,1146.7 2266.9,1148.8 2267.3,1150.8 2267.7,1151.7 2268.1,1152.3 2268.5,1154.1 2268.9,1157.0 2269.3,1158.0 2269.7,1157.8 2270.1,1159.6 2270.5,1162.5 2270.9,1164.7 2271.3,1167.2 2271.7,1169.0 2272.1,1169.1 2272.5,1169.4 2273.0,1171.2 2273.4,1173.9 2273.9,1175.8 2274.4,1175.7 2274.9,1176.9 2275.4,1180.4 2275.8,1182.1 2276.3,1182.5 2277.5,1181.5 2278.7,1180.2 2279.8,1178.1 2281.0,1177.1 2281.8,1176.1 2282.6,1174.6 2283.4,1172.9 2284.3,1171.5 2285.1,1169.6 2285.9,1168.1 2286.7,1167.6 2288.2,1168.4 2289.7,1168.0 2291.3,1168.5 2292.8,1169.9 2294.3,1170.0 2296.2,1167.8 2298.1,1167.1 2300.0,1166.8 2300.4,1165.3 2300.7,1165.2 2301.1,1164.2 2301.4,1161.6 2301.8,1160.3 2302.2,1159.5 2302.5,1158.2 2302.9,1156.9 2303.7,1155.5 2304.5,1152.9 2305.3,1150.2 2306.2,1148.6 2307.0,1146.5 2307.8,1144.2 2308.6,1143.5 2310.2,1145.3 2311.7,1145.8 2313.3,1146.4 2313.8,1145.0 2314.2,1143.5 2314.7,1141.6 2315.2,1139.5 2315.7,1138.5 2316.2,1137.1 2316.6,1134.9 2317.1,1133.8 2318.1,1133.2 2319.0,1132.4 2319.9,1131.1 2320.9,1128.7 2321.9,1126.2 2322.8,1124.6 2324.2,1124.4 2325.7,1123.6 2327.1,1122.0 2328.5,1121.0 2329.8,1122.3 2331.1,1122.7 2332.5,1123.5 2333.8,1126.0 2335.1,1127.5 2335.6,1124.6 2336.2,1122.8 2336.7,1121.8 2337.3,1121.0 2337.8,1120.1 2338.4,1117.3 2338.9,1114.5 2339.3,1113.5 2339.8,1111.9 2340.2,1110.7 2340.6,1110.4 2341.1,1108.1 2341.5,1105.3 2342.0,1104.1 2342.4,1102.5 2342.8,1100.6 2343.3,1099.7 2343.7,1098.2 2344.4,1099.8 2345.0,1100.8 2345.7,1101.8 2346.4,1103.8 2347.1,1104.8 2347.7,1105.4 2348.4,1107.3 2348.7,1109.7 2349.0,1111.4 2349.3,1111.9 2349.6,1113.1 2349.9,1115.5 2350.2,1117.8 2350.4,1120.6 2350.7,1122.0 2351.0,1121.7 2351.3,1123.5 2351.6,1126.7 2351.9,1128.2 2352.2,1128.8 2352.5,1130.3 2352.7,1132.0 2353.0,1133.4 2353.2,1134.9 2353.5,1137.2 2353.7,1139.2 2354.0,1140.3 2354.2,1142.6 2354.5,1145.6 2354.7,1146.9 2355.0,1147.2 2356.1,1147.6 2357.3,1149.1 2358.4,1151.1 2359.6,1153.2 2360.7,1154.4 2361.0,1155.4 2361.2,1157.2 2361.5,1159.7 2361.8,1161.5 2362.1,1161.6 2362.3,1162.5 2362.6,1165.6 2362.9,1167.1 2363.1,1167.3 2363.4,1169.5 2363.7,1172.6 2364.0,1174.1 2364.2,1174.2 2364.5,1175.9 2364.7,1178.8 2364.8,1180.5 2365.0,1181.5 2365.2,1183.4 2365.4,1185.1 2365.5,1185.6 2365.7,1187.0 2365.9,1189.8 2366.0,1192.1 2366.2,1194.1 2366.4,1195.8 2366.5,1196.5 2366.7,1197.5 2366.9,1199.6 2367.1,1201.0 2367.2,1202.2 2367.4,1204.1 2367.6,1207.0 2367.8,1209.3 2368.0,1209.6 2368.2,1210.5 2368.5,1212.2 2368.7,1213.7 2368.9,1215.8 2369.1,1217.6 2369.3,1218.9" fill="none" stroke="#00ff00" stroke-width="9" stroke-linejoin="round" stroke-linecap="round" shape-rendering="crispEdges"/>
<polyline points="183.0,466.3 184.7,468.0 186.3,469.1 188.0,469.2 189.6,470.4 191.3,472.0 192.0,470.5 192.8,468.0 193.5,465.4 194.3,464.6 195.0,464.0 195.8,462.2 196.5,460.2 197.3,458.3 198.0,456.6 198.5,454.5 199.0,452.4 199.5,451.4 200.1,450.9 200.6,449.3 201.1,446.5 201.6,444.5 202.1,443.6 202.6,442.1 203.2,440.7 203.7,439.1 204.2,437.0 204.7,435.7 206.6,435.8 208.5,435.1 209.0,436.9 209.5,439.9 210.0,441.7 210.5,442.6 211.0,443.9 211.5,444.7 212.0,446.0 212.5,448.4 213.0,450.2 213.5,452.5 214.0,454.2 214.5,454.6 215.0,455.6 215.5,457.0 216.0,458.9 216.5,461.2 217.0,463.0 217.5,465.3 218.0,467.2 218.6,465.2 219.3,464.0 219.9,461.9 220.6,459.1 221.2,458.4 221.8,458.4 222.5,456.5 223.1,454.6 223.8,454.0 224.4,452.6 225.0,450.4 225.7,448.0 226.3,446.2 226.9,445.5 227.6,444.0 228.2,441.6 228.9,440.2 229.5,439.1 230.1,437.0 230.8,434.8 231.4,432.9 232.1,431.0 232.7,430.6 233.7,434.1 234.8,435.4 235.8,435.6 236.9,436.7 237.9,438.0 239.0,438.6 240.0,439.5 240.5,441.2 241.0,443.2 241.4,445.8 241.9,447.7 242.4,449.2 242.9,451.0 243.4,452.3 243.8,454.2 244.3,456.5 244.8,458.1 245.3,458.8 245.8,459.8 246.2,461.5 246.7,463.1 247.2,464.0 247.7,464.5 248.2,466.0 248.6,468.4 249.1,470.4 249.6,472.2 250.1,474.0 250.6,475.6 251.0,477.0 251.5,478.9 252.0,480.2 252.6,477.4 253.1,476.5 253.7,476.3 254.2,474.1 254.8,471.8 255.4,470.5 255.9,469.2 256.5,467.2 257.0,465.5 257.6,464.6 258.2,463.5 258.7,462.1 259.3,460.9 259.8,459.1 260.4,456.8 261.0,455.3 261.5,454.0 262.1,452.5 262.6,451.1 263.2,449.2 263.8,447.2 264.3,446.3 264.9,445.1 265.4,442.8 266.0,441.6 267.1,444.2 268.1,444.9 269.2,445.8 270.3,448.2 271.4,449.6 272.5,450.1 273.5,450.8 274.6,451.4 275.2,452.7 275.8,455.2 276.4,457.9 277.0,459.8 277.6,461.4 278.2,463.0 278.8,464.2 279.4,464.3 280.0,464.8 280.6,464.5 281.2,464.4 281.9,462.7 282.5,460.5 283.1,458.8 283.8,456.9 284.4,454.6 285.0,452.9 285.6,451.5 286.2,449.7 286.9,448.5 287.5,447.9 288.2,446.8 288.9,445.5 289.5,444.2 290.2,442.8 290.9,441.3 291.6,439.2 292.3,436.9 293.0,435.2 293.6,434.4 294.3,433.2 295.0,432.1 298.0,432.9 298.5,433.9 299.0,435.3 299.5,437.3 300.0,439.4 300.5,441.8 301.0,443.2 301.5,444.1 302.9,442.7 304.3,440.8 305.7,438.4 306.5,439.7 307.3,441.4 308.0,443.3 308.8,445.7 309.6,447.8 310.4,449.0 311.1,450.4 311.9,451.9 312.7,453.6 313.5,452.0 314.3,449.9 315.1,447.8 316.0,446.1 316.8,444.9 317.6,443.6 318.2,442.2 318.8,441.1 319.3,440.3 319.9,439.5 320.5,436.4 321.1,433.2 321.6,432.3 322.2,431.3 322.8,428.8 323.4,427.1 323.9,427.6 324.5,426.6 325.0,426.4 325.5,427.9 326.0,430.1 326.5,431.5 327.0,434.1 327.5,436.4 328.0,437.1 328.5,438.6 329.0,441.7 329.5,443.0 330.0,442.9 330.5,443.6 330.9,445.2 331.4,447.3 331.8,449.1 332.3,450.3 332.7,452.3 333.2,454.4 333.6,455.0 334.1,456.7 334.5,459.5 334.9,460.5 335.4,461.0 335.8,462.6 336.3,464.9 336.7,467.5 337.2,469.5 337.6,471.3 338.1,472.7 338.5,474.0 339.3,472.9 340.0,470.9 340.8,468.5 341.5,466.9 342.3,465.9 343.0,465.8 343.8,464.6 344.5,462.0 345.3,460.2 346.0,459.7 346.8,459.1 347.5,457.7 348.3,455.3 349.0,453.1 349.8,451.5 350.7,452.5 351.7,454.0 352.6,455.7 353.6,456.5 354.5,457.3 355.4,458.7 356.4,460.2 357.3,461.5 357.8,463.4 358.2,465.9 358.7,467.6 359.1,468.9 359.6,470.1 360.0,471.6 360.5,474.4 360.9,475.9 361.4,476.2 361.8,477.2 362.3,478.4 362.7,480.1 363.2,482.8 363.7,482.2 364.3,481.4 364.8,479.8 365.4,476.9 365.9,475.3 366.4,474.5 367.0,472.4 367.5,471.7 368.0,470.6 368.6,467.7 369.1,465.7 369.7,464.7 370.2,463.8 371.0,465.0 371.8,465.3 372.6,465.9 373.4,467.4 374.3,469.7 375.1,471.5 375.9,472.5 376.7,474.9 377.6,477.3 378.5,478.2 379.4,479.4 380.4,481.4 381.3,482.6 382.2,483.5 383.1,484.4 384.0,486.1 384.3,488.5 384.5,489.3 384.8,490.0 385.0,491.6 385.3,493.4 385.6,495.2 385.8,496.6 386.1,498.7 386.4,501.3 386.6,503.2 386.9,504.5 387.1,506.0 387.4,508.0 387.8,509.6 388.2,511.5 388.7,513.4 389.1,515.1 389.5,517.1 389.9,518.0 390.3,519.4 390.7,521.8 391.2,523.4 391.6,525.1 392.0,526.6 392.4,526.7 392.8,527.7 393.2,530.0 393.6,532.4 394.0,534.6 394.4,536.0 394.8,537.7 395.2,539.2 395.6,540.2 396.0,541.8 396.4,543.9 396.8,546.1 397.2,547.3 397.6,548.4 398.0,549.6 398.8,550.6 399.5,553.0 400.2,555.7 401.0,556.9 401.8,557.6 402.5,559.0 403.2,560.9 404.0,563.1 404.8,565.2 405.5,565.9 406.2,565.3 407.0,565.3 407.5,567.3 408.0,570.1 408.5,571.8 409.0,572.9 409.6,574.7 410.1,577.2 410.6,580.3 411.1,583.1 411.6,584.5 411.8,584.9 411.9,585.2 412.1,586.5 412.3,588.3 412.4,589.8 412.6,591.1 412.8,593.1 412.9,596.0 413.1,597.1 413.3,597.4 413.4,600.6 413.6,603.7 413.8,604.8 413.9,606.0 414.1,607.9 414.3,609.1 414.4,609.8 414.6,611.5 415.8,613.6 416.9,615.6 418.1,617.0 419.2,617.9 419.4,619.5 419.6,621.8 419.9,624.0 420.1,625.9 420.3,627.5 420.6,628.8 420.8,630.2 421.0,632.0 421.2,633.4 421.4,635.4 421.7,637.5 421.9,638.7 422.1,640.2 422.3,642.3 422.6,644.4 422.8,645.5 423.0,646.3 423.2,648.9 423.5,651.6 423.7,652.9 424.6,653.6 425.6,653.7 426.5,655.0 427.4,658.0 428.4,660.0 429.3,661.5 430.3,663.5 431.2,663.9 431.4,663.9 431.6,665.7 431.8,667.9 431.9,669.4 432.1,671.7 432.3,675.0 432.5,676.5 432.7,676.5 432.9,677.3 433.1,679.3 433.3,681.5 433.4,683.5 433.6,685.4 433.8,687.3 434.0,689.6 434.2,690.6 434.4,690.6 434.6,692.2 434.8,694.3 434.9,695.7 435.1,697.7 435.3,699.6 435.5,701.3 435.7,702.7 436.2,703.9 436.8,705.1 437.3,707.1 437.9,709.9 438.4,711.3 439.0,712.1 439.5,713.9 440.0,715.8 440.6,717.5 441.1,718.6 441.7,718.9 442.2,719.9 442.8,722.6 443.3,725.2 443.5,727.4 443.8,728.9 444.0,729.6 444.2,731.1 444.4,733.0 444.7,734.2 444.9,735.5 445.1,737.8 445.3,740.2 445.6,742.1 445.8,743.3 446.0,744.1 446.2,745.9 446.4,748.1 446.7,749.9 446.9,752.2 447.1,752.9 447.4,753.3 447.6,756.1 447.8,758.9 448.6,760.7 449.3,762.2 450.1,762.2 450.8,762.6 451.6,764.3 452.3,765.5 453.1,766.8 453.8,769.0 454.6,771.1 455.3,772.8 456.1,773.3 456.8,774.5 457.1,776.8 457.3,777.7 457.6,779.3 457.9,782.2 458.2,784.3 458.4,785.6 458.7,786.6 459.0,787.6 459.3,788.6 459.5,790.5 459.8,793.1 461.6,793.6 463.4,794.0 465.3,793.2 467.1,792.3 468.9,792.8 469.2,795.0 469.4,796.3 469.7,797.5 470.0,799.4 470.3,801.8 470.5,803.4 470.8,803.9 471.1,805.4 471.4,807.9 471.6,810.1 471.9,813.0 472.1,814.9 472.2,815.2 472.4,816.7 472.6,819.0 472.7,820.7 472.9,822.6 473.1,824.4 473.2,825.2 473.4,825.8 473.6,827.1 473.7,829.6 473.9,832.0 474.1,833.5 474.2,835.0 474.4,836.8 474.6,838.8 474.7,839.9 474.9,841.3 475.7,843.5 476.6,845.3 477.4,846.5 478.2,847.7 479.0,848.5 479.9,849.5 480.7,852.0 481.5,854.4 482.3,855.5 483.2,856.3 484.0,857.4 484.9,855.7 485.9,852.9 486.8,850.4 487.8,849.8 488.7,849.2 489.6,847.3 490.6,845.4 491.5,844.0 492.0,845.3 492.4,847.1 492.9,849.3 493.3,851.3 493.8,853.0 494.3,854.2 494.7,855.0 495.2,856.9 495.7,859.4 496.1,860.7 496.6,861.9 497.0,864.1 497.5,866.7 498.0,868.5 498.4,869.7 498.9,871.6 499.3,872.9 499.8,873.6 500.3,875.8 500.7,878.5 501.2,880.0 501.7,881.3 502.1,883.0 502.6,884.1 503.0,885.9 503.5,888.2 505.0,888.1 506.6,888.7 508.1,890.1 509.6,890.8 510.5,888.7 511.4,887.2 512.3,886.6 513.2,885.1 514.1,882.7 515.0,880.8 515.9,878.8 516.8,877.3 517.7,876.8 518.6,875.8 519.5,877.0 520.4,878.3 521.3,880.0 522.2,880.7 523.1,880.9 524.0,882.8 524.9,885.4 525.8,887.0 526.7,888.7 527.6,890.4 528.1,891.2 528.7,892.5 529.2,894.8 529.7,897.2 530.3,899.2 530.8,901.2 531.3,902.6 531.9,903.1 532.4,904.3 533.0,906.1 533.5,907.6 534.0,910.1 534.6,912.4 535.1,913.3 535.6,914.3 536.2,916.1 536.7,918.4 537.8,917.4 538.8,915.2 539.9,913.1 541.0,912.2 542.1,911.6 543.1,909.8 544.2,908.1 545.7,909.6 547.2,910.7 548.7,911.4 550.2,912.2 551.7,913.6 553.2,914.9 554.5,915.9 555.8,916.5 557.1,917.0 558.4,918.1 559.7,921.0 561.0,924.0 562.3,924.8 563.2,922.8 564.0,921.4 564.9,919.9 565.8,918.9 566.7,916.7 567.5,913.9 568.4,912.8 569.3,911.5 570.2,909.0 571.0,908.0 571.9,907.4 572.8,905.4 573.7,903.5 574.5,902.7 575.4,902.4 576.3,900.9 577.2,899.0 578.0,898.4 578.9,897.2 580.4,897.7 581.9,898.0 583.4,898.6 584.9,900.4 586.4,901.2 587.9,900.4 589.4,900.7 590.9,903.2 592.4,904.8 593.9,905.0 594.5,905.5 595.2,906.2 595.8,908.4 596.4,911.8 597.1,913.9 597.7,914.1 598.3,915.4 599.0,917.7 599.6,918.9 600.2,919.9 600.9,921.6 601.5,922.5 602.8,920.8 604.0,919.7 605.3,917.7 606.6,916.4 607.8,916.5 609.1,915.8 610.4,914.5 611.7,913.5 612.9,913.3 614.2,912.9 615.5,911.5 616.7,910.1 618.0,908.6 619.1,909.4 620.1,910.5 621.2,911.8 622.2,912.6 623.3,912.5 624.4,914.4 625.4,917.6 626.5,918.0 627.5,917.3 628.6,919.3 629.5,918.6 630.3,916.2 631.2,914.6 632.1,913.5 632.9,911.9 633.8,910.3 634.7,908.0 635.5,906.0 636.4,904.9 637.3,904.9 638.1,905.4 639.0,903.4 640.7,900.4 642.4,899.8 644.1,900.1 645.9,899.5 647.6,899.1 649.3,898.9 651.0,899.1 652.4,898.7 653.7,898.1 655.1,897.3 656.5,896.2 657.9,895.6 659.2,894.8 660.6,893.2 662.0,891.8 663.3,891.3 664.7,890.8 665.6,892.0 666.5,892.4 667.5,893.7 668.4,895.1 669.3,896.7 670.2,899.0 671.2,900.1 672.1,900.3 673.0,901.7 673.9,903.4 674.8,903.7 675.8,905.2 676.7,907.0 677.6,907.9 678.5,910.1 679.5,912.2 680.4,912.6 681.3,913.5 682.4,912.5 683.4,911.6 684.5,910.1 685.5,908.3 686.6,906.6 687.7,904.9 688.7,903.9 689.8,902.9 690.9,900.6 692.0,898.7 693.1,897.7 694.2,896.9 695.2,896.8 696.3,896.8 697.4,894.7 698.5,891.5 699.6,889.4 700.9,889.5 702.3,889.7 703.6,888.5 705.0,887.2 706.3,886.3 707.7,884.9 709.0,883.8 710.4,882.6 711.7,881.0 713.1,881.0 714.4,881.0 715.4,879.4 716.5,878.5 717.5,877.2 718.6,875.0 719.6,873.1 720.7,871.6 721.7,870.1 722.6,868.8 723.6,867.2 724.5,864.5 725.4,862.7 726.3,862.5 727.2,862.9 728.2,862.4 729.1,859.4 729.5,856.1 729.9,854.6 730.3,853.7 730.7,851.5 731.2,849.0 731.6,847.9 732.0,846.7 732.4,845.1 732.8,843.3 733.6,841.3 734.3,840.5 735.1,839.9 735.8,838.2 736.6,836.3 737.4,834.6 738.1,832.6 738.9,830.7 740.5,830.1 742.0,829.7 743.5,828.1 745.1,825.9 745.3,824.1 745.5,822.7 745.7,821.1 745.8,820.2 746.0,818.8 746.2,816.7 746.4,815.0 746.6,812.9 746.8,810.4 746.9,809.3 747.1,808.6 747.3,806.4 747.5,804.0 748.4,802.6 749.3,801.6 750.2,800.5 751.0,799.5 751.9,798.6 752.8,796.6 753.7,795.2 754.5,794.8 755.2,793.5 756.0,790.8 756.8,788.1 757.5,786.3 758.3,784.9 759.0,783.7 759.8,782.6 760.9,784.4 761.9,786.5 763.0,787.5 764.1,787.7 765.2,788.3 766.2,789.2 767.3,790.5 768.4,792.7 769.0,791.4 769.6,788.1 770.2,785.5 770.8,785.5 771.5,784.7 772.1,782.2 772.7,781.2 773.3,781.1 774.8,780.9 776.4,779.5 778.0,777.6 779.5,777.5 779.7,776.6 779.8,773.9 780.0,771.3 780.1,770.1 780.3,769.5 780.5,767.6 780.6,764.9 780.8,763.8 780.9,762.2 781.1,760.6 781.3,760.4 781.4,759.3 781.6,757.6 781.7,755.4 781.9,752.3 782.3,750.6 782.7,749.9 783.1,748.1 783.5,746.7 784.0,745.7 784.4,744.3 784.8,742.3 785.2,740.1 785.6,738.1 787.0,737.0 788.4,736.1 789.8,735.6 791.2,734.4 792.6,732.9 794.0,731.6 795.4,730.7 796.6,733.1 797.9,734.2 799.1,733.5 800.3,734.2 801.5,736.8 802.8,738.6 804.0,739.1 804.5,737.2 805.0,735.7 805.5,732.9 806.1,730.2 806.6,729.2 807.1,728.5 807.6,727.6 808.1,726.5 808.7,724.1 809.2,722.0 809.7,720.8 810.2,719.1 811.7,720.2 813.1,721.3 814.6,721.8 816.0,722.6 817.5,723.4 817.9,724.7 818.4,726.1 818.8,727.6 819.3,730.3 819.7,731.4 820.2,731.9 820.6,734.0 821.1,736.2 821.5,737.8 822.0,739.0 822.4,739.9 822.5,741.2 822.7,744.1 822.8,746.4 823.0,746.3 823.1,748.0 823.2,751.3 823.4,753.3 823.5,754.7 823.6,755.6 823.8,756.1 823.9,757.8 824.1,760.0 824.2,761.3 824.3,762.3 824.5,764.7 824.6,768.0 824.8,770.0 824.9,770.7 825.1,771.7 825.4,773.5 825.6,774.7 825.9,775.5 826.1,777.4 826.4,778.9 826.6,780.9 826.9,782.9 827.1,783.1 827.4,784.3 827.6,787.1 827.9,789.0 828.1,790.7 828.4,793.1 828.6,795.1 828.7,796.2 828.8,797.4 828.9,799.5 829.0,801.0 829.1,801.9 829.2,803.1 829.3,805.1 829.4,807.9 829.5,809.4 829.6,809.8 829.7,811.5 829.8,814.6 830.3,817.6 830.9,818.9 831.4,819.3 832.0,820.8 832.5,823.2 833.1,826.1 833.6,827.1 834.2,826.4 834.7,826.8 835.8,828.8 836.9,831.6 838.0,833.6 839.1,834.6 840.1,832.8 841.0,831.4 842.0,830.4 842.9,829.0 843.9,826.9 844.8,825.4 845.8,824.1 847.3,825.1 848.8,827.4 850.4,829.5 851.9,829.9 853.1,830.1 854.3,830.8 855.6,832.3 856.8,834.2 858.0,836.5 859.2,835.3 860.5,833.0 861.7,831.1 863.0,829.8 864.2,828.5 864.4,827.8 864.6,826.2 864.7,823.9 864.9,822.5 865.1,821.1 865.3,819.1 865.4,816.9 865.6,814.8 865.8,812.8 866.0,811.8 866.1,811.1 866.3,809.5 866.5,807.5 866.7,805.7 866.8,804.0 867.0,802.7 867.2,801.7 867.4,800.1 867.5,798.5 867.7,796.9 867.9,795.3 868.2,793.7 868.6,791.7 868.9,789.8 869.2,788.4 869.5,786.7 869.9,785.2 870.2,784.4 870.5,783.3 870.8,781.3 871.2,778.5 871.5,775.5 871.8,773.8 872.1,773.5 872.5,771.5 872.8,768.1 873.2,767.5 873.6,767.3 874.0,765.4 874.4,763.2 874.9,762.0 875.3,761.7 875.7,759.9 876.1,757.2 876.5,755.5 877.7,754.8 879.0,753.0 880.2,751.8 881.4,751.8 882.6,750.2 883.8,748.0 885.1,747.5 886.3,746.7 886.7,744.2 887.1,742.6 887.5,741.2 887.9,738.9 888.3,737.6 888.8,737.8 889.2,736.3 889.6,733.4 890.0,730.8 890.4,728.1 890.8,726.7 891.2,725.0 892.2,722.8 893.2,721.7 894.1,721.3 895.1,720.7 896.1,719.1 897.6,718.1 899.1,718.2 900.5,717.6 902.0,716.6 903.5,715.4 905.1,714.8 906.8,715.0 908.4,715.4 910.0,715.8 911.7,717.1 913.3,717.2 913.9,715.0 914.5,713.4 915.1,711.1 915.8,709.0 916.4,707.8 917.0,706.4 917.6,704.5 918.2,703.6 919.1,702.9 919.9,701.5 920.8,699.6 921.7,697.9 922.6,698.0 923.4,697.9 924.3,696.2 925.0,693.8 925.8,691.3 926.5,689.2 927.3,687.9 928.0,687.1 929.9,686.7 931.7,685.4 933.5,684.2 935.4,684.4 936.9,686.2 938.5,686.7 940.0,687.2 941.5,687.2 942.6,685.7 943.6,685.4 944.7,684.6 945.8,683.8 946.9,682.8 948.0,681.1 949.0,679.5 950.1,677.5 951.5,675.5 952.8,674.2 954.2,673.5 955.6,672.8 956.9,671.6 958.3,670.2 959.7,669.1 961.0,667.6 962.4,666.1 964.0,667.2 965.7,669.0 967.3,668.9 968.9,667.8 970.6,668.8 972.2,670.0 973.6,667.6 975.0,666.2 976.4,667.6 977.9,667.3 979.3,664.8 980.7,662.5 982.1,660.7 982.7,659.4 983.3,658.4 983.9,656.6 984.5,655.5 985.2,654.9 985.8,653.1 986.4,650.7 987.0,649.1 987.6,648.6 988.2,647.6 989.9,647.4 991.6,647.7 993.4,647.2 995.1,646.1 996.8,646.0 997.9,644.8 998.9,643.2 1000.0,642.0 1001.0,641.3 1002.1,640.3 1003.1,638.2 1004.2,636.4 1005.7,634.9 1007.1,633.2 1008.6,632.1 1010.0,631.4 1011.5,631.1 1013.0,631.6 1014.6,631.3 1016.1,631.7 1017.6,631.7 1019.2,632.9 1020.7,634.4 1022.3,634.1 1023.8,634.0 1025.2,633.4 1026.6,633.1 1028.0,632.0 1029.4,630.1 1030.8,628.7 1032.2,629.0 1033.6,628.4 1034.1,625.8 1034.7,624.8 1035.2,624.1 1035.8,622.8 1036.3,621.3 1036.9,618.9 1037.4,616.9 1038.0,615.5 1038.5,613.3 1039.7,611.2 1041.0,610.3 1042.2,609.6 1043.4,608.8 1044.7,608.8 1045.9,607.4 1047.4,606.8 1049.0,607.6 1050.5,607.8 1052.1,607.8 1053.6,608.8 1055.1,608.7 1056.7,609.1 1058.2,611.2 1059.0,609.2 1059.8,606.7 1060.7,605.6 1061.5,604.2 1062.3,602.6 1063.1,600.7 1064.0,599.2 1064.9,598.2 1065.9,597.0 1066.8,595.5 1067.7,594.0 1068.7,592.9 1069.6,592.8 1070.5,591.3 1072.0,591.0 1073.5,592.0 1075.1,592.6 1076.6,592.2 1078.1,592.4 1079.7,594.0 1081.2,594.8 1082.7,594.4 1084.1,593.3 1085.4,592.4 1086.8,591.3 1088.2,590.9 1089.5,590.1 1090.9,588.7 1092.3,587.3 1093.6,587.2 1095.0,587.5 1096.6,586.9 1098.3,586.6 1099.9,587.4 1101.6,586.9 1103.2,586.4 1104.9,586.2 1106.5,586.3 1108.2,587.0 1109.8,587.0 1110.9,585.4 1112.0,584.1 1113.1,582.7 1114.2,582.0 1115.2,582.1 1116.3,581.7 1117.4,580.5 1118.5,578.9 1119.6,576.2 1120.8,574.5 1122.1,573.9 1123.3,572.2 1124.5,571.2 1125.8,571.2 1127.0,570.1 1128.2,568.9 1129.4,567.6 1130.7,565.9 1131.9,564.3 1133.3,565.1 1134.6,566.2 1136.0,566.9 1137.3,568.3 1138.7,570.2 1140.0,572.1 1141.4,573.7 1142.7,573.4 1144.1,573.5 1145.2,572.8 1146.3,571.8 1147.5,569.9 1148.6,568.5 1149.7,568.6 1150.8,568.1 1151.9,566.7 1153.0,565.5 1154.2,564.4 1155.3,562.4 1156.4,560.4 1157.6,560.3 1158.9,559.8 1160.1,558.3 1161.3,557.2 1162.5,556.1 1163.8,554.3 1165.0,553.5 1166.2,553.2 1167.9,552.8 1169.7,552.0 1171.4,552.8 1173.1,553.9 1174.8,553.9 1176.5,554.0 1178.3,554.2 1180.0,554.0 1181.6,554.5 1183.2,554.9 1184.9,555.5 1186.5,556.1 1188.1,555.4 1189.7,555.2 1191.4,556.7 1193.0,558.1 1194.6,557.7 1196.2,556.5 1197.9,556.0 1199.5,555.8 1201.1,555.7 1202.8,554.4 1204.4,553.1 1205.1,552.0 1205.9,550.1 1206.6,547.4 1207.3,545.8 1208.1,544.4 1208.8,542.8 1209.5,542.6 1210.3,541.6 1211.0,539.0 1211.7,537.1 1212.5,537.1 1213.2,536.8 1213.9,534.4 1214.7,531.9 1215.4,531.0 1217.1,532.6 1218.7,532.9 1220.3,532.9 1222.0,533.8 1223.7,535.2 1225.3,537.0 1226.4,538.0 1227.5,537.7 1228.6,538.6 1229.7,540.1 1230.7,541.0 1231.8,541.6 1232.9,543.2 1234.0,546.3 1235.1,548.4 1236.2,546.1 1237.2,544.2 1238.3,543.6 1239.4,542.5 1240.5,540.9 1241.5,539.4 1242.6,538.9 1243.7,538.9 1245.3,538.6 1247.0,537.3 1248.6,535.4 1250.2,534.0 1251.9,534.5 1253.5,534.7 1255.1,533.9 1256.8,532.5 1258.4,531.4 1260.0,532.0 1261.7,532.3 1263.3,532.7 1265.0,533.5 1266.6,534.1 1268.2,534.5 1269.9,534.4 1271.5,534.9 1273.2,536.4 1274.8,537.5 1276.5,538.2 1278.1,538.9 1279.5,538.4 1280.8,536.8 1282.2,535.3 1283.5,533.8 1284.9,531.5 1286.2,530.6 1287.6,530.8 1288.9,530.0 1290.3,529.5 1291.9,529.6 1293.5,529.0 1295.0,529.5 1296.6,530.4 1298.2,530.7 1299.8,530.5 1301.3,531.1 1302.9,531.4 1304.5,530.9 1306.1,530.4 1307.7,529.7 1309.2,530.0 1310.8,531.4 1312.4,532.5 1313.9,532.6 1315.4,530.7 1316.8,528.1 1318.3,527.4 1319.8,526.6 1321.3,526.5 1322.8,527.0 1324.2,526.1 1325.7,524.5 1327.2,522.8 1328.7,522.7 1330.1,523.2 1331.6,522.1 1333.1,520.9 1334.6,520.5 1336.0,520.3 1337.5,519.5 1339.0,518.2 1340.4,517.7 1341.9,516.5 1343.4,515.9 1344.8,516.6 1346.3,517.8 1347.8,518.7 1349.2,519.7 1350.7,521.3 1352.2,522.3 1353.7,522.8 1355.1,523.0 1356.6,523.3 1357.7,522.5 1358.8,521.5 1360.0,519.7 1361.1,517.4 1362.2,516.2 1363.3,516.6 1364.4,516.1 1365.5,514.5 1366.7,513.9 1367.8,513.2 1368.9,511.1 1370.6,510.5 1372.3,510.3 1374.1,510.3 1375.8,509.5 1377.5,508.4 1379.2,508.5 1380.9,507.6 1382.7,506.7 1384.4,507.6 1386.1,507.8 1387.7,507.7 1389.4,508.5 1391.0,510.0 1392.7,511.7 1394.3,511.6 1395.9,510.7 1397.6,510.0 1399.2,509.2 1400.9,509.7 1402.5,510.7 1404.2,511.5 1405.8,513.4 1406.9,513.2 1408.0,511.3 1409.1,509.6 1410.2,509.2 1411.3,507.5 1412.5,504.9 1413.6,503.4 1414.7,503.0 1415.8,502.6 1416.9,501.5 1418.0,500.6 1419.5,500.3 1421.0,499.5 1422.4,499.9 1423.9,500.4 1425.4,500.9 1426.9,502.6 1428.4,504.3 1429.8,504.5 1431.3,505.1 1432.8,506.8 1434.2,505.9 1435.5,504.4 1436.9,503.9 1438.2,503.5 1439.6,502.1 1440.9,500.4 1442.3,499.3 1443.6,498.4 1445.0,498.0 1446.6,497.6 1448.3,496.7 1449.9,497.2 1451.6,498.0 1453.2,498.4 1454.8,498.5 1456.5,499.0 1458.1,498.9 1459.8,497.4 1461.4,496.9 1463.0,497.1 1464.7,498.1 1466.3,500.0 1468.0,500.5 1469.6,499.6 1471.2,498.4 1472.9,498.2 1474.5,499.1 1476.1,499.2 1477.8,498.4 1479.4,498.5 1480.9,499.1 1482.5,499.7 1484.0,501.8 1485.6,503.9 1487.1,505.4 1488.6,506.8 1490.2,507.4 1491.7,506.8 1493.3,505.6 1495.0,504.9 1496.6,505.0 1498.3,506.0 1499.9,505.6 1501.6,504.8 1503.2,505.8 1504.9,506.2 1506.5,504.8 1507.9,505.4 1509.3,506.9 1510.7,507.5 1512.1,507.4 1513.5,507.6 1514.9,508.7 1516.3,509.6 1517.2,511.5 1518.1,514.1 1519.0,515.8 1519.9,516.0 1520.9,516.0 1521.8,517.4 1522.7,520.0 1523.6,521.7 1524.8,522.9 1526.0,524.5 1527.3,525.7 1528.5,526.8 1530.2,528.4 1531.8,530.0 1533.5,530.1 1535.1,530.5 1536.8,531.7 1538.4,532.3 1539.6,533.4 1540.7,534.0 1541.9,533.5 1543.1,534.7 1544.2,538.3 1545.4,540.8 1546.5,541.3 1547.7,541.6 1548.1,542.3 1548.5,543.5 1548.9,546.1 1549.3,547.6 1549.7,549.0 1550.1,551.1 1550.6,553.4 1551.0,555.3 1551.4,556.5 1551.8,558.2 1552.2,559.2 1552.6,560.5 1553.0,563.3 1553.7,565.1 1554.5,566.9 1555.2,568.3 1555.9,569.1 1556.6,570.5 1557.4,571.0 1558.1,571.7 1558.8,574.0 1559.5,577.1 1560.3,579.0 1561.0,579.6 1562.0,580.5 1563.0,581.4 1564.0,581.8 1565.0,583.8 1566.0,587.2 1567.0,589.0 1567.6,590.3 1568.2,591.9 1568.8,593.8 1569.4,595.4 1570.0,595.4 1570.6,596.7 1571.2,600.3 1571.8,601.7 1572.0,601.1 1572.1,601.6 1572.3,603.5 1572.5,606.3 1572.6,608.5 1572.8,609.2 1573.0,610.4 1573.2,613.7 1573.3,616.9 1573.5,617.4 1573.7,618.2 1573.8,621.0 1574.0,623.2 1574.2,623.9 1574.3,624.6 1574.5,625.8 1574.7,627.9 1574.8,631.1 1575.0,633.0 1575.2,633.9 1575.4,635.3 1575.5,637.3 1575.7,639.2 1575.9,640.2 1576.1,641.4 1576.2,643.8 1576.4,645.9 1576.6,647.3 1576.8,648.4 1577.0,648.6 1577.1,650.1 1577.3,652.5 1577.5,654.7 1577.7,657.1 1577.8,658.7 1578.0,660.5 1578.1,662.1 1578.2,663.2 1578.2,664.9 1578.3,667.3 1578.4,668.3 1578.5,669.2 1578.6,671.7 1578.6,673.8 1578.7,675.6 1578.8,677.2 1578.9,678.9 1579.0,681.0 1579.0,682.7 1579.1,683.3 1579.2,683.5 1579.3,685.7 1579.4,688.8 1579.4,690.5 1579.5,691.7 1579.6,693.9 1579.7,695.9 1579.8,696.7 1579.8,697.6 1579.9,698.4 1580.0,699.1 1580.1,701.5 1580.2,704.1 1580.2,705.7 1580.3,707.2 1580.4,708.6 1580.5,709.9 1580.6,711.7 1580.6,713.5 1580.7,714.8 1580.8,715.8 1580.9,717.1 1581.0,718.7 1581.0,721.4 1581.1,724.0 1581.2,725.3 1581.3,726.8 1581.4,728.4 1581.4,729.2 1581.5,730.3 1581.6,731.3 1581.7,732.9 1581.8,735.7 1581.8,738.0 1581.9,739.6 1582.0,741.4 1582.2,743.0 1582.4,743.7 1582.6,745.3 1582.8,747.1 1583.1,747.9 1583.3,749.4 1583.5,750.9 1583.7,752.0 1583.9,754.1 1584.1,756.8 1584.3,758.5 1584.5,759.8 1584.7,761.2 1584.9,763.3 1585.2,765.3 1585.4,766.8 1585.6,768.7 1585.8,770.4 1586.0,771.8 1586.2,772.7 1586.3,773.4 1586.5,774.2 1586.7,775.4 1586.8,778.5 1587.0,782.0 1587.2,783.9 1587.3,785.4 1587.5,787.2 1587.7,788.9 1587.8,790.2 1588.0,790.8 1588.4,792.0 1588.8,794.7 1589.2,797.0 1589.6,798.3 1590.0,798.5 1590.4,799.2 1590.8,801.5 1591.2,802.8 1591.6,804.4 1592.0,807.3 1593.3,808.6 1594.7,808.9 1596.0,809.7 1597.6,811.5 1599.2,813.4 1599.5,815.3 1599.7,817.9 1600.0,819.0 1600.3,819.3 1600.6,821.8 1600.8,824.9 1601.1,826.2 1601.4,827.0 1601.7,828.0 1601.9,829.3 1602.2,830.7 1602.5,831.7 1602.8,833.5 1603.1,835.6 1603.5,837.1 1603.8,838.4 1604.1,839.5 1604.4,841.1 1604.7,844.0 1605.0,847.2 1605.4,849.4 1605.7,851.0 1606.0,851.9 1606.3,852.0 1606.6,852.4 1606.9,853.7 1607.3,856.1 1607.6,859.3 1607.9,861.2 1608.2,861.7 1608.5,862.7 1608.8,864.4 1609.2,865.9 1609.5,867.2 1609.8,869.2 1610.1,870.6 1610.4,871.9 1610.8,873.2 1611.1,875.1 1611.4,877.8 1611.7,879.4 1612.1,880.1 1612.4,881.5 1612.7,883.5 1613.0,885.3 1613.3,887.1 1613.7,889.2 1614.0,890.5 1614.3,891.1 1614.7,892.8 1615.2,895.8 1615.6,897.7 1616.0,898.5 1616.4,899.9 1616.9,901.3 1617.3,902.1 1617.7,903.3 1618.2,905.2 1618.6,906.8 1619.0,908.3 1619.4,910.7 1619.9,912.9 1620.3,913.5 1621.3,913.4 1622.3,914.2 1623.3,916.3 1624.3,918.8 1625.3,920.5 1626.3,922.1 1627.3,923.6 1628.3,924.1 1629.8,923.8 1631.3,925.3 1632.9,927.3 1634.4,927.6 1635.2,925.7 1635.9,924.0 1636.7,923.1 1637.4,922.0 1638.2,918.7 1638.9,916.5 1639.7,915.2 1640.4,913.6 1640.8,912.6 1641.2,910.9 1641.6,909.2 1642.0,908.2 1642.4,906.9 1642.8,905.2 1643.2,902.1 1643.6,899.7 1644.0,900.0 1644.4,899.8 1644.8,898.0 1645.2,896.0 1645.6,893.3 1646.0,890.7 1646.4,889.7 1647.0,888.6 1647.6,886.3 1648.2,884.1 1648.8,882.8 1649.5,881.6 1650.1,879.5 1650.7,877.6 1651.3,877.0 1651.9,875.9 1652.5,873.9 1653.7,873.0 1654.9,872.2 1656.1,870.5 1657.3,868.5 1658.5,867.3 1660.5,868.1 1662.5,868.5 1664.5,868.3 1665.1,866.8 1665.8,865.8 1666.4,863.8 1667.0,862.4 1667.6,862.1 1668.2,861.1 1668.9,859.3 1669.5,857.2 1669.8,854.5 1670.1,852.6 1670.5,851.9 1670.8,850.9 1671.1,849.6 1671.4,847.9 1671.7,845.7 1672.0,845.3 1672.4,845.1 1672.7,843.4 1673.0,841.5 1673.3,839.4 1673.6,836.7 1674.0,834.9 1674.3,833.2 1674.6,831.0 1674.8,828.8 1675.0,826.6 1675.2,825.6 1675.4,825.2 1675.7,823.4 1675.9,821.3 1676.1,819.9 1676.3,818.7 1676.5,818.8 1676.7,818.8 1676.9,815.8 1677.1,812.0 1677.3,810.4 1677.5,809.0 1677.8,806.4 1678.0,804.8 1678.2,804.2 1678.4,802.2 1678.6,800.5 1678.8,800.6 1678.9,799.7 1679.1,797.5 1679.2,795.1 1679.4,792.9 1679.6,791.4 1679.7,789.7 1679.9,788.1 1680.0,786.8 1680.2,784.7 1680.4,783.7 1680.5,783.1 1680.7,781.5 1680.8,779.8 1681.0,777.9 1681.2,775.9 1681.3,774.5 1681.5,773.5 1681.6,771.3 1681.8,768.8 1682.0,767.8 1682.1,766.7 1682.3,764.8 1682.4,763.2 1682.6,761.5 1682.8,759.0 1683.0,757.1 1683.3,756.2 1683.5,755.7 1683.7,753.8 1683.9,750.7 1684.2,749.2 1684.4,748.3 1684.6,746.4 1684.8,744.3 1685.0,742.8 1685.3,741.7 1685.5,740.1 1685.7,737.9 1685.9,735.0 1686.2,732.6 1686.4,731.8 1686.6,731.7 1686.8,732.2 1687.0,730.3 1687.2,726.9 1687.4,725.4 1687.6,723.5 1687.8,720.9 1688.0,719.5 1688.2,718.1 1688.4,716.2 1688.6,714.6 1688.8,713.6 1689.0,712.1 1689.2,709.9 1689.4,708.3 1689.6,706.5 1690.0,704.6 1690.5,702.8 1690.9,700.6 1691.4,698.8 1691.8,697.4 1692.3,696.1 1692.7,694.7 1693.2,692.4 1693.6,690.0 1694.0,689.4 1694.5,689.3 1694.9,688.0 1695.4,685.1 1695.8,682.8 1696.3,681.4 1696.7,679.5 1697.1,678.3 1697.6,677.2 1698.0,675.4 1698.4,673.4 1698.8,671.9 1699.3,670.8 1699.7,670.0 1700.1,669.3 1700.6,667.9 1701.0,666.0 1701.4,663.8 1701.8,661.3 1702.3,659.4 1702.7,658.4 1703.0,657.2 1703.3,655.3 1703.6,653.5 1703.8,653.0 1704.1,652.1 1704.4,649.9 1704.7,647.7 1705.0,646.5 1705.3,645.4 1705.6,643.1 1705.8,640.7 1706.1,639.0 1706.4,637.6 1706.7,635.9 1707.3,634.2 1707.9,632.5 1708.5,630.8 1709.1,629.2 1709.8,627.9 1710.4,626.0 1711.0,623.3 1711.6,620.6 1712.2,619.8 1712.8,620.2 1713.2,619.6 1713.7,617.3 1714.1,614.2 1714.6,612.2 1715.0,611.8 1715.5,611.0 1715.9,610.1 1716.4,608.6 1716.8,606.8 1718.5,606.4 1720.3,605.8 1721.8,607.0 1723.4,607.7 1725.0,607.3 1726.5,607.2 1727.4,609.0 1728.2,611.8 1729.1,613.7 1729.9,614.7 1730.8,616.1 1731.7,617.2 1732.5,618.2 1733.4,619.1 1734.2,621.0 1735.1,623.3 1735.7,624.1 1736.2,625.1 1736.8,627.3 1737.3,629.3 1737.9,630.3 1738.5,631.7 1739.0,634.0 1739.6,635.9 1740.2,636.3 1740.7,636.9 1741.3,639.6 1741.8,641.5 1742.4,642.3 1742.7,644.2 1743.1,646.0 1743.4,647.8 1743.7,650.3 1744.0,652.2 1744.4,653.1 1744.7,653.7 1745.0,654.1 1745.3,655.6 1745.7,659.5 1746.0,663.2 1746.3,664.6 1746.6,665.1 1747.0,666.2 1747.3,667.8 1747.5,670.0 1747.7,671.5 1747.9,672.1 1748.0,673.7 1748.2,676.0 1748.4,676.9 1748.6,677.8 1748.8,679.8 1749.0,682.2 1749.2,683.8 1749.3,685.5 1749.5,687.7 1749.7,689.5 1749.9,691.0 1750.1,691.8 1750.3,692.8 1750.4,695.2 1750.6,697.6 1750.8,699.6 1751.0,700.8 1751.2,701.0 1751.4,702.6 1751.6,704.6 1751.7,705.6 1751.9,708.5 1752.1,711.5 1752.3,713.1 1752.4,714.1 1752.6,714.8 1752.7,716.5 1752.9,718.9 1753.0,720.1 1753.1,721.1 1753.3,723.5 1753.4,724.9 1753.5,725.1 1753.7,726.5 1753.8,729.0 1754.0,730.8 1754.1,732.2 1754.2,733.7 1754.4,734.9 1754.5,735.5 1754.7,736.3 1754.8,738.4 1754.9,741.4 1755.1,743.4 1755.2,744.9 1755.3,746.4 1755.5,748.5 1755.6,750.8 1755.8,752.4 1755.9,753.9 1756.1,755.7 1756.4,755.9 1756.6,756.6 1756.9,759.1 1757.1,761.1 1757.4,762.9 1757.6,764.7 1757.9,765.8 1758.1,766.8 1758.4,768.0 1758.6,769.5 1758.9,771.4 1759.1,773.6 1759.4,775.3 1759.6,776.4 1759.8,777.5 1760.0,779.6 1760.2,781.8 1760.4,783.9 1760.6,785.6 1760.8,787.1 1761.0,789.3 1761.2,791.0 1761.4,791.8 1761.7,793.1 1761.9,795.6 1762.1,797.9 1762.3,799.0 1762.5,800.2 1762.7,801.7 1762.9,803.2 1763.1,804.5 1763.3,805.7 1763.9,807.3 1764.4,808.7 1765.0,810.5 1765.5,812.9 1766.1,814.9 1766.6,816.4 1767.2,818.9 1767.7,821.8 1768.3,823.7 1768.8,825.4 1769.4,826.1 1770.6,826.2 1771.9,826.7 1773.1,827.9 1774.3,829.4 1775.6,829.8 1776.8,830.7 1778.0,832.4 1779.3,833.7 1780.5,834.6 1781.9,833.1 1783.3,832.3 1784.7,832.6 1786.1,831.6 1787.5,829.9 1788.9,827.7 1790.3,825.4 1790.5,824.0 1790.8,823.7 1791.0,823.2 1791.3,821.6 1791.5,819.7 1791.8,817.9 1792.0,815.0 1792.3,812.4 1792.5,811.6 1792.8,810.8 1793.0,808.7 1793.3,806.9 1793.5,804.9 1793.8,803.1 1794.0,802.0 1794.3,799.9 1794.6,797.9 1794.9,796.7 1795.2,795.2 1795.5,793.5 1795.8,792.4 1796.2,791.2 1796.5,789.2 1796.8,787.9 1797.1,787.1 1797.4,785.2 1797.7,782.7 1798.6,781.7 1799.4,780.4 1800.3,777.8 1801.2,776.5 1802.1,776.3 1802.9,775.7 1803.8,774.2 1805.3,774.3 1806.9,775.0 1808.5,776.5 1810.0,777.4 1810.8,778.3 1811.6,780.0 1812.5,782.0 1813.3,783.3 1814.1,784.2 1814.9,785.2 1816.4,784.3 1817.8,784.4 1819.3,783.7 1820.7,781.5 1822.2,779.1 1823.0,777.1 1823.9,776.3 1824.7,775.0 1825.5,773.9 1826.4,773.1 1827.2,770.0 1828.9,769.1 1830.6,771.0 1832.4,772.5 1834.1,772.0 1835.8,772.2 1836.6,774.6 1837.4,776.9 1838.2,778.7 1839.1,779.6 1839.9,781.0 1840.7,783.4 1842.5,783.0 1844.3,782.3 1846.2,780.8 1848.0,779.0 1848.9,777.7 1849.7,776.3 1850.6,774.9 1851.4,774.3 1852.3,773.2 1853.2,772.6 1854.0,772.0 1854.9,770.0 1855.7,768.3 1856.6,766.5 1857.6,763.7 1858.6,761.3 1859.5,759.9 1860.5,758.7 1861.5,757.7 1862.4,759.1 1863.3,759.8 1864.2,761.1 1865.0,762.6 1865.9,764.3 1866.8,766.2 1867.7,766.4 1868.1,767.2 1868.6,770.4 1869.0,772.9 1869.5,774.0 1869.9,776.0 1870.4,778.8 1870.8,780.8 1871.3,781.7 1871.7,782.4 1872.2,783.4 1872.6,784.9 1873.0,786.7 1873.5,788.3 1873.9,789.4 1874.4,790.7 1874.8,792.7 1875.3,794.5 1875.7,795.6 1876.2,796.7 1876.6,798.7 1877.1,800.8 1877.5,802.3 1878.5,803.5 1879.5,804.7 1880.4,806.3 1881.4,807.9 1882.4,810.0 1884.1,811.8 1885.8,812.2 1887.6,811.5 1889.3,811.6 1891.0,812.7 1891.9,811.5 1892.8,809.7 1893.8,809.0 1894.7,807.6 1895.6,804.9 1896.6,803.4 1897.5,802.8 1898.4,801.7 1898.8,800.4 1899.3,799.8 1899.7,799.1 1900.2,797.5 1900.6,796.0 1901.1,794.3 1901.5,792.3 1902.0,789.8 1902.4,787.2 1902.9,785.6 1903.3,785.1 1903.5,783.7 1903.8,780.6 1904.0,779.0 1904.3,778.9 1904.5,777.2 1904.8,775.3 1905.0,773.9 1905.3,772.2 1905.5,770.6 1905.8,769.0 1906.0,767.4 1906.2,765.8 1906.5,764.3 1906.7,763.3 1907.0,762.1 1907.2,760.2 1907.5,757.9 1907.7,755.6 1908.0,753.7 1908.2,752.1 1908.4,750.8 1908.6,749.5 1908.8,747.9 1908.9,745.6 1909.1,744.3 1909.3,742.8 1909.5,740.4 1909.7,739.0 1909.9,738.3 1910.1,737.1 1910.2,736.0 1910.4,734.8 1910.6,733.1 1910.8,731.0 1911.0,728.4 1911.2,726.7 1911.3,725.8 1911.5,723.9 1911.7,722.6 1911.9,722.1 1912.3,720.4 1912.8,718.3 1913.2,717.1 1913.6,716.1 1914.1,714.3 1914.5,712.9 1915.0,712.0 1915.4,710.4 1915.8,708.3 1916.3,705.9 1916.7,704.2 1917.1,703.2 1917.6,701.7 1918.0,699.3 1918.6,698.0 1919.1,696.9 1919.7,694.4 1920.3,693.7 1920.8,693.1 1921.4,690.4 1921.9,688.6 1922.5,687.7 1923.1,685.9 1923.6,683.4 1924.2,680.9 1925.4,679.1 1926.7,678.3 1927.9,678.3 1929.1,677.5 1930.6,678.3 1932.2,679.8 1933.7,680.9 1935.2,681.3 1935.7,678.9 1936.3,676.8 1936.8,675.9 1937.3,674.8 1937.8,672.8 1938.4,671.0 1938.9,670.0 1940.1,668.8 1941.3,667.6 1942.6,667.1 1943.8,666.0 1945.0,664.2 1945.5,666.1 1946.0,668.3 1946.5,670.2 1947.0,671.5 1947.5,671.8 1948.0,673.1 1948.5,675.8 1949.0,677.9 1949.5,678.3 1950.0,678.0 1950.2,679.0 1950.4,681.5 1950.6,684.4 1950.8,685.9 1951.0,687.8 1951.2,691.3 1951.4,693.3 1951.6,693.3 1951.8,693.2 1952.0,695.3 1952.2,697.8 1952.4,698.4 1952.6,699.4 1952.8,702.8 1953.0,706.1 1953.2,707.3 1953.4,708.0 1953.6,709.4 1953.8,710.1 1954.0,710.9 1954.3,713.0 1954.5,714.9 1954.7,717.0 1954.9,718.5 1955.1,719.1 1955.3,721.3 1955.6,723.7 1955.8,724.8 1956.0,727.2 1956.2,730.5 1956.4,731.7 1956.6,732.3 1956.9,734.5 1957.1,736.0 1957.3,736.8 1957.4,738.3 1957.5,739.7 1957.6,741.6 1957.7,744.0 1957.8,745.5 1957.9,745.9 1958.0,747.3 1958.1,750.0 1958.2,751.6 1958.3,752.8 1958.4,754.7 1958.5,755.9 1958.5,756.7 1958.6,757.8 1958.7,759.6 1958.8,761.7 1958.9,763.1 1959.0,764.1 1959.1,766.1 1959.2,768.5 1959.3,769.9 1959.4,771.5 1959.5,772.4 1959.6,773.4 1959.7,776.1 1959.8,778.6 1960.0,780.0 1960.1,781.5 1960.3,784.1 1960.4,786.7 1960.6,788.1 1960.8,789.2 1960.9,790.0 1961.1,791.1 1961.2,793.0 1961.4,794.7 1961.6,795.6 1961.7,797.0 1961.9,799.1 1962.1,800.8 1962.2,801.3 1962.4,801.6 1962.5,803.3 1962.7,805.4 1962.9,806.7 1963.0,807.8 1963.2,810.1 1963.3,813.4 1963.5,816.0 1963.8,816.6 1964.2,816.5 1964.5,817.7 1964.8,819.7 1965.1,821.6 1965.5,823.8 1965.8,826.5 1966.1,828.5 1966.4,829.2 1966.8,830.9 1967.1,833.2 1967.4,834.3 1967.7,836.3 1968.1,839.3 1968.4,841.1 1969.6,841.8 1970.8,842.2 1972.1,842.6 1973.3,844.2 1974.5,845.4 1975.7,846.3 1976.3,848.4 1976.9,849.9 1977.5,850.9 1978.2,853.3 1978.8,855.8 1979.4,857.3 1980.0,858.2 1980.6,859.5 1981.6,860.8 1982.6,861.3 1983.6,862.4 1984.6,864.5 1985.6,866.4 1986.6,864.4 1987.7,862.5 1988.7,861.9 1989.8,860.8 1990.8,859.9 1991.9,859.5 1992.9,858.0 1993.2,856.4 1993.6,854.4 1994.0,852.2 1994.3,850.5 1994.7,848.6 1995.0,846.9 1995.3,844.6 1995.7,842.5 1996.0,842.0 1996.4,841.2 1996.8,839.4 1997.1,838.5 1997.5,836.5 1997.8,834.2 1998.2,833.3 1998.6,831.8 1999.0,829.7 1999.5,828.3 1999.9,827.2 2000.3,825.6 2000.7,824.2 2001.1,822.3 2001.5,819.9 2002.0,818.6 2002.4,816.9 2002.8,814.1 2003.2,812.2 2003.7,810.9 2004.2,809.8 2004.6,808.7 2005.0,807.3 2005.5,806.6 2006.0,805.5 2006.4,803.1 2007.2,801.3 2008.0,800.0 2008.7,798.3 2009.5,796.5 2010.3,794.7 2011.0,793.2 2011.8,791.3 2012.6,789.1 2013.2,787.6 2013.8,787.1 2014.4,786.4 2015.0,784.6 2015.7,782.3 2016.3,781.1 2016.9,780.0 2017.5,778.6 2018.1,777.0 2018.6,775.1 2019.2,773.3 2019.7,771.5 2020.3,769.5 2020.8,767.2 2021.4,765.7 2021.9,764.9 2022.5,763.6 2023.0,762.7 2023.6,761.7 2024.3,759.6 2024.9,757.8 2025.6,756.2 2026.2,754.7 2026.9,753.9 2027.6,753.0 2028.2,751.5 2028.9,749.7 2029.6,748.6 2030.2,747.6 2030.9,745.2 2031.5,742.9 2032.2,740.7 2032.5,738.5 2032.8,737.3 2033.1,735.9 2033.4,734.3 2033.7,733.5 2034.1,732.3 2034.4,729.7 2034.7,727.5 2035.0,726.5 2035.3,725.2 2035.6,723.1 2035.9,720.9 2036.1,719.1 2036.3,717.0 2036.5,715.2 2036.7,714.3 2036.9,713.5 2037.1,712.7 2037.3,711.2 2037.5,709.1 2037.8,706.6 2038.0,704.3 2038.2,704.0 2038.4,704.0 2038.6,701.2 2038.8,697.7 2039.0,695.3 2039.2,694.0 2039.4,693.7 2039.6,692.8 2039.8,690.6 2040.0,688.8 2040.2,687.7 2040.4,686.3 2040.6,684.5 2040.8,681.9 2041.0,679.2 2041.2,677.2 2041.4,676.5 2041.7,676.7 2041.9,674.9 2042.1,671.9 2042.3,670.8 2042.5,670.1 2042.7,668.0 2042.9,665.8 2043.1,664.8 2043.3,663.1 2043.4,660.0 2043.6,657.4 2043.7,656.2 2043.8,655.8 2043.9,654.2 2044.1,652.1 2044.2,651.2 2044.3,650.0 2044.4,648.1 2044.6,646.5 2044.7,645.0 2044.8,642.8 2044.9,640.9 2045.1,639.9 2045.2,637.8 2045.3,635.5 2045.4,633.8 2045.6,631.4 2045.7,629.6 2046.1,628.8 2046.5,627.6 2046.9,626.4 2047.3,624.9 2047.8,622.4 2048.2,620.5 2048.6,619.2 2049.0,618.4 2049.4,617.3 2050.0,614.9 2050.5,612.7 2051.1,611.3 2051.7,610.1 2052.2,608.6 2052.8,606.9 2053.4,605.9 2054.0,604.3 2054.5,601.8 2055.1,599.5 2055.7,597.8 2056.2,597.3 2056.8,597.0 2058.2,595.7 2059.7,594.2 2061.1,593.1 2062.5,591.6 2064.0,590.4 2065.4,589.6 2066.3,591.6 2067.1,594.0 2068.0,595.7 2068.9,595.9 2069.8,596.2 2070.6,597.8 2071.5,600.1 2072.2,602.3 2072.9,603.7 2073.6,605.1 2074.3,607.1 2074.9,608.6 2075.6,609.7 2076.3,610.9 2077.0,611.8 2077.7,612.8 2078.4,611.6 2079.1,611.2 2079.7,609.7 2080.4,608.5 2081.1,607.5 2081.8,605.3 2082.4,603.7 2083.1,602.4 2083.8,600.6 2084.2,599.2 2084.7,598.1 2085.1,596.2 2085.6,595.0 2086.0,595.0 2086.5,593.3 2086.9,590.8 2087.4,588.6 2087.8,586.6 2088.3,586.4 2088.7,585.8 2090.2,583.5 2091.7,581.5 2093.3,581.1 2094.8,580.5 2096.3,578.9 2098.0,578.5 2099.7,578.8 2101.4,579.3 2103.1,579.2 2104.3,577.4 2105.5,576.4 2106.6,575.5 2107.8,573.7 2109.0,571.6 2110.6,569.7 2112.3,569.0 2113.9,569.1 2114.3,567.9 2114.7,567.0 2115.1,564.9 2115.5,562.0 2115.9,561.3 2116.3,560.8 2116.7,559.6 2117.1,558.5 2117.5,556.2 2117.9,553.1 2119.5,553.6 2121.2,555.2 2122.8,557.5 2123.2,559.2 2123.7,560.3 2124.1,562.3 2124.6,563.9 2125.0,564.7 2125.5,565.7 2125.9,566.4 2126.4,568.8 2126.8,572.3 2127.3,574.6 2127.7,576.8 2127.9,578.8 2128.1,579.5 2128.3,579.8 2128.5,580.8 2128.7,582.7 2128.9,584.7 2129.1,587.2 2129.4,588.8 2129.6,588.7 2129.8,590.2 2130.0,592.6 2130.2,594.2 2130.4,596.5 2130.6,597.9 2130.9,598.3 2131.2,600.9 2131.5,604.7 2131.8,607.2 2132.2,607.1 2132.5,607.5 2132.8,609.5 2133.1,610.6 2133.4,612.6 2133.7,615.0 2134.0,616.9 2134.3,619.2 2134.7,620.1 2135.0,620.6 2135.3,622.2 2135.6,624.1 2135.7,625.5 2135.9,626.4 2136.0,627.9 2136.2,630.7 2136.3,632.9 2136.5,634.6 2136.6,636.4 2136.8,638.1 2136.9,639.8 2137.1,640.5 2137.2,641.0 2137.4,642.9 2137.5,645.2 2138.5,646.7 2139.5,648.1 2140.4,650.0 2141.4,651.7 2142.4,652.5 2143.4,653.2 2144.3,655.3 2145.2,657.0 2146.0,657.7 2146.9,659.0 2147.8,661.2 2148.7,663.6 2149.5,666.3 2150.4,668.3 2151.3,667.6 2151.8,667.2 2152.3,669.8 2152.8,672.5 2153.2,673.5 2153.7,674.8 2154.2,677.0 2154.7,679.3 2155.2,681.1 2156.5,682.4 2157.8,684.2 2159.1,685.1 2160.1,683.4 2161.1,681.5 2162.1,679.8 2163.0,679.0 2164.0,677.8 2165.0,676.0 2165.2,674.1 2165.5,672.8 2165.8,671.6 2166.0,669.5 2166.2,668.2 2166.5,666.7 2166.8,664.4 2167.0,663.3 2168.3,662.6 2169.5,661.5 2170.8,660.4 2172.0,658.5 2173.3,657.1 2174.5,656.1 2175.8,655.6 2176.7,658.0 2177.5,658.6 2178.4,658.9 2179.2,661.5 2180.1,663.8 2181.0,665.0 2181.8,666.7 2182.7,668.7 2183.1,670.4 2183.5,671.4 2183.9,672.2 2184.3,673.7 2184.7,674.8 2185.1,676.0 2185.6,678.7 2186.0,681.1 2186.4,682.8 2186.8,684.4 2187.2,685.6 2187.6,686.8 2188.5,688.6 2189.3,690.9 2190.2,692.6 2191.1,693.5 2191.9,694.0 2192.8,695.2 2193.6,698.0 2194.5,699.9 2195.2,700.2 2195.8,700.9 2196.4,702.3 2197.1,704.7 2197.8,707.5 2198.4,709.3 2199.6,709.5 2200.8,709.0 2201.9,709.8 2203.1,712.8 2204.3,715.6 2205.1,717.8 2205.8,719.2 2206.6,719.6 2207.4,720.4 2208.1,722.1 2208.9,723.9 2209.7,725.0 2210.4,725.8 2211.2,727.5 2211.9,730.4 2212.6,732.0 2213.3,732.3 2214.0,733.7 2214.7,736.4 2215.4,738.8 2216.1,740.9 2217.7,741.1 2219.3,740.9 2220.8,741.6 2222.4,742.0 2224.0,743.0 2224.8,745.3 2225.7,747.2 2226.5,748.9 2227.4,750.3 2228.2,751.4 2229.1,753.1 2229.9,754.8 2230.6,755.1 2231.4,756.1 2232.1,758.0 2232.9,759.5 2233.6,761.6 2234.3,763.4 2235.1,764.0 2235.8,765.0 2236.0,767.1 2236.1,769.6 2236.3,771.6 2236.4,772.6 2236.6,773.5 2236.8,775.7 2236.9,778.3 2237.1,779.8 2237.2,780.6 2237.4,781.6 2237.5,783.5 2237.7,785.9 2238.5,787.3 2239.4,788.6 2240.2,789.7 2241.1,790.5 2241.9,791.0 2242.8,792.6 2243.6,795.4 2245.2,794.6 2246.8,793.0 2248.3,791.9 2249.9,791.3 2251.5,790.1 2253.4,789.5 2255.4,790.3 2257.4,790.5 2259.3,789.9 2260.0,792.5 2260.7,795.2 2261.4,796.2 2262.1,797.6 2262.8,799.6 2263.5,801.3 2264.2,803.0 2265.1,804.1 2265.9,805.4 2266.8,806.8 2267.6,807.8 2268.5,808.9 2269.4,810.4 2270.2,813.0 2271.1,815.6 2271.7,816.7 2272.3,817.5 2272.9,819.4 2273.5,821.0 2274.1,821.8 2274.6,823.2 2275.2,824.2 2275.8,825.5 2276.4,828.8 2277.0,831.2 2277.7,832.4 2278.5,833.1 2279.2,833.7 2279.9,836.0 2280.7,839.0 2281.4,841.0 2282.2,841.6 2282.9,842.2 2283.6,840.8 2284.4,839.3 2285.1,838.1 2285.9,838.0 2286.6,836.8 2287.3,834.4 2288.1,832.7 2288.8,830.6 2289.2,828.1 2289.5,827.2 2289.9,826.0 2290.3,823.6 2290.6,822.5 2291.0,821.7 2291.4,820.2 2291.8,818.8 2292.1,817.5 2292.5,815.8 2292.9,813.1 2293.2,811.1 2293.6,810.2 2294.0,809.4 2294.3,807.5 2294.7,805.0 2296.2,803.7 2297.6,802.3 2299.1,800.7 2300.6,799.8 2301.9,799.8 2303.2,798.9 2304.5,796.8 2305.7,797.9 2306.9,799.6 2308.0,800.8 2309.2,802.3 2310.4,803.3 2311.7,803.9 2313.0,805.2 2314.4,805.9 2315.7,807.2 2317.0,808.3 2318.3,808.8 2318.8,810.8 2319.2,812.8 2319.7,814.5 2320.1,816.1 2320.6,817.3 2321.0,818.2 2321.5,820.8 2321.9,823.9 2322.4,824.5 2322.8,825.6 2323.3,827.6 2323.7,828.7 2324.2,830.1 2325.3,831.9 2326.4,833.4 2327.5,834.6 2328.7,835.3 2329.8,836.8 2330.9,838.9 2332.0,840.9 2332.2,839.6 2332.5,837.5 2332.8,835.1 2333.0,833.0 2333.2,831.2 2333.5,829.1 2333.8,827.6 2334.0,827.4 2334.2,826.7 2334.5,824.6 2334.8,822.4 2335.0,821.1 2335.2,819.5 2335.5,817.4 2335.8,815.6 2336.0,813.7 2336.1,812.1 2336.3,810.6 2336.4,808.9 2336.5,807.1 2336.7,806.0 2336.8,805.2 2336.9,803.5 2337.0,801.8 2337.2,799.5 2337.3,797.2 2337.4,796.5 2337.6,796.5 2337.7,795.6 2337.8,793.7 2337.9,791.1 2338.1,788.3 2338.2,786.2 2338.3,784.8 2338.5,784.1 2338.6,782.4 2338.7,780.3 2338.9,778.9 2339.0,776.8 2339.1,775.5 2339.2,775.1 2339.4,772.9 2339.5,770.4 2339.6,769.5 2339.8,769.0 2339.9,767.1 2340.1,764.5 2340.3,762.2 2340.6,760.0 2340.8,758.7 2341.0,757.3 2341.2,754.9 2341.4,753.0 2341.6,751.9 2341.9,750.2 2342.1,747.5 2342.3,746.4 2342.5,746.4 2342.7,744.5 2342.9,742.5 2343.2,741.3 2343.4,739.4 2343.6,736.7 2343.8,734.3 2345.1,734.3 2346.4,734.2 2347.7,732.3 2348.1,734.2 2348.5,736.2 2348.9,737.0 2349.3,738.8 2349.7,740.8 2350.1,741.6 2350.6,742.8 2351.0,745.2 2351.4,747.5 2351.8,748.1 2352.2,748.2 2352.6,750.4 2352.8,752.9 2352.9,754.1 2353.0,756.2 2353.2,758.5 2353.3,760.2 2353.5,762.2 2353.7,764.0 2353.8,764.8 2353.9,765.5 2354.1,768.1 2354.2,771.4 2354.4,773.7 2354.5,775.9 2354.7,777.4 2354.8,777.9 2355.0,778.9 2355.2,780.3 2355.3,781.3 2355.4,783.5 2355.6,785.3 2355.8,785.9 2355.9,788.2 2356.1,791.1 2356.2,792.6 2356.4,793.8 2356.5,795.2 2356.7,796.7 2356.8,798.0 2357.0,799.1 2357.2,800.3 2357.3,802.3 2357.5,804.6 2357.6,807.1 2357.8,808.9 2357.9,810.1 2358.1,811.7 2358.3,813.4 2358.4,815.5 2358.6,816.8 2358.7,817.8 2358.9,819.4 2359.0,820.9 2359.2,823.3 2359.3,825.9 2359.5,827.6 2360.1,828.4 2360.7,829.8 2361.3,832.4 2361.9,833.3 2362.5,833.3 2363.7,831.9 2364.9,830.1 2366.2,828.1 2367.4,827.8 2367.4,826.7 2367.5,824.0 2367.5,822.7 2367.6,822.6 2367.6,821.0 2367.7,818.6 2367.7,817.4 2367.8,816.0 2367.8,813.3 2367.9,811.8 2367.9,811.8 2368.0,810.4 2368.0,807.2 2368.1,804.5 2368.1,802.9 2368.2,801.6 2368.2,800.3 2368.3,798.9 2368.3,797.2 2368.4,795.2 2368.4,793.8 2368.5,793.5 2368.5,792.9 2368.6,791.0 2368.6,787.9 2368.7,786.2 2368.7,786.0 2368.8,784.0 2368.8,780.4 2368.9,778.8 2368.9,778.2 2369.0,776.3 2369.0,773.9" fill="none" stroke="#0000ff" stroke-width="9" stroke-linejoin="round" stroke-linecap="round" shape-rendering="crispEdges"/>
</g>
<line x1="183.5" y1="1811" x2="183.5" y2="1844.5" stroke="#000" stroke-width="7"/>
<line x1="494.1" y1="1811" x2="494.1" y2="1844.5" stroke="#000" stroke-width="7"/>
<line x1="804.6" y1="1811" x2="804.6" y2="1844.5" stroke="#000" stroke-width="7"/>
<line x1="1115.2" y1="1811" x2="1115.2" y2="1844.5" stroke="#000" stroke-width="7"/>
<line x1="1425.8" y1="1811" x2="1425.8" y2="1844.5" stroke="#000" stroke-width="7"/>
<line x1="1736.4" y1="1811" x2="1736.4" y2="1844.5" stroke="#000" stroke-width="7"/>
<line x1="2046.9" y1="1811" x2="2046.9" y2="1844.5" stroke="#000" stroke-width="7"/>
<line x1="2357.5" y1="1811" x2="2357.5" y2="1844.5" stroke="#000" stroke-width="7"/>
<line x1="338.8" y1="1811" x2="338.8" y2="1828" stroke="#000" stroke-width="7"/>
<line x1="649.4" y1="1811" x2="649.4" y2="1828" stroke="#000" stroke-width="7"/>
<line x1="959.9" y1="1811" x2="959.9" y2="1828" stroke="#000" stroke-width="7"/>
<line x1="1270.5" y1="1811" x2="1270.5" y2="1828" stroke="#000" stroke-width="7"/>
<line x1="1581.1" y1="1811" x2="1581.1" y2="1828" stroke="#000" stroke-width="7"/>
<line x1="1891.6" y1="1811" x2="1891.6" y2="1828" stroke="#000" stroke-width="7"/>
<line x1="2202.2" y1="1811" x2="2202.2" y2="1828" stroke="#000" stroke-width="7"/>
<text x="183.5" y="1926" class="tl">4000</text>
<text x="494.1" y="1926" class="tl">3500</text>
<text x="804.6" y="1926" class="tl">3000</text>
<text x="1115.2" y="1926" class="tl">2500</text>
<text x="1425.8" y="1926" class="tl">2000</text>
<text x="1736.4" y="1926" class="tl">1500</text>
<text x="2046.9" y="1926" class="tl">1000</text>
<text x="2357.5" y="1926" class="tl">500</text>
<line x1="679.6" y1="265.7" x2="680.0" y2="380.0" stroke="#000" stroke-width="2.2"/><polygon points="680.2,428.0 668.0,378.0 692.0,378.0" fill="#000"/>
<line x1="1558.5" y1="431.7" x2="1596.2" y2="475.1" stroke="#000" stroke-width="2.2"/><polygon points="1627.7,511.3 1585.8,481.4 1604.0,465.7" fill="#000"/>
<line x1="1663.8" y1="303.4" x2="1664.1" y2="384.8" stroke="#000" stroke-width="2.2"/><polygon points="1664.2,432.8 1652.0,382.8 1676.0,382.8" fill="#000"/>
<line x1="1978.3" y1="281.3" x2="1865.6" y2="404.4" stroke="#000" stroke-width="2.2"/><polygon points="1833.2,439.8 1858.1,394.8 1875.8,411.0" fill="#000"/>
<line x1="1983.4" y1="285.2" x2="1901.7" y2="422.7" stroke="#000" stroke-width="2.2"/><polygon points="1877.2,464.0 1892.4,414.9 1913.1,427.1" fill="#000"/>
<line x1="2003.2" y1="377.1" x2="1990.3" y2="400.7" stroke="#000" stroke-width="2.2"/><polygon points="1967.3,442.8 1980.7,393.2 2001.8,404.7" fill="#000"/>
<line x1="2009.8" y1="370.2" x2="2022.1" y2="401.1" stroke="#000" stroke-width="2.2"/><polygon points="2039.8,445.7 2010.2,403.7 2032.5,394.8" fill="#000"/>
<line x1="2245.1" y1="298.4" x2="2206.7" y2="390.4" stroke="#000" stroke-width="2.2"/><polygon points="2188.2,434.7 2196.4,383.9 2218.5,393.2" fill="#000"/>
<line x1="2247.7" y1="301.3" x2="2267.5" y2="395.0" stroke="#000" stroke-width="2.2"/><polygon points="2277.4,442.0 2255.3,395.6 2278.8,390.6" fill="#000"/>
<line x1="2246.2" y1="299.1" x2="2304.4" y2="389.4" stroke="#000" stroke-width="2.2"/><polygon points="2330.4,429.7 2293.2,394.2 2313.4,381.2" fill="#000"/>
<text x="631.5" y="251.2" class="an">O-H</text>
<text x="431.4" y="432.8" class="an">O-H/N-H</text>
<text x="784.4" y="414.7" class="an">C<tspan style="font-weight:normal">–</tspan>H</text>
<text x="1482.7" y="421" class="an">C=O</text>
<text x="1571.9" y="283.9" class="an">N-H/O-H</text>
<text x="1708.4" y="464" class="an">C<tspan style="font-weight:normal">–</tspan>H</text>
<text x="1865.6" y="278.4" class="an">C-O/C-C</text>
<text x="1955.8" y="374.6" class="an">C-O</text>
<text x="2153.1" y="278.8" class="an">Ti-O-Ti</text>
<text transform="translate(1206,490) scale(0.94,1)" x="0" y="0" class="lb" fill="#0000ff">BT5</text>
<text transform="translate(1204.9,904.9) scale(0.94,1)" x="0" y="0" class="lb" fill="#00ff00">BT3</text>
<text transform="translate(1202.8,1230.8) scale(0.94,1)" x="0" y="0" class="lb" fill="#ff0000">BT1</text>
<text transform="translate(1202,1497.9) scale(0.94,1)" x="0" y="0" class="lb" fill="#000000">B</text>
<text x="845.4" y="2089" class="ax">Wavenumber (cm</text>
<text x="1605.8" y="2058.7" font-size="66" font-weight="normal" style="font-weight:normal">−</text>
<text x="1638.4" y="2052.3" font-size="66">1</text>
<text x="1679.4" y="2089" class="ax">)</text>
<text transform="translate(107.9,1324.8) rotate(-90)" x="0" y="0" class="ay">Transmittance (%)</text>
</svg>
</body></html>
